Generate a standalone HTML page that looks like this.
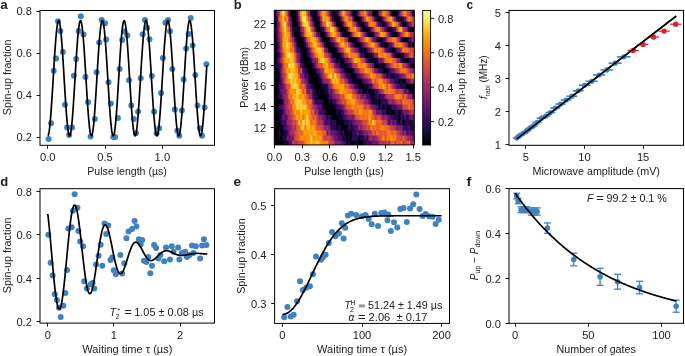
<!DOCTYPE html>
<html><head><meta charset="utf-8"><style>
html,body{margin:0;padding:0;background:#fff;}
svg{display:block;will-change:transform;}
text{font-family:"Liberation Sans", sans-serif;fill:#222;}
</style></head><body>
<svg width="685" height="356" viewBox="0 0 685 356">
<rect width="685" height="356" fill="#fff"/>
<text x="0.3" y="9.2" font-size="12" font-weight="bold" textLength="7.49" lengthAdjust="spacingAndGlyphs">a</text>
<circle cx="48.6" cy="139.1" r="3.0" fill="#4081bf"/>
<circle cx="51.1" cy="123.2" r="3.0" fill="#4081bf"/>
<circle cx="53.7" cy="70.7" r="3.0" fill="#4081bf"/>
<circle cx="56.1" cy="58.4" r="3.0" fill="#4081bf"/>
<circle cx="58" cy="21.2" r="3.0" fill="#4081bf"/>
<circle cx="60.4" cy="31.1" r="3.0" fill="#4081bf"/>
<circle cx="62.8" cy="52.1" r="3.0" fill="#4081bf"/>
<circle cx="65" cy="104.7" r="3.0" fill="#4081bf"/>
<circle cx="67.1" cy="127.5" r="3.0" fill="#4081bf"/>
<circle cx="69.1" cy="135.1" r="3.0" fill="#4081bf"/>
<circle cx="72.1" cy="127.5" r="3.0" fill="#4081bf"/>
<circle cx="73.9" cy="75.7" r="3.0" fill="#4081bf"/>
<circle cx="76.2" cy="58.9" r="3.0" fill="#4081bf"/>
<circle cx="78.6" cy="31.1" r="3.0" fill="#4081bf"/>
<circle cx="80.8" cy="16.3" r="3.0" fill="#4081bf"/>
<circle cx="83.5" cy="34.6" r="3.0" fill="#4081bf"/>
<circle cx="85.5" cy="77" r="3.0" fill="#4081bf"/>
<circle cx="88" cy="102.2" r="3.0" fill="#4081bf"/>
<circle cx="90.6" cy="136.6" r="3.0" fill="#4081bf"/>
<circle cx="94.9" cy="118.9" r="3.0" fill="#4081bf"/>
<circle cx="96.6" cy="72.2" r="3.0" fill="#4081bf"/>
<circle cx="99.2" cy="42.4" r="3.0" fill="#4081bf"/>
<circle cx="101.7" cy="20.1" r="3.0" fill="#4081bf"/>
<circle cx="105" cy="23.2" r="3.0" fill="#4081bf"/>
<circle cx="106.2" cy="39.6" r="3.0" fill="#4081bf"/>
<circle cx="108.5" cy="82.3" r="3.0" fill="#4081bf"/>
<circle cx="110.8" cy="103.5" r="3.0" fill="#4081bf"/>
<circle cx="113.3" cy="137.1" r="3.0" fill="#4081bf"/>
<circle cx="115.1" cy="137.1" r="3.0" fill="#4081bf"/>
<circle cx="117.9" cy="118.1" r="3.0" fill="#4081bf"/>
<circle cx="119.6" cy="69" r="3.0" fill="#4081bf"/>
<circle cx="122.2" cy="39.9" r="3.0" fill="#4081bf"/>
<circle cx="124.5" cy="31.5" r="3.0" fill="#4081bf"/>
<circle cx="127.3" cy="35.4" r="3.0" fill="#4081bf"/>
<circle cx="129" cy="80.3" r="3.0" fill="#4081bf"/>
<circle cx="131.3" cy="105.5" r="3.0" fill="#4081bf"/>
<circle cx="133.8" cy="118.9" r="3.0" fill="#4081bf"/>
<circle cx="135.9" cy="133.3" r="3.0" fill="#4081bf"/>
<circle cx="138.1" cy="111.8" r="3.0" fill="#4081bf"/>
<circle cx="140.7" cy="78.2" r="3.0" fill="#4081bf"/>
<circle cx="142.7" cy="34.2" r="3.0" fill="#4081bf"/>
<circle cx="145" cy="20.1" r="3.0" fill="#4081bf"/>
<circle cx="147.2" cy="27.7" r="3.0" fill="#4081bf"/>
<circle cx="149.5" cy="39.3" r="3.0" fill="#4081bf"/>
<circle cx="151.8" cy="75.9" r="3.0" fill="#4081bf"/>
<circle cx="154.1" cy="111.8" r="3.0" fill="#4081bf"/>
<circle cx="156.6" cy="133.3" r="3.0" fill="#4081bf"/>
<circle cx="159.1" cy="128.3" r="3.0" fill="#4081bf"/>
<circle cx="161.1" cy="92.9" r="3.0" fill="#4081bf"/>
<circle cx="162.9" cy="58" r="3.0" fill="#4081bf"/>
<circle cx="165.4" cy="22.7" r="3.0" fill="#4081bf"/>
<circle cx="168" cy="19.9" r="3.0" fill="#4081bf"/>
<circle cx="170" cy="31.3" r="3.0" fill="#4081bf"/>
<circle cx="172.3" cy="68.9" r="3.0" fill="#4081bf"/>
<circle cx="174.8" cy="109.5" r="3.0" fill="#4081bf"/>
<circle cx="177.3" cy="130.8" r="3.0" fill="#4081bf"/>
<circle cx="179.3" cy="135.8" r="3.0" fill="#4081bf"/>
<circle cx="181.9" cy="110.6" r="3.0" fill="#4081bf"/>
<circle cx="183.6" cy="79.4" r="3.0" fill="#4081bf"/>
<circle cx="186.2" cy="48.4" r="3.0" fill="#4081bf"/>
<circle cx="188.7" cy="34" r="3.0" fill="#4081bf"/>
<circle cx="190.7" cy="18.1" r="3.0" fill="#4081bf"/>
<circle cx="192.7" cy="45.4" r="3.0" fill="#4081bf"/>
<circle cx="195.3" cy="75.1" r="3.0" fill="#4081bf"/>
<circle cx="197.5" cy="105.5" r="3.0" fill="#4081bf"/>
<circle cx="199.8" cy="128.3" r="3.0" fill="#4081bf"/>
<circle cx="202.1" cy="135.8" r="3.0" fill="#4081bf"/>
<circle cx="204.6" cy="107.5" r="3.0" fill="#4081bf"/>
<circle cx="206.4" cy="64.3" r="3.0" fill="#4081bf"/>
<polyline points="47.75,135.81 47.98,135.68 48.21,135.31 48.43,134.7 48.66,133.84 48.89,132.75 49.12,131.42 49.34,129.86 49.57,128.08 49.8,126.09 50.03,123.89 50.25,121.5 50.48,118.92 50.71,116.16 50.94,113.25 51.16,110.18 51.39,106.98 51.62,103.65 51.85,100.21 52.07,96.68 52.3,93.07 52.53,89.4 52.76,85.68 52.98,81.92 53.21,78.15 53.44,74.39 53.67,70.63 53.89,66.91 54.12,63.24 54.35,59.63 54.58,56.11 54.8,52.67 55.03,49.35 55.26,46.15 55.49,43.09 55.71,40.18 55.94,37.43 56.17,34.85 56.4,32.47 56.62,30.27 56.85,28.29 57.08,26.52 57.31,24.97 57.54,23.64 57.76,22.56 57.99,21.71 58.22,21.1 58.45,20.74 58.67,20.62 58.9,20.75 59.13,21.13 59.36,21.75 59.58,22.62 59.81,23.72 60.04,25.06 60.27,26.62 60.49,28.41 60.72,30.41 60.95,32.61 61.18,35.01 61.4,37.6 61.63,40.36 61.86,43.28 62.09,46.35 62.31,49.56 62.54,52.89 62.77,56.33 63,59.86 63.22,63.47 63.45,67.15 63.68,70.87 63.91,74.63 64.13,78.39 64.36,82.16 64.59,85.92 64.82,89.63 65.04,93.3 65.27,96.91 65.5,100.43 65.73,103.86 65.95,107.18 66.18,110.38 66.41,113.44 66.64,116.34 66.87,119.09 67.09,121.65 67.32,124.04 67.55,126.22 67.78,128.2 68,129.96 68.23,131.51 68.46,132.82 68.69,133.9 68.91,134.74 69.14,135.34 69.37,135.7 69.6,135.81 69.82,135.67 70.05,135.28 70.28,134.65 70.51,133.78 70.73,132.67 70.96,131.32 71.19,129.75 71.42,127.96 71.64,125.95 71.87,123.74 72.1,121.34 72.33,118.75 72.55,115.98 72.78,113.05 73.01,109.98 73.24,106.77 73.46,103.43 73.69,99.99 73.92,96.45 74.15,92.84 74.37,89.16 74.6,85.44 74.83,81.68 75.06,77.91 75.28,74.15 75.51,70.39 75.74,66.68 75.97,63.01 76.2,59.41 76.42,55.88 76.65,52.46 76.88,49.14 77.11,45.95 77.33,42.9 77.56,40 77.79,37.26 78.02,34.7 78.24,32.32 78.47,30.14 78.7,28.17 78.93,26.41 79.15,24.88 79.38,23.57 79.61,22.5 79.84,21.66 80.06,21.07 80.29,20.72 80.52,20.62 80.75,20.77 80.97,21.16 81.2,21.8 81.43,22.68 81.66,23.8 81.88,25.15 82.11,26.73 82.34,28.53 82.57,30.54 82.79,32.76 83.02,35.17 83.25,37.77 83.48,40.54 83.7,43.47 83.93,46.55 84.16,49.77 84.39,53.1 84.61,56.55 84.84,60.09 85.07,63.71 85.3,67.38 85.53,71.11 85.75,74.87 85.98,78.64 86.21,82.4 86.44,86.15 86.66,89.87 86.89,93.54 87.12,97.14 87.35,100.66 87.57,104.08 87.8,107.39 88.03,110.58 88.26,113.63 88.48,116.52 88.71,119.26 88.94,121.81 89.17,124.18 89.39,126.35 89.62,128.32 89.85,130.07 90.08,131.6 90.3,132.9 90.53,133.96 90.76,134.79 90.99,135.37 91.21,135.71 91.44,135.8 91.67,135.65 91.9,135.25 92.12,134.6 92.35,133.71 92.58,132.59 92.81,131.23 93.03,129.64 93.26,127.84 93.49,125.82 93.72,123.59 93.94,121.18 94.17,118.57 94.4,115.8 94.63,112.86 94.86,109.78 95.08,106.56 95.31,103.22 95.54,99.77 95.77,96.23 95.99,92.61 96.22,88.93 96.45,85.2 96.68,81.44 96.9,77.67 97.13,73.91 97.36,70.16 97.59,66.44 97.81,62.78 98.04,59.18 98.27,55.66 98.5,52.24 98.72,48.93 98.95,45.75 99.18,42.71 99.41,39.82 99.63,37.09 99.86,34.54 100.09,32.18 100.32,30.01 100.54,28.05 100.77,26.31 101,24.79 101.23,23.49 101.45,22.44 101.68,21.62 101.91,21.04 102.14,20.71 102.36,20.63 102.59,20.79 102.82,21.2 103.05,21.85 103.27,22.75 103.5,23.88 103.73,25.25 103.96,26.84 104.19,28.65 104.41,30.68 104.64,32.91 104.87,35.33 105.1,37.94 105.32,40.72 105.55,43.66 105.78,46.75 106.01,49.98 106.23,53.32 106.46,56.77 106.69,60.32 106.92,63.94 107.14,67.62 107.37,71.35 107.6,75.11 107.83,78.88 108.05,82.64 108.28,86.39 108.51,90.11 108.74,93.77 108.96,97.36 109.19,100.88 109.42,104.29 109.65,107.6 109.87,110.78 110.1,113.82 110.33,116.7 110.56,119.42 110.78,121.97 111.01,124.33 111.24,126.48 111.47,128.44 111.69,130.17 111.92,131.69 112.15,132.97 112.38,134.02 112.6,134.83 112.83,135.4 113.06,135.73 113.29,135.8 113.51,135.63 113.74,135.21 113.97,134.55 114.2,133.65 114.43,132.51 114.65,131.14 114.88,129.54 115.11,127.72 115.34,125.68 115.56,123.45 115.79,121.02 116.02,118.4 116.25,115.62 116.47,112.67 116.7,109.58 116.93,106.35 117.16,103 117.38,99.54 117.61,96 117.84,92.37 118.07,88.69 118.29,84.96 118.52,81.2 118.75,77.43 118.98,73.67 119.2,69.92 119.43,66.21 119.66,62.55 119.89,58.95 120.11,55.44 120.34,52.03 120.57,48.73 120.8,45.55 121.02,42.52 121.25,39.64 121.48,36.92 121.71,34.38 121.93,32.03 122.16,29.88 122.39,27.93 122.62,26.2 122.84,24.7 123.07,23.42 123.3,22.38 123.53,21.57 123.76,21.01 123.98,20.7 124.21,20.63 124.44,20.81 124.67,21.23 124.89,21.9 125.12,22.81 125.35,23.96 125.58,25.34 125.8,26.95 126.03,28.78 126.26,30.81 126.49,33.06 126.71,35.49 126.94,38.11 127.17,40.9 127.4,43.85 127.62,46.95 127.85,50.19 128.08,53.54 128.31,57 128.53,60.55 128.76,64.17 128.99,67.86 129.22,71.59 129.44,75.35 129.67,79.12 129.9,82.88 130.13,86.63 130.35,90.34 130.58,94 130.81,97.59 131.04,101.1 131.26,104.51 131.49,107.8 131.72,110.97 131.95,114 132.17,116.88 132.4,119.59 132.63,122.12 132.86,124.47 133.09,126.62 133.31,128.55 133.54,130.28 133.77,131.78 134,133.05 134.22,134.08 134.45,134.88 134.68,135.43 134.91,135.74 135.13,135.8 135.36,135.61 135.59,135.18 135.82,134.5 136.04,133.58 136.27,132.43 136.5,131.04 136.73,129.43 136.95,127.59 137.18,125.55 137.41,123.3 137.64,120.86 137.86,118.23 138.09,115.43 138.32,112.48 138.55,109.37 138.77,106.14 139,102.78 139.23,99.32 139.46,95.77 139.68,92.14 139.91,88.45 140.14,84.72 140.37,80.96 140.59,77.19 140.82,73.43 141.05,69.68 141.28,65.97 141.5,62.31 141.73,58.73 141.96,55.22 142.19,51.81 142.42,48.52 142.64,45.35 142.87,42.33 143.1,39.46 143.33,36.75 143.55,34.23 143.78,31.89 144.01,29.75 144.24,27.82 144.46,26.1 144.69,24.61 144.92,23.34 145.15,22.32 145.37,21.53 145.6,20.98 145.83,20.69 146.06,20.63 146.28,20.83 146.51,21.27 146.74,21.95 146.97,22.88 147.19,24.04 147.42,25.44 147.65,27.06 147.88,28.9 148.1,30.95 148.33,33.21 148.56,35.65 148.79,38.28 149.01,41.09 149.24,44.05 149.47,47.16 149.7,50.4 149.92,53.76 150.15,57.22 150.38,60.78 150.61,64.41 150.83,68.09 151.06,71.83 151.29,75.59 151.52,79.36 151.75,83.12 151.97,86.87 152.2,90.58 152.43,94.23 152.66,97.82 152.88,101.32 153.11,104.72 153.34,108.01 153.57,111.17 153.79,114.19 154.02,117.06 154.25,119.76 154.48,122.28 154.7,124.61 154.93,126.75 155.16,128.67 155.39,130.38 155.61,131.87 155.84,133.12 156.07,134.14 156.3,134.92 156.52,135.46 156.75,135.75 156.98,135.79 157.21,135.59 157.43,135.14 157.66,134.45 157.89,133.52 158.12,132.35 158.34,130.94 158.57,129.32 158.8,127.47 159.03,125.41 159.25,123.15 159.48,120.69 159.71,118.06 159.94,115.25 160.16,112.28 160.39,109.17 160.62,105.93 160.85,102.56 161.08,99.1 161.3,95.54 161.53,91.91 161.76,88.22 161.99,84.48 162.21,80.72 162.44,76.95 162.67,73.19 162.9,69.44 163.12,65.74 163.35,62.08 163.58,58.5 163.81,55 164.03,51.6 164.26,48.31 164.49,45.16 164.72,42.14 164.94,39.28 165.17,36.59 165.4,34.07 165.63,31.75 165.85,29.62 166.08,27.7 166.31,26 166.54,24.52 166.76,23.27 166.99,22.26 167.22,21.49 167.45,20.96 167.67,20.67 167.9,20.64 168.13,20.85 168.36,21.3 168.58,22 168.81,22.94 169.04,24.12 169.27,25.53 169.49,27.17 169.72,29.02 169.95,31.09 170.18,33.36 170.41,35.82 170.63,38.46 170.86,41.27 171.09,44.24 171.32,47.36 171.54,50.61 171.77,53.97 172,57.44 172.23,61 172.45,64.64 172.68,68.33 172.91,72.07 173.14,75.83 173.36,79.6 173.59,83.36 173.82,87.11 174.05,90.81 174.27,94.46 174.5,98.04 174.73,101.54 174.96,104.93 175.18,108.22 175.41,111.37 175.64,114.38 175.87,117.24 176.09,119.92 176.32,122.43 176.55,124.75 176.78,126.87 177,128.79 177.23,130.48 177.46,131.95 177.69,133.19 177.91,134.2 178.14,134.96 178.37,135.48 178.6,135.76 178.82,135.79 179.05,135.57 179.28,135.11 179.51,134.4 179.74,133.45 179.96,132.26 180.19,130.85 180.42,129.2 180.65,127.34 180.87,125.27 181.1,123 181.33,120.53 181.56,117.88 181.78,115.07 182.01,112.09 182.24,108.97 182.47,105.72 182.69,102.35 182.92,98.87 183.15,95.31 183.38,91.67 183.6,87.98 183.83,84.24 184.06,80.48 184.29,76.71 184.51,72.95 184.74,69.2 184.97,65.5 185.2,61.85 185.42,58.27 185.65,54.78 185.88,51.39 186.11,48.11 186.33,44.96 186.56,41.95 186.79,39.1 187.02,36.42 187.24,33.92 187.47,31.6 187.7,29.49 187.93,27.58 188.15,25.9 188.38,24.43 188.61,23.2 188.84,22.2 189.07,21.45 189.29,20.93 189.52,20.67 189.75,20.64 189.98,20.87 190.2,21.34 190.43,22.06 190.66,23.01 190.89,24.21 191.11,25.63 191.34,27.28 191.57,29.15 191.8,31.23 192.02,33.51 192.25,35.98 192.48,38.63 192.71,41.46 192.93,44.44 193.16,47.56 193.39,50.82 193.62,54.19 193.84,57.67 194.07,61.23 194.3,64.87 194.53,68.57 194.75,72.3 194.98,76.07 195.21,79.84 195.44,83.6 195.66,87.34 195.89,91.04 196.12,94.69 196.35,98.27 196.57,101.76 196.8,105.15 197.03,108.42 197.26,111.57 197.48,114.57 197.71,117.41 197.94,120.09 198.17,122.59 198.4,124.9 198.62,127 198.85,128.9 199.08,130.58 199.31,132.04 199.53,133.26 199.76,134.25 199.99,135 200.22,135.51 200.44,135.77 200.67,135.78 200.9,135.55 201.13,135.07 201.35,134.35 201.58,133.38 201.81,132.18 202.04,130.75 202.26,129.09 202.49,127.22 202.72,125.13 202.95,122.84 203.17,120.37 203.4,117.71 203.63,114.88 203.86,111.89 204.08,108.77 204.31,105.5 204.54,102.13 204.77,98.65 204.99,95.08 205.22,91.44 205.45,87.74 205.68,84 205.9,80.24 206.13,76.47 206.36,72.71 206.59,68.97 206.81,65.27" fill="none" stroke="#000" stroke-width="1.7" stroke-linejoin="round" stroke-linecap="butt"/>
<rect x="40" y="10.5" width="174.5" height="134.8" fill="none" stroke="#000" stroke-width="1.0"/>
<line x1="36.5" y1="137.5" x2="40" y2="137.5" stroke="#000" stroke-width="0.9" />
<text x="31.9" y="140.8" font-size="10.0" text-anchor="end" textLength="15.46" lengthAdjust="spacingAndGlyphs" >0.2</text>
<line x1="36.5" y1="95.5" x2="40" y2="95.5" stroke="#000" stroke-width="0.9" />
<text x="31.9" y="98.9" font-size="10.0" text-anchor="end" textLength="15.46" lengthAdjust="spacingAndGlyphs" >0.4</text>
<line x1="36.5" y1="53.5" x2="40" y2="53.5" stroke="#000" stroke-width="0.9" />
<text x="31.9" y="57" font-size="10.0" text-anchor="end" textLength="15.46" lengthAdjust="spacingAndGlyphs" >0.6</text>
<line x1="36.5" y1="11.5" x2="40" y2="11.5" stroke="#000" stroke-width="0.9" />
<text x="31.9" y="15.1" font-size="10.0" text-anchor="end" textLength="15.46" lengthAdjust="spacingAndGlyphs" >0.8</text>
<line x1="47.5" y1="145.3" x2="47.5" y2="148.8" stroke="#000" stroke-width="0.9" />
<text x="47.75" y="161.2" font-size="10.0" text-anchor="middle" textLength="15.46" lengthAdjust="spacingAndGlyphs" >0.0</text>
<line x1="105.5" y1="145.3" x2="105.5" y2="148.8" stroke="#000" stroke-width="0.9" />
<text x="105.05" y="161.2" font-size="10.0" text-anchor="middle" textLength="15.46" lengthAdjust="spacingAndGlyphs" >0.5</text>
<line x1="162.5" y1="145.3" x2="162.5" y2="148.8" stroke="#000" stroke-width="0.9" />
<text x="162.35" y="161.2" font-size="10.0" text-anchor="middle" textLength="15.46" lengthAdjust="spacingAndGlyphs" >1.0</text>
<text x="127.1" y="174.5" font-size="10.0" text-anchor="middle" textLength="79.55" lengthAdjust="spacingAndGlyphs" >Pulse length (µs)</text>
<text transform="translate(10.6,77.4) rotate(-90)" font-size="10.0" text-anchor="middle" textLength="75.53" lengthAdjust="spacingAndGlyphs">Spin-up fraction</text>
<text x="233.8" y="9.2" font-size="12" font-weight="bold" textLength="7.95" lengthAdjust="spacingAndGlyphs">b</text>
<rect x="274.3" y="139.72" width="2.9" height="5.18" fill="#0a0722"/>
<rect x="276.3" y="139.72" width="2.9" height="5.18" fill="#000004"/>
<rect x="278.3" y="139.72" width="2.9" height="5.18" fill="#02010a"/>
<rect x="280.3" y="139.72" width="2.9" height="5.18" fill="#000004"/>
<rect x="282.3" y="139.72" width="2.9" height="5.18" fill="#08051d"/>
<rect x="284.3" y="139.72" width="2.9" height="5.18" fill="#1e0c45"/>
<rect x="286.3" y="139.72" width="2.9" height="5.18" fill="#0e092b"/>
<rect x="288.3" y="139.72" width="2.9" height="5.18" fill="#520e6d"/>
<rect x="290.3" y="139.72" width="2.9" height="5.18" fill="#5d126e"/>
<rect x="292.3" y="139.72" width="2.9" height="5.18" fill="#d54a41"/>
<rect x="294.3" y="139.72" width="2.9" height="5.18" fill="#ad305d"/>
<rect x="296.3" y="139.72" width="2.9" height="5.18" fill="#b93556"/>
<rect x="298.3" y="139.72" width="2.9" height="5.18" fill="#cf4446"/>
<rect x="300.3" y="139.72" width="2.9" height="5.18" fill="#da4e3c"/>
<rect x="302.3" y="139.72" width="2.9" height="5.18" fill="#e25734"/>
<rect x="304.3" y="139.72" width="2.9" height="5.18" fill="#f37819"/>
<rect x="306.3" y="139.72" width="2.9" height="5.18" fill="#fc9f07"/>
<rect x="308.3" y="139.72" width="2.9" height="5.18" fill="#fb9706"/>
<rect x="310.3" y="139.72" width="2.9" height="5.18" fill="#fac228"/>
<rect x="312.3" y="139.72" width="2.9" height="5.18" fill="#fca60c"/>
<rect x="314.3" y="139.72" width="2.9" height="5.18" fill="#fcac11"/>
<rect x="316.3" y="139.72" width="2.9" height="5.18" fill="#f7d340"/>
<rect x="318.3" y="139.72" width="2.9" height="5.18" fill="#fcae12"/>
<rect x="320.3" y="139.72" width="2.9" height="5.18" fill="#f8850f"/>
<rect x="322.3" y="139.72" width="2.9" height="5.18" fill="#f67e14"/>
<rect x="324.3" y="139.72" width="2.9" height="5.18" fill="#f67e14"/>
<rect x="326.3" y="139.72" width="2.9" height="5.18" fill="#f98e09"/>
<rect x="328.3" y="139.72" width="2.9" height="5.18" fill="#d54a41"/>
<rect x="330.3" y="139.72" width="2.9" height="5.18" fill="#c43c4e"/>
<rect x="332.3" y="139.72" width="2.9" height="5.18" fill="#ca404a"/>
<rect x="334.3" y="139.72" width="2.9" height="5.18" fill="#88226a"/>
<rect x="336.3" y="139.72" width="2.9" height="5.18" fill="#801f6c"/>
<rect x="338.3" y="139.72" width="2.9" height="5.18" fill="#85216b"/>
<rect x="340.3" y="139.72" width="2.9" height="5.18" fill="#69166e"/>
<rect x="342.3" y="139.72" width="2.9" height="5.18" fill="#4a0c6b"/>
<rect x="344.3" y="139.72" width="2.9" height="5.18" fill="#450a69"/>
<rect x="346.3" y="139.72" width="2.9" height="5.18" fill="#000004"/>
<rect x="348.3" y="139.72" width="2.9" height="5.18" fill="#310a5c"/>
<rect x="350.3" y="139.72" width="2.9" height="5.18" fill="#02020c"/>
<rect x="352.3" y="139.72" width="2.9" height="5.18" fill="#000004"/>
<rect x="354.3" y="139.72" width="2.9" height="5.18" fill="#0c0826"/>
<rect x="356.3" y="139.72" width="2.9" height="5.18" fill="#120a32"/>
<rect x="358.3" y="139.72" width="2.9" height="5.18" fill="#030210"/>
<rect x="360.3" y="139.72" width="2.9" height="5.18" fill="#010005"/>
<rect x="362.3" y="139.72" width="2.9" height="5.18" fill="#120a32"/>
<rect x="364.3" y="139.72" width="2.9" height="5.18" fill="#1b0c41"/>
<rect x="366.3" y="139.72" width="2.9" height="5.18" fill="#4d0d6c"/>
<rect x="368.3" y="139.72" width="2.9" height="5.18" fill="#4c0c6b"/>
<rect x="370.3" y="139.72" width="2.9" height="5.18" fill="#4f0d6c"/>
<rect x="372.3" y="139.72" width="2.9" height="5.18" fill="#771c6d"/>
<rect x="374.3" y="139.72" width="2.9" height="5.18" fill="#6a176e"/>
<rect x="376.3" y="139.72" width="2.9" height="5.18" fill="#6c186e"/>
<rect x="378.3" y="139.72" width="2.9" height="5.18" fill="#a22b62"/>
<rect x="380.3" y="139.72" width="2.9" height="5.18" fill="#b3325a"/>
<rect x="382.3" y="139.72" width="2.9" height="5.18" fill="#b1325a"/>
<rect x="384.3" y="139.72" width="2.9" height="5.18" fill="#b43359"/>
<rect x="386.3" y="139.72" width="2.9" height="5.18" fill="#d54a41"/>
<rect x="388.3" y="139.72" width="2.9" height="5.18" fill="#a62d60"/>
<rect x="390.3" y="139.72" width="2.9" height="5.18" fill="#eb6429"/>
<rect x="392.3" y="139.72" width="2.9" height="5.18" fill="#ec6726"/>
<rect x="394.3" y="139.72" width="2.9" height="5.18" fill="#ce4347"/>
<rect x="396.3" y="139.72" width="2.9" height="5.18" fill="#eb6628"/>
<rect x="398.3" y="139.72" width="2.9" height="5.18" fill="#dd513a"/>
<rect x="400.3" y="139.72" width="2.9" height="5.18" fill="#f2741c"/>
<rect x="402.3" y="139.72" width="2.9" height="5.18" fill="#c13a50"/>
<rect x="404.3" y="139.72" width="2.9" height="5.18" fill="#d24644"/>
<rect x="406.3" y="139.72" width="2.9" height="5.18" fill="#e65d2f"/>
<rect x="408.3" y="139.72" width="2.9" height="5.18" fill="#e65d2f"/>
<rect x="410.3" y="139.72" width="2.9" height="5.18" fill="#982766"/>
<rect x="412.3" y="139.72" width="2" height="5.18" fill="#b0315b"/>
<rect x="274.3" y="134.55" width="2.9" height="6.08" fill="#000004"/>
<rect x="276.3" y="134.55" width="2.9" height="6.08" fill="#000004"/>
<rect x="278.3" y="134.55" width="2.9" height="6.08" fill="#140b34"/>
<rect x="280.3" y="134.55" width="2.9" height="6.08" fill="#000004"/>
<rect x="282.3" y="134.55" width="2.9" height="6.08" fill="#1c0c43"/>
<rect x="284.3" y="134.55" width="2.9" height="6.08" fill="#140b34"/>
<rect x="286.3" y="134.55" width="2.9" height="6.08" fill="#69166e"/>
<rect x="288.3" y="134.55" width="2.9" height="6.08" fill="#64156e"/>
<rect x="290.3" y="134.55" width="2.9" height="6.08" fill="#781c6d"/>
<rect x="292.3" y="134.55" width="2.9" height="6.08" fill="#751b6e"/>
<rect x="294.3" y="134.55" width="2.9" height="6.08" fill="#da4e3c"/>
<rect x="296.3" y="134.55" width="2.9" height="6.08" fill="#de5238"/>
<rect x="298.3" y="134.55" width="2.9" height="6.08" fill="#ed6925"/>
<rect x="300.3" y="134.55" width="2.9" height="6.08" fill="#f8890c"/>
<rect x="302.3" y="134.55" width="2.9" height="6.08" fill="#f98b0b"/>
<rect x="304.3" y="134.55" width="2.9" height="6.08" fill="#f78212"/>
<rect x="306.3" y="134.55" width="2.9" height="6.08" fill="#f98b0b"/>
<rect x="308.3" y="134.55" width="2.9" height="6.08" fill="#fa9407"/>
<rect x="310.3" y="134.55" width="2.9" height="6.08" fill="#f6d746"/>
<rect x="312.3" y="134.55" width="2.9" height="6.08" fill="#f8870e"/>
<rect x="314.3" y="134.55" width="2.9" height="6.08" fill="#fb9906"/>
<rect x="316.3" y="134.55" width="2.9" height="6.08" fill="#fb9606"/>
<rect x="318.3" y="134.55" width="2.9" height="6.08" fill="#fb9606"/>
<rect x="320.3" y="134.55" width="2.9" height="6.08" fill="#f98e09"/>
<rect x="322.3" y="134.55" width="2.9" height="6.08" fill="#dd513a"/>
<rect x="324.3" y="134.55" width="2.9" height="6.08" fill="#c33b4f"/>
<rect x="326.3" y="134.55" width="2.9" height="6.08" fill="#d24644"/>
<rect x="328.3" y="134.55" width="2.9" height="6.08" fill="#d44842"/>
<rect x="330.3" y="134.55" width="2.9" height="6.08" fill="#b63458"/>
<rect x="332.3" y="134.55" width="2.9" height="6.08" fill="#922568"/>
<rect x="334.3" y="134.55" width="2.9" height="6.08" fill="#6c186e"/>
<rect x="336.3" y="134.55" width="2.9" height="6.08" fill="#64156e"/>
<rect x="338.3" y="134.55" width="2.9" height="6.08" fill="#400a67"/>
<rect x="340.3" y="134.55" width="2.9" height="6.08" fill="#470b6a"/>
<rect x="342.3" y="134.55" width="2.9" height="6.08" fill="#10092d"/>
<rect x="344.3" y="134.55" width="2.9" height="6.08" fill="#160b39"/>
<rect x="346.3" y="134.55" width="2.9" height="6.08" fill="#0a0722"/>
<rect x="348.3" y="134.55" width="2.9" height="6.08" fill="#10092d"/>
<rect x="350.3" y="134.55" width="2.9" height="6.08" fill="#08051d"/>
<rect x="352.3" y="134.55" width="2.9" height="6.08" fill="#3d0965"/>
<rect x="354.3" y="134.55" width="2.9" height="6.08" fill="#260c51"/>
<rect x="356.3" y="134.55" width="2.9" height="6.08" fill="#2d0b59"/>
<rect x="358.3" y="134.55" width="2.9" height="6.08" fill="#000004"/>
<rect x="360.3" y="134.55" width="2.9" height="6.08" fill="#190c3e"/>
<rect x="362.3" y="134.55" width="2.9" height="6.08" fill="#230c4c"/>
<rect x="364.3" y="134.55" width="2.9" height="6.08" fill="#520e6d"/>
<rect x="366.3" y="134.55" width="2.9" height="6.08" fill="#1f0c48"/>
<rect x="368.3" y="134.55" width="2.9" height="6.08" fill="#87216b"/>
<rect x="370.3" y="134.55" width="2.9" height="6.08" fill="#9a2865"/>
<rect x="372.3" y="134.55" width="2.9" height="6.08" fill="#771c6d"/>
<rect x="374.3" y="134.55" width="2.9" height="6.08" fill="#922568"/>
<rect x="376.3" y="134.55" width="2.9" height="6.08" fill="#a82e5f"/>
<rect x="378.3" y="134.55" width="2.9" height="6.08" fill="#cb4149"/>
<rect x="380.3" y="134.55" width="2.9" height="6.08" fill="#e15635"/>
<rect x="382.3" y="134.55" width="2.9" height="6.08" fill="#f78410"/>
<rect x="384.3" y="134.55" width="2.9" height="6.08" fill="#e45a31"/>
<rect x="386.3" y="134.55" width="2.9" height="6.08" fill="#f37819"/>
<rect x="388.3" y="134.55" width="2.9" height="6.08" fill="#ef6e21"/>
<rect x="390.3" y="134.55" width="2.9" height="6.08" fill="#fb9706"/>
<rect x="392.3" y="134.55" width="2.9" height="6.08" fill="#f57b17"/>
<rect x="394.3" y="134.55" width="2.9" height="6.08" fill="#f8870e"/>
<rect x="396.3" y="134.55" width="2.9" height="6.08" fill="#d54a41"/>
<rect x="398.3" y="134.55" width="2.9" height="6.08" fill="#de5238"/>
<rect x="400.3" y="134.55" width="2.9" height="6.08" fill="#ca404a"/>
<rect x="402.3" y="134.55" width="2.9" height="6.08" fill="#e75e2e"/>
<rect x="404.3" y="134.55" width="2.9" height="6.08" fill="#ce4347"/>
<rect x="406.3" y="134.55" width="2.9" height="6.08" fill="#a92e5e"/>
<rect x="408.3" y="134.55" width="2.9" height="6.08" fill="#952667"/>
<rect x="410.3" y="134.55" width="2.9" height="6.08" fill="#982766"/>
<rect x="412.3" y="134.55" width="2" height="6.08" fill="#6c186e"/>
<rect x="274.3" y="129.37" width="2.9" height="6.08" fill="#000004"/>
<rect x="276.3" y="129.37" width="2.9" height="6.08" fill="#000004"/>
<rect x="278.3" y="129.37" width="2.9" height="6.08" fill="#290b55"/>
<rect x="280.3" y="129.37" width="2.9" height="6.08" fill="#040314"/>
<rect x="282.3" y="129.37" width="2.9" height="6.08" fill="#0e092b"/>
<rect x="284.3" y="129.37" width="2.9" height="6.08" fill="#190c3e"/>
<rect x="286.3" y="129.37" width="2.9" height="6.08" fill="#320a5e"/>
<rect x="288.3" y="129.37" width="2.9" height="6.08" fill="#7d1e6d"/>
<rect x="290.3" y="129.37" width="2.9" height="6.08" fill="#a32c61"/>
<rect x="292.3" y="129.37" width="2.9" height="6.08" fill="#ae305c"/>
<rect x="294.3" y="129.37" width="2.9" height="6.08" fill="#cf4446"/>
<rect x="296.3" y="129.37" width="2.9" height="6.08" fill="#e05536"/>
<rect x="298.3" y="129.37" width="2.9" height="6.08" fill="#ef6c23"/>
<rect x="300.3" y="129.37" width="2.9" height="6.08" fill="#e55c30"/>
<rect x="302.3" y="129.37" width="2.9" height="6.08" fill="#f8870e"/>
<rect x="304.3" y="129.37" width="2.9" height="6.08" fill="#fca60c"/>
<rect x="306.3" y="129.37" width="2.9" height="6.08" fill="#fb9706"/>
<rect x="308.3" y="129.37" width="2.9" height="6.08" fill="#fca50a"/>
<rect x="310.3" y="129.37" width="2.9" height="6.08" fill="#fb9b06"/>
<rect x="312.3" y="129.37" width="2.9" height="6.08" fill="#fca108"/>
<rect x="314.3" y="129.37" width="2.9" height="6.08" fill="#fbb61a"/>
<rect x="316.3" y="129.37" width="2.9" height="6.08" fill="#f78410"/>
<rect x="318.3" y="129.37" width="2.9" height="6.08" fill="#f3761b"/>
<rect x="320.3" y="129.37" width="2.9" height="6.08" fill="#f37819"/>
<rect x="322.3" y="129.37" width="2.9" height="6.08" fill="#e65d2f"/>
<rect x="324.3" y="129.37" width="2.9" height="6.08" fill="#e65d2f"/>
<rect x="326.3" y="129.37" width="2.9" height="6.08" fill="#7f1e6c"/>
<rect x="328.3" y="129.37" width="2.9" height="6.08" fill="#a92e5e"/>
<rect x="330.3" y="129.37" width="2.9" height="6.08" fill="#6f196e"/>
<rect x="332.3" y="129.37" width="2.9" height="6.08" fill="#64156e"/>
<rect x="334.3" y="129.37" width="2.9" height="6.08" fill="#5d126e"/>
<rect x="336.3" y="129.37" width="2.9" height="6.08" fill="#4d0d6c"/>
<rect x="338.3" y="129.37" width="2.9" height="6.08" fill="#390963"/>
<rect x="340.3" y="129.37" width="2.9" height="6.08" fill="#150b37"/>
<rect x="342.3" y="129.37" width="2.9" height="6.08" fill="#2b0b57"/>
<rect x="344.3" y="129.37" width="2.9" height="6.08" fill="#02020e"/>
<rect x="346.3" y="129.37" width="2.9" height="6.08" fill="#02020e"/>
<rect x="348.3" y="129.37" width="2.9" height="6.08" fill="#10092d"/>
<rect x="350.3" y="129.37" width="2.9" height="6.08" fill="#02010a"/>
<rect x="352.3" y="129.37" width="2.9" height="6.08" fill="#3e0966"/>
<rect x="354.3" y="129.37" width="2.9" height="6.08" fill="#2f0a5b"/>
<rect x="356.3" y="129.37" width="2.9" height="6.08" fill="#5c126e"/>
<rect x="358.3" y="129.37" width="2.9" height="6.08" fill="#390963"/>
<rect x="360.3" y="129.37" width="2.9" height="6.08" fill="#470b6a"/>
<rect x="362.3" y="129.37" width="2.9" height="6.08" fill="#69166e"/>
<rect x="364.3" y="129.37" width="2.9" height="6.08" fill="#8d2369"/>
<rect x="366.3" y="129.37" width="2.9" height="6.08" fill="#84206b"/>
<rect x="368.3" y="129.37" width="2.9" height="6.08" fill="#b0315b"/>
<rect x="370.3" y="129.37" width="2.9" height="6.08" fill="#bc3754"/>
<rect x="372.3" y="129.37" width="2.9" height="6.08" fill="#e8602d"/>
<rect x="374.3" y="129.37" width="2.9" height="6.08" fill="#ce4347"/>
<rect x="376.3" y="129.37" width="2.9" height="6.08" fill="#f1711f"/>
<rect x="378.3" y="129.37" width="2.9" height="6.08" fill="#e15635"/>
<rect x="380.3" y="129.37" width="2.9" height="6.08" fill="#e15635"/>
<rect x="382.3" y="129.37" width="2.9" height="6.08" fill="#e8602d"/>
<rect x="384.3" y="129.37" width="2.9" height="6.08" fill="#e25734"/>
<rect x="386.3" y="129.37" width="2.9" height="6.08" fill="#f1731d"/>
<rect x="388.3" y="129.37" width="2.9" height="6.08" fill="#f78212"/>
<rect x="390.3" y="129.37" width="2.9" height="6.08" fill="#eb6429"/>
<rect x="392.3" y="129.37" width="2.9" height="6.08" fill="#ea632a"/>
<rect x="394.3" y="129.37" width="2.9" height="6.08" fill="#ee6a24"/>
<rect x="396.3" y="129.37" width="2.9" height="6.08" fill="#ce4347"/>
<rect x="398.3" y="129.37" width="2.9" height="6.08" fill="#bc3754"/>
<rect x="400.3" y="129.37" width="2.9" height="6.08" fill="#9f2a63"/>
<rect x="402.3" y="129.37" width="2.9" height="6.08" fill="#6c186e"/>
<rect x="404.3" y="129.37" width="2.9" height="6.08" fill="#902568"/>
<rect x="406.3" y="129.37" width="2.9" height="6.08" fill="#400a67"/>
<rect x="408.3" y="129.37" width="2.9" height="6.08" fill="#67166e"/>
<rect x="410.3" y="129.37" width="2.9" height="6.08" fill="#470b6a"/>
<rect x="412.3" y="129.37" width="2" height="6.08" fill="#540f6d"/>
<rect x="274.3" y="124.19" width="2.9" height="6.08" fill="#000004"/>
<rect x="276.3" y="124.19" width="2.9" height="6.08" fill="#000004"/>
<rect x="278.3" y="124.19" width="2.9" height="6.08" fill="#040312"/>
<rect x="280.3" y="124.19" width="2.9" height="6.08" fill="#040312"/>
<rect x="282.3" y="124.19" width="2.9" height="6.08" fill="#1c0c43"/>
<rect x="284.3" y="124.19" width="2.9" height="6.08" fill="#420a68"/>
<rect x="286.3" y="124.19" width="2.9" height="6.08" fill="#5d126e"/>
<rect x="288.3" y="124.19" width="2.9" height="6.08" fill="#7c1d6d"/>
<rect x="290.3" y="124.19" width="2.9" height="6.08" fill="#8d2369"/>
<rect x="292.3" y="124.19" width="2.9" height="6.08" fill="#bc3754"/>
<rect x="294.3" y="124.19" width="2.9" height="6.08" fill="#ad305d"/>
<rect x="296.3" y="124.19" width="2.9" height="6.08" fill="#e8602d"/>
<rect x="298.3" y="124.19" width="2.9" height="6.08" fill="#e8602d"/>
<rect x="300.3" y="124.19" width="2.9" height="6.08" fill="#fcb216"/>
<rect x="302.3" y="124.19" width="2.9" height="6.08" fill="#f9c72f"/>
<rect x="304.3" y="124.19" width="2.9" height="6.08" fill="#f57b17"/>
<rect x="306.3" y="124.19" width="2.9" height="6.08" fill="#fbba1f"/>
<rect x="308.3" y="124.19" width="2.9" height="6.08" fill="#fcb014"/>
<rect x="310.3" y="124.19" width="2.9" height="6.08" fill="#fa9008"/>
<rect x="312.3" y="124.19" width="2.9" height="6.08" fill="#fcae12"/>
<rect x="314.3" y="124.19" width="2.9" height="6.08" fill="#f68013"/>
<rect x="316.3" y="124.19" width="2.9" height="6.08" fill="#db503b"/>
<rect x="318.3" y="124.19" width="2.9" height="6.08" fill="#e35933"/>
<rect x="320.3" y="124.19" width="2.9" height="6.08" fill="#d34743"/>
<rect x="322.3" y="124.19" width="2.9" height="6.08" fill="#c03a51"/>
<rect x="324.3" y="124.19" width="2.9" height="6.08" fill="#85216b"/>
<rect x="326.3" y="124.19" width="2.9" height="6.08" fill="#932667"/>
<rect x="328.3" y="124.19" width="2.9" height="6.08" fill="#7a1d6d"/>
<rect x="330.3" y="124.19" width="2.9" height="6.08" fill="#320a5e"/>
<rect x="332.3" y="124.19" width="2.9" height="6.08" fill="#240c4f"/>
<rect x="334.3" y="124.19" width="2.9" height="6.08" fill="#1e0c45"/>
<rect x="336.3" y="124.19" width="2.9" height="6.08" fill="#07051b"/>
<rect x="338.3" y="124.19" width="2.9" height="6.08" fill="#2d0b59"/>
<rect x="340.3" y="124.19" width="2.9" height="6.08" fill="#060419"/>
<rect x="342.3" y="124.19" width="2.9" height="6.08" fill="#000004"/>
<rect x="344.3" y="124.19" width="2.9" height="6.08" fill="#000004"/>
<rect x="346.3" y="124.19" width="2.9" height="6.08" fill="#050417"/>
<rect x="348.3" y="124.19" width="2.9" height="6.08" fill="#440a68"/>
<rect x="350.3" y="124.19" width="2.9" height="6.08" fill="#150b37"/>
<rect x="352.3" y="124.19" width="2.9" height="6.08" fill="#2f0a5b"/>
<rect x="354.3" y="124.19" width="2.9" height="6.08" fill="#4f0d6c"/>
<rect x="356.3" y="124.19" width="2.9" height="6.08" fill="#59106e"/>
<rect x="358.3" y="124.19" width="2.9" height="6.08" fill="#a62d60"/>
<rect x="360.3" y="124.19" width="2.9" height="6.08" fill="#7d1e6d"/>
<rect x="362.3" y="124.19" width="2.9" height="6.08" fill="#b3325a"/>
<rect x="364.3" y="124.19" width="2.9" height="6.08" fill="#bc3754"/>
<rect x="366.3" y="124.19" width="2.9" height="6.08" fill="#d84c3e"/>
<rect x="368.3" y="124.19" width="2.9" height="6.08" fill="#c43c4e"/>
<rect x="370.3" y="124.19" width="2.9" height="6.08" fill="#f8870e"/>
<rect x="372.3" y="124.19" width="2.9" height="6.08" fill="#eb6628"/>
<rect x="374.3" y="124.19" width="2.9" height="6.08" fill="#f1731d"/>
<rect x="376.3" y="124.19" width="2.9" height="6.08" fill="#e8602d"/>
<rect x="378.3" y="124.19" width="2.9" height="6.08" fill="#eb6628"/>
<rect x="380.3" y="124.19" width="2.9" height="6.08" fill="#f78212"/>
<rect x="382.3" y="124.19" width="2.9" height="6.08" fill="#f8850f"/>
<rect x="384.3" y="124.19" width="2.9" height="6.08" fill="#f1731d"/>
<rect x="386.3" y="124.19" width="2.9" height="6.08" fill="#f06f20"/>
<rect x="388.3" y="124.19" width="2.9" height="6.08" fill="#e05536"/>
<rect x="390.3" y="124.19" width="2.9" height="6.08" fill="#c43c4e"/>
<rect x="392.3" y="124.19" width="2.9" height="6.08" fill="#c33b4f"/>
<rect x="394.3" y="124.19" width="2.9" height="6.08" fill="#a92e5e"/>
<rect x="396.3" y="124.19" width="2.9" height="6.08" fill="#84206b"/>
<rect x="398.3" y="124.19" width="2.9" height="6.08" fill="#801f6c"/>
<rect x="400.3" y="124.19" width="2.9" height="6.08" fill="#7a1d6d"/>
<rect x="402.3" y="124.19" width="2.9" height="6.08" fill="#4d0d6c"/>
<rect x="404.3" y="124.19" width="2.9" height="6.08" fill="#2d0b59"/>
<rect x="406.3" y="124.19" width="2.9" height="6.08" fill="#390963"/>
<rect x="408.3" y="124.19" width="2.9" height="6.08" fill="#4c0c6b"/>
<rect x="410.3" y="124.19" width="2.9" height="6.08" fill="#110a30"/>
<rect x="412.3" y="124.19" width="2" height="6.08" fill="#110a30"/>
<rect x="274.3" y="119.02" width="2.9" height="6.08" fill="#000004"/>
<rect x="276.3" y="119.02" width="2.9" height="6.08" fill="#07051b"/>
<rect x="278.3" y="119.02" width="2.9" height="6.08" fill="#000004"/>
<rect x="280.3" y="119.02" width="2.9" height="6.08" fill="#160b39"/>
<rect x="282.3" y="119.02" width="2.9" height="6.08" fill="#490b6a"/>
<rect x="284.3" y="119.02" width="2.9" height="6.08" fill="#380962"/>
<rect x="286.3" y="119.02" width="2.9" height="6.08" fill="#902568"/>
<rect x="288.3" y="119.02" width="2.9" height="6.08" fill="#9d2964"/>
<rect x="290.3" y="119.02" width="2.9" height="6.08" fill="#a52c60"/>
<rect x="292.3" y="119.02" width="2.9" height="6.08" fill="#d34743"/>
<rect x="294.3" y="119.02" width="2.9" height="6.08" fill="#cb4149"/>
<rect x="296.3" y="119.02" width="2.9" height="6.08" fill="#ed6925"/>
<rect x="298.3" y="119.02" width="2.9" height="6.08" fill="#fac42a"/>
<rect x="300.3" y="119.02" width="2.9" height="6.08" fill="#f98b0b"/>
<rect x="302.3" y="119.02" width="2.9" height="6.08" fill="#f2e661"/>
<rect x="304.3" y="119.02" width="2.9" height="6.08" fill="#fbb61a"/>
<rect x="306.3" y="119.02" width="2.9" height="6.08" fill="#f7d340"/>
<rect x="308.3" y="119.02" width="2.9" height="6.08" fill="#fcb014"/>
<rect x="310.3" y="119.02" width="2.9" height="6.08" fill="#eb6628"/>
<rect x="312.3" y="119.02" width="2.9" height="6.08" fill="#f57d15"/>
<rect x="314.3" y="119.02" width="2.9" height="6.08" fill="#f37819"/>
<rect x="316.3" y="119.02" width="2.9" height="6.08" fill="#d04545"/>
<rect x="318.3" y="119.02" width="2.9" height="6.08" fill="#b3325a"/>
<rect x="320.3" y="119.02" width="2.9" height="6.08" fill="#bc3754"/>
<rect x="322.3" y="119.02" width="2.9" height="6.08" fill="#85216b"/>
<rect x="324.3" y="119.02" width="2.9" height="6.08" fill="#4d0d6c"/>
<rect x="326.3" y="119.02" width="2.9" height="6.08" fill="#490b6a"/>
<rect x="328.3" y="119.02" width="2.9" height="6.08" fill="#520e6d"/>
<rect x="330.3" y="119.02" width="2.9" height="6.08" fill="#190c3e"/>
<rect x="332.3" y="119.02" width="2.9" height="6.08" fill="#260c51"/>
<rect x="334.3" y="119.02" width="2.9" height="6.08" fill="#260c51"/>
<rect x="336.3" y="119.02" width="2.9" height="6.08" fill="#030210"/>
<rect x="338.3" y="119.02" width="2.9" height="6.08" fill="#000004"/>
<rect x="340.3" y="119.02" width="2.9" height="6.08" fill="#000004"/>
<rect x="342.3" y="119.02" width="2.9" height="6.08" fill="#040314"/>
<rect x="344.3" y="119.02" width="2.9" height="6.08" fill="#1e0c45"/>
<rect x="346.3" y="119.02" width="2.9" height="6.08" fill="#1f0c48"/>
<rect x="348.3" y="119.02" width="2.9" height="6.08" fill="#3d0965"/>
<rect x="350.3" y="119.02" width="2.9" height="6.08" fill="#3d0965"/>
<rect x="352.3" y="119.02" width="2.9" height="6.08" fill="#69166e"/>
<rect x="354.3" y="119.02" width="2.9" height="6.08" fill="#71196e"/>
<rect x="356.3" y="119.02" width="2.9" height="6.08" fill="#8f2469"/>
<rect x="358.3" y="119.02" width="2.9" height="6.08" fill="#932667"/>
<rect x="360.3" y="119.02" width="2.9" height="6.08" fill="#a52c60"/>
<rect x="362.3" y="119.02" width="2.9" height="6.08" fill="#d04545"/>
<rect x="364.3" y="119.02" width="2.9" height="6.08" fill="#d34743"/>
<rect x="366.3" y="119.02" width="2.9" height="6.08" fill="#e15635"/>
<rect x="368.3" y="119.02" width="2.9" height="6.08" fill="#f8870e"/>
<rect x="370.3" y="119.02" width="2.9" height="6.08" fill="#f47918"/>
<rect x="372.3" y="119.02" width="2.9" height="6.08" fill="#f8cd37"/>
<rect x="374.3" y="119.02" width="2.9" height="6.08" fill="#fa9207"/>
<rect x="376.3" y="119.02" width="2.9" height="6.08" fill="#ea632a"/>
<rect x="378.3" y="119.02" width="2.9" height="6.08" fill="#f37819"/>
<rect x="380.3" y="119.02" width="2.9" height="6.08" fill="#e65d2f"/>
<rect x="382.3" y="119.02" width="2.9" height="6.08" fill="#c63d4d"/>
<rect x="384.3" y="119.02" width="2.9" height="6.08" fill="#d74b3f"/>
<rect x="386.3" y="119.02" width="2.9" height="6.08" fill="#982766"/>
<rect x="388.3" y="119.02" width="2.9" height="6.08" fill="#4c0c6b"/>
<rect x="390.3" y="119.02" width="2.9" height="6.08" fill="#8d2369"/>
<rect x="392.3" y="119.02" width="2.9" height="6.08" fill="#550f6d"/>
<rect x="394.3" y="119.02" width="2.9" height="6.08" fill="#71196e"/>
<rect x="396.3" y="119.02" width="2.9" height="6.08" fill="#290b55"/>
<rect x="398.3" y="119.02" width="2.9" height="6.08" fill="#0e092b"/>
<rect x="400.3" y="119.02" width="2.9" height="6.08" fill="#420a68"/>
<rect x="402.3" y="119.02" width="2.9" height="6.08" fill="#030210"/>
<rect x="404.3" y="119.02" width="2.9" height="6.08" fill="#140b34"/>
<rect x="406.3" y="119.02" width="2.9" height="6.08" fill="#310a5c"/>
<rect x="408.3" y="119.02" width="2.9" height="6.08" fill="#140b34"/>
<rect x="410.3" y="119.02" width="2.9" height="6.08" fill="#160b39"/>
<rect x="412.3" y="119.02" width="2" height="6.08" fill="#260c51"/>
<rect x="274.3" y="113.84" width="2.9" height="6.08" fill="#000004"/>
<rect x="276.3" y="113.84" width="2.9" height="6.08" fill="#000004"/>
<rect x="278.3" y="113.84" width="2.9" height="6.08" fill="#0b0724"/>
<rect x="280.3" y="113.84" width="2.9" height="6.08" fill="#210c4a"/>
<rect x="282.3" y="113.84" width="2.9" height="6.08" fill="#6c186e"/>
<rect x="284.3" y="113.84" width="2.9" height="6.08" fill="#4f0d6c"/>
<rect x="286.3" y="113.84" width="2.9" height="6.08" fill="#67166e"/>
<rect x="288.3" y="113.84" width="2.9" height="6.08" fill="#b1325a"/>
<rect x="290.3" y="113.84" width="2.9" height="6.08" fill="#ba3655"/>
<rect x="292.3" y="113.84" width="2.9" height="6.08" fill="#e35933"/>
<rect x="294.3" y="113.84" width="2.9" height="6.08" fill="#f1731d"/>
<rect x="296.3" y="113.84" width="2.9" height="6.08" fill="#fcaa0f"/>
<rect x="298.3" y="113.84" width="2.9" height="6.08" fill="#fa9008"/>
<rect x="300.3" y="113.84" width="2.9" height="6.08" fill="#fcb014"/>
<rect x="302.3" y="113.84" width="2.9" height="6.08" fill="#f3761b"/>
<rect x="304.3" y="113.84" width="2.9" height="6.08" fill="#fca108"/>
<rect x="306.3" y="113.84" width="2.9" height="6.08" fill="#f4dd4f"/>
<rect x="308.3" y="113.84" width="2.9" height="6.08" fill="#f98e09"/>
<rect x="310.3" y="113.84" width="2.9" height="6.08" fill="#f37819"/>
<rect x="312.3" y="113.84" width="2.9" height="6.08" fill="#e05536"/>
<rect x="314.3" y="113.84" width="2.9" height="6.08" fill="#e9612b"/>
<rect x="316.3" y="113.84" width="2.9" height="6.08" fill="#cb4149"/>
<rect x="318.3" y="113.84" width="2.9" height="6.08" fill="#8d2369"/>
<rect x="320.3" y="113.84" width="2.9" height="6.08" fill="#972766"/>
<rect x="322.3" y="113.84" width="2.9" height="6.08" fill="#6d186e"/>
<rect x="324.3" y="113.84" width="2.9" height="6.08" fill="#5a116e"/>
<rect x="326.3" y="113.84" width="2.9" height="6.08" fill="#1c0c43"/>
<rect x="328.3" y="113.84" width="2.9" height="6.08" fill="#400a67"/>
<rect x="330.3" y="113.84" width="2.9" height="6.08" fill="#0e092b"/>
<rect x="332.3" y="113.84" width="2.9" height="6.08" fill="#02010a"/>
<rect x="334.3" y="113.84" width="2.9" height="6.08" fill="#000004"/>
<rect x="336.3" y="113.84" width="2.9" height="6.08" fill="#000004"/>
<rect x="338.3" y="113.84" width="2.9" height="6.08" fill="#110a30"/>
<rect x="340.3" y="113.84" width="2.9" height="6.08" fill="#07051b"/>
<rect x="342.3" y="113.84" width="2.9" height="6.08" fill="#340a5f"/>
<rect x="344.3" y="113.84" width="2.9" height="6.08" fill="#400a67"/>
<rect x="346.3" y="113.84" width="2.9" height="6.08" fill="#6c186e"/>
<rect x="348.3" y="113.84" width="2.9" height="6.08" fill="#7c1d6d"/>
<rect x="350.3" y="113.84" width="2.9" height="6.08" fill="#84206b"/>
<rect x="352.3" y="113.84" width="2.9" height="6.08" fill="#751b6e"/>
<rect x="354.3" y="113.84" width="2.9" height="6.08" fill="#c33b4f"/>
<rect x="356.3" y="113.84" width="2.9" height="6.08" fill="#e05536"/>
<rect x="358.3" y="113.84" width="2.9" height="6.08" fill="#e55c30"/>
<rect x="360.3" y="113.84" width="2.9" height="6.08" fill="#f37819"/>
<rect x="362.3" y="113.84" width="2.9" height="6.08" fill="#ef6c23"/>
<rect x="364.3" y="113.84" width="2.9" height="6.08" fill="#f3761b"/>
<rect x="366.3" y="113.84" width="2.9" height="6.08" fill="#ef6c23"/>
<rect x="368.3" y="113.84" width="2.9" height="6.08" fill="#fca50a"/>
<rect x="370.3" y="113.84" width="2.9" height="6.08" fill="#f57b17"/>
<rect x="372.3" y="113.84" width="2.9" height="6.08" fill="#e75e2e"/>
<rect x="374.3" y="113.84" width="2.9" height="6.08" fill="#cc4248"/>
<rect x="376.3" y="113.84" width="2.9" height="6.08" fill="#d24644"/>
<rect x="378.3" y="113.84" width="2.9" height="6.08" fill="#dd513a"/>
<rect x="380.3" y="113.84" width="2.9" height="6.08" fill="#b3325a"/>
<rect x="382.3" y="113.84" width="2.9" height="6.08" fill="#7d1e6d"/>
<rect x="384.3" y="113.84" width="2.9" height="6.08" fill="#952667"/>
<rect x="386.3" y="113.84" width="2.9" height="6.08" fill="#7c1d6d"/>
<rect x="388.3" y="113.84" width="2.9" height="6.08" fill="#5a116e"/>
<rect x="390.3" y="113.84" width="2.9" height="6.08" fill="#420a68"/>
<rect x="392.3" y="113.84" width="2.9" height="6.08" fill="#390963"/>
<rect x="394.3" y="113.84" width="2.9" height="6.08" fill="#1e0c45"/>
<rect x="396.3" y="113.84" width="2.9" height="6.08" fill="#1c0c43"/>
<rect x="398.3" y="113.84" width="2.9" height="6.08" fill="#02020c"/>
<rect x="400.3" y="113.84" width="2.9" height="6.08" fill="#310a5c"/>
<rect x="402.3" y="113.84" width="2.9" height="6.08" fill="#190c3e"/>
<rect x="404.3" y="113.84" width="2.9" height="6.08" fill="#520e6d"/>
<rect x="406.3" y="113.84" width="2.9" height="6.08" fill="#060419"/>
<rect x="408.3" y="113.84" width="2.9" height="6.08" fill="#550f6d"/>
<rect x="410.3" y="113.84" width="2.9" height="6.08" fill="#71196e"/>
<rect x="412.3" y="113.84" width="2" height="6.08" fill="#69166e"/>
<rect x="274.3" y="108.66" width="2.9" height="6.08" fill="#000004"/>
<rect x="276.3" y="108.66" width="2.9" height="6.08" fill="#030210"/>
<rect x="278.3" y="108.66" width="2.9" height="6.08" fill="#0d0829"/>
<rect x="280.3" y="108.66" width="2.9" height="6.08" fill="#10092d"/>
<rect x="282.3" y="108.66" width="2.9" height="6.08" fill="#3b0964"/>
<rect x="284.3" y="108.66" width="2.9" height="6.08" fill="#7c1d6d"/>
<rect x="286.3" y="108.66" width="2.9" height="6.08" fill="#a92e5e"/>
<rect x="288.3" y="108.66" width="2.9" height="6.08" fill="#b43359"/>
<rect x="290.3" y="108.66" width="2.9" height="6.08" fill="#d44842"/>
<rect x="292.3" y="108.66" width="2.9" height="6.08" fill="#ed6925"/>
<rect x="294.3" y="108.66" width="2.9" height="6.08" fill="#fc9f07"/>
<rect x="296.3" y="108.66" width="2.9" height="6.08" fill="#f78212"/>
<rect x="298.3" y="108.66" width="2.9" height="6.08" fill="#f98c0a"/>
<rect x="300.3" y="108.66" width="2.9" height="6.08" fill="#fac026"/>
<rect x="302.3" y="108.66" width="2.9" height="6.08" fill="#fb9d07"/>
<rect x="304.3" y="108.66" width="2.9" height="6.08" fill="#fca50a"/>
<rect x="306.3" y="108.66" width="2.9" height="6.08" fill="#fca60c"/>
<rect x="308.3" y="108.66" width="2.9" height="6.08" fill="#fb9706"/>
<rect x="310.3" y="108.66" width="2.9" height="6.08" fill="#e15635"/>
<rect x="312.3" y="108.66" width="2.9" height="6.08" fill="#e9612b"/>
<rect x="314.3" y="108.66" width="2.9" height="6.08" fill="#9a2865"/>
<rect x="316.3" y="108.66" width="2.9" height="6.08" fill="#ab2f5e"/>
<rect x="318.3" y="108.66" width="2.9" height="6.08" fill="#57106e"/>
<rect x="320.3" y="108.66" width="2.9" height="6.08" fill="#3b0964"/>
<rect x="322.3" y="108.66" width="2.9" height="6.08" fill="#490b6a"/>
<rect x="324.3" y="108.66" width="2.9" height="6.08" fill="#140b34"/>
<rect x="326.3" y="108.66" width="2.9" height="6.08" fill="#02010a"/>
<rect x="328.3" y="108.66" width="2.9" height="6.08" fill="#000004"/>
<rect x="330.3" y="108.66" width="2.9" height="6.08" fill="#040314"/>
<rect x="332.3" y="108.66" width="2.9" height="6.08" fill="#010005"/>
<rect x="334.3" y="108.66" width="2.9" height="6.08" fill="#02020c"/>
<rect x="336.3" y="108.66" width="2.9" height="6.08" fill="#1c0c43"/>
<rect x="338.3" y="108.66" width="2.9" height="6.08" fill="#0a0722"/>
<rect x="340.3" y="108.66" width="2.9" height="6.08" fill="#240c4f"/>
<rect x="342.3" y="108.66" width="2.9" height="6.08" fill="#400a67"/>
<rect x="344.3" y="108.66" width="2.9" height="6.08" fill="#87216b"/>
<rect x="346.3" y="108.66" width="2.9" height="6.08" fill="#a32c61"/>
<rect x="348.3" y="108.66" width="2.9" height="6.08" fill="#c73e4c"/>
<rect x="350.3" y="108.66" width="2.9" height="6.08" fill="#c63d4d"/>
<rect x="352.3" y="108.66" width="2.9" height="6.08" fill="#d94d3d"/>
<rect x="354.3" y="108.66" width="2.9" height="6.08" fill="#f37819"/>
<rect x="356.3" y="108.66" width="2.9" height="6.08" fill="#ef6c23"/>
<rect x="358.3" y="108.66" width="2.9" height="6.08" fill="#fb9706"/>
<rect x="360.3" y="108.66" width="2.9" height="6.08" fill="#fb9b06"/>
<rect x="362.3" y="108.66" width="2.9" height="6.08" fill="#f3761b"/>
<rect x="364.3" y="108.66" width="2.9" height="6.08" fill="#f57d15"/>
<rect x="366.3" y="108.66" width="2.9" height="6.08" fill="#f06f20"/>
<rect x="368.3" y="108.66" width="2.9" height="6.08" fill="#f98b0b"/>
<rect x="370.3" y="108.66" width="2.9" height="6.08" fill="#f8870e"/>
<rect x="372.3" y="108.66" width="2.9" height="6.08" fill="#c13a50"/>
<rect x="374.3" y="108.66" width="2.9" height="6.08" fill="#a92e5e"/>
<rect x="376.3" y="108.66" width="2.9" height="6.08" fill="#57106e"/>
<rect x="378.3" y="108.66" width="2.9" height="6.08" fill="#751b6e"/>
<rect x="380.3" y="108.66" width="2.9" height="6.08" fill="#540f6d"/>
<rect x="382.3" y="108.66" width="2.9" height="6.08" fill="#210c4a"/>
<rect x="384.3" y="108.66" width="2.9" height="6.08" fill="#390963"/>
<rect x="386.3" y="108.66" width="2.9" height="6.08" fill="#010005"/>
<rect x="388.3" y="108.66" width="2.9" height="6.08" fill="#0a0722"/>
<rect x="390.3" y="108.66" width="2.9" height="6.08" fill="#0c0826"/>
<rect x="392.3" y="108.66" width="2.9" height="6.08" fill="#000004"/>
<rect x="394.3" y="108.66" width="2.9" height="6.08" fill="#210c4a"/>
<rect x="396.3" y="108.66" width="2.9" height="6.08" fill="#320a5e"/>
<rect x="398.3" y="108.66" width="2.9" height="6.08" fill="#0b0724"/>
<rect x="400.3" y="108.66" width="2.9" height="6.08" fill="#1b0c41"/>
<rect x="402.3" y="108.66" width="2.9" height="6.08" fill="#64156e"/>
<rect x="404.3" y="108.66" width="2.9" height="6.08" fill="#6f196e"/>
<rect x="406.3" y="108.66" width="2.9" height="6.08" fill="#6c186e"/>
<rect x="408.3" y="108.66" width="2.9" height="6.08" fill="#9a2865"/>
<rect x="410.3" y="108.66" width="2.9" height="6.08" fill="#b63458"/>
<rect x="412.3" y="108.66" width="2" height="6.08" fill="#c73e4c"/>
<rect x="274.3" y="103.48" width="2.9" height="6.08" fill="#000004"/>
<rect x="276.3" y="103.48" width="2.9" height="6.08" fill="#010108"/>
<rect x="278.3" y="103.48" width="2.9" height="6.08" fill="#2d0b59"/>
<rect x="280.3" y="103.48" width="2.9" height="6.08" fill="#450a69"/>
<rect x="282.3" y="103.48" width="2.9" height="6.08" fill="#5a116e"/>
<rect x="284.3" y="103.48" width="2.9" height="6.08" fill="#8c2369"/>
<rect x="286.3" y="103.48" width="2.9" height="6.08" fill="#ba3655"/>
<rect x="288.3" y="103.48" width="2.9" height="6.08" fill="#d24644"/>
<rect x="290.3" y="103.48" width="2.9" height="6.08" fill="#cb4149"/>
<rect x="292.3" y="103.48" width="2.9" height="6.08" fill="#f98c0a"/>
<rect x="294.3" y="103.48" width="2.9" height="6.08" fill="#fb9706"/>
<rect x="296.3" y="103.48" width="2.9" height="6.08" fill="#f4dd4f"/>
<rect x="298.3" y="103.48" width="2.9" height="6.08" fill="#fac026"/>
<rect x="300.3" y="103.48" width="2.9" height="6.08" fill="#f8cf3a"/>
<rect x="302.3" y="103.48" width="2.9" height="6.08" fill="#fac228"/>
<rect x="304.3" y="103.48" width="2.9" height="6.08" fill="#f6d746"/>
<rect x="306.3" y="103.48" width="2.9" height="6.08" fill="#fa9207"/>
<rect x="308.3" y="103.48" width="2.9" height="6.08" fill="#ec6726"/>
<rect x="310.3" y="103.48" width="2.9" height="6.08" fill="#e05536"/>
<rect x="312.3" y="103.48" width="2.9" height="6.08" fill="#b3325a"/>
<rect x="314.3" y="103.48" width="2.9" height="6.08" fill="#9a2865"/>
<rect x="316.3" y="103.48" width="2.9" height="6.08" fill="#71196e"/>
<rect x="318.3" y="103.48" width="2.9" height="6.08" fill="#540f6d"/>
<rect x="320.3" y="103.48" width="2.9" height="6.08" fill="#5a116e"/>
<rect x="322.3" y="103.48" width="2.9" height="6.08" fill="#0a0722"/>
<rect x="324.3" y="103.48" width="2.9" height="6.08" fill="#050417"/>
<rect x="326.3" y="103.48" width="2.9" height="6.08" fill="#000004"/>
<rect x="328.3" y="103.48" width="2.9" height="6.08" fill="#050417"/>
<rect x="330.3" y="103.48" width="2.9" height="6.08" fill="#000004"/>
<rect x="332.3" y="103.48" width="2.9" height="6.08" fill="#000004"/>
<rect x="334.3" y="103.48" width="2.9" height="6.08" fill="#120a32"/>
<rect x="336.3" y="103.48" width="2.9" height="6.08" fill="#390963"/>
<rect x="338.3" y="103.48" width="2.9" height="6.08" fill="#4a0c6b"/>
<rect x="340.3" y="103.48" width="2.9" height="6.08" fill="#61136e"/>
<rect x="342.3" y="103.48" width="2.9" height="6.08" fill="#7a1d6d"/>
<rect x="344.3" y="103.48" width="2.9" height="6.08" fill="#bc3754"/>
<rect x="346.3" y="103.48" width="2.9" height="6.08" fill="#e65d2f"/>
<rect x="348.3" y="103.48" width="2.9" height="6.08" fill="#e75e2e"/>
<rect x="350.3" y="103.48" width="2.9" height="6.08" fill="#f1711f"/>
<rect x="352.3" y="103.48" width="2.9" height="6.08" fill="#f98b0b"/>
<rect x="354.3" y="103.48" width="2.9" height="6.08" fill="#f1731d"/>
<rect x="356.3" y="103.48" width="2.9" height="6.08" fill="#f8850f"/>
<rect x="358.3" y="103.48" width="2.9" height="6.08" fill="#f78212"/>
<rect x="360.3" y="103.48" width="2.9" height="6.08" fill="#f78410"/>
<rect x="362.3" y="103.48" width="2.9" height="6.08" fill="#ed6925"/>
<rect x="364.3" y="103.48" width="2.9" height="6.08" fill="#ca404a"/>
<rect x="366.3" y="103.48" width="2.9" height="6.08" fill="#df5337"/>
<rect x="368.3" y="103.48" width="2.9" height="6.08" fill="#d34743"/>
<rect x="370.3" y="103.48" width="2.9" height="6.08" fill="#8a226a"/>
<rect x="372.3" y="103.48" width="2.9" height="6.08" fill="#7a1d6d"/>
<rect x="374.3" y="103.48" width="2.9" height="6.08" fill="#5a116e"/>
<rect x="376.3" y="103.48" width="2.9" height="6.08" fill="#4c0c6b"/>
<rect x="378.3" y="103.48" width="2.9" height="6.08" fill="#040314"/>
<rect x="380.3" y="103.48" width="2.9" height="6.08" fill="#380962"/>
<rect x="382.3" y="103.48" width="2.9" height="6.08" fill="#040312"/>
<rect x="384.3" y="103.48" width="2.9" height="6.08" fill="#1f0c48"/>
<rect x="386.3" y="103.48" width="2.9" height="6.08" fill="#0a0722"/>
<rect x="388.3" y="103.48" width="2.9" height="6.08" fill="#09061f"/>
<rect x="390.3" y="103.48" width="2.9" height="6.08" fill="#190c3e"/>
<rect x="392.3" y="103.48" width="2.9" height="6.08" fill="#490b6a"/>
<rect x="394.3" y="103.48" width="2.9" height="6.08" fill="#360961"/>
<rect x="396.3" y="103.48" width="2.9" height="6.08" fill="#5d126e"/>
<rect x="398.3" y="103.48" width="2.9" height="6.08" fill="#771c6d"/>
<rect x="400.3" y="103.48" width="2.9" height="6.08" fill="#771c6d"/>
<rect x="402.3" y="103.48" width="2.9" height="6.08" fill="#d34743"/>
<rect x="404.3" y="103.48" width="2.9" height="6.08" fill="#d84c3e"/>
<rect x="406.3" y="103.48" width="2.9" height="6.08" fill="#db503b"/>
<rect x="408.3" y="103.48" width="2.9" height="6.08" fill="#f37819"/>
<rect x="410.3" y="103.48" width="2.9" height="6.08" fill="#dd513a"/>
<rect x="412.3" y="103.48" width="2" height="6.08" fill="#eb6628"/>
<rect x="274.3" y="98.31" width="2.9" height="6.08" fill="#08051d"/>
<rect x="276.3" y="98.31" width="2.9" height="6.08" fill="#08051d"/>
<rect x="278.3" y="98.31" width="2.9" height="6.08" fill="#000004"/>
<rect x="280.3" y="98.31" width="2.9" height="6.08" fill="#000004"/>
<rect x="282.3" y="98.31" width="2.9" height="6.08" fill="#3d0965"/>
<rect x="284.3" y="98.31" width="2.9" height="6.08" fill="#9a2865"/>
<rect x="286.3" y="98.31" width="2.9" height="6.08" fill="#a22b62"/>
<rect x="288.3" y="98.31" width="2.9" height="6.08" fill="#cf4446"/>
<rect x="290.3" y="98.31" width="2.9" height="6.08" fill="#f37819"/>
<rect x="292.3" y="98.31" width="2.9" height="6.08" fill="#f2741c"/>
<rect x="294.3" y="98.31" width="2.9" height="6.08" fill="#fcae12"/>
<rect x="296.3" y="98.31" width="2.9" height="6.08" fill="#f7d13d"/>
<rect x="298.3" y="98.31" width="2.9" height="6.08" fill="#f8cf3a"/>
<rect x="300.3" y="98.31" width="2.9" height="6.08" fill="#f9c72f"/>
<rect x="302.3" y="98.31" width="2.9" height="6.08" fill="#fb9b06"/>
<rect x="304.3" y="98.31" width="2.9" height="6.08" fill="#fb9d07"/>
<rect x="306.3" y="98.31" width="2.9" height="6.08" fill="#eb6429"/>
<rect x="308.3" y="98.31" width="2.9" height="6.08" fill="#ed6925"/>
<rect x="310.3" y="98.31" width="2.9" height="6.08" fill="#e75e2e"/>
<rect x="312.3" y="98.31" width="2.9" height="6.08" fill="#7f1e6c"/>
<rect x="314.3" y="98.31" width="2.9" height="6.08" fill="#320a5e"/>
<rect x="316.3" y="98.31" width="2.9" height="6.08" fill="#380962"/>
<rect x="318.3" y="98.31" width="2.9" height="6.08" fill="#280b53"/>
<rect x="320.3" y="98.31" width="2.9" height="6.08" fill="#1e0c45"/>
<rect x="322.3" y="98.31" width="2.9" height="6.08" fill="#10092d"/>
<rect x="324.3" y="98.31" width="2.9" height="6.08" fill="#000004"/>
<rect x="326.3" y="98.31" width="2.9" height="6.08" fill="#000004"/>
<rect x="328.3" y="98.31" width="2.9" height="6.08" fill="#150b37"/>
<rect x="330.3" y="98.31" width="2.9" height="6.08" fill="#010005"/>
<rect x="332.3" y="98.31" width="2.9" height="6.08" fill="#3e0966"/>
<rect x="334.3" y="98.31" width="2.9" height="6.08" fill="#400a67"/>
<rect x="336.3" y="98.31" width="2.9" height="6.08" fill="#7c1d6d"/>
<rect x="338.3" y="98.31" width="2.9" height="6.08" fill="#9f2a63"/>
<rect x="340.3" y="98.31" width="2.9" height="6.08" fill="#c33b4f"/>
<rect x="342.3" y="98.31" width="2.9" height="6.08" fill="#df5337"/>
<rect x="344.3" y="98.31" width="2.9" height="6.08" fill="#d54a41"/>
<rect x="346.3" y="98.31" width="2.9" height="6.08" fill="#f57d15"/>
<rect x="348.3" y="98.31" width="2.9" height="6.08" fill="#f8870e"/>
<rect x="350.3" y="98.31" width="2.9" height="6.08" fill="#fb9906"/>
<rect x="352.3" y="98.31" width="2.9" height="6.08" fill="#fcb418"/>
<rect x="354.3" y="98.31" width="2.9" height="6.08" fill="#f78212"/>
<rect x="356.3" y="98.31" width="2.9" height="6.08" fill="#ec6726"/>
<rect x="358.3" y="98.31" width="2.9" height="6.08" fill="#df5337"/>
<rect x="360.3" y="98.31" width="2.9" height="6.08" fill="#d04545"/>
<rect x="362.3" y="98.31" width="2.9" height="6.08" fill="#cb4149"/>
<rect x="364.3" y="98.31" width="2.9" height="6.08" fill="#87216b"/>
<rect x="366.3" y="98.31" width="2.9" height="6.08" fill="#932667"/>
<rect x="368.3" y="98.31" width="2.9" height="6.08" fill="#5d126e"/>
<rect x="370.3" y="98.31" width="2.9" height="6.08" fill="#320a5e"/>
<rect x="372.3" y="98.31" width="2.9" height="6.08" fill="#060419"/>
<rect x="374.3" y="98.31" width="2.9" height="6.08" fill="#140b34"/>
<rect x="376.3" y="98.31" width="2.9" height="6.08" fill="#120a32"/>
<rect x="378.3" y="98.31" width="2.9" height="6.08" fill="#000004"/>
<rect x="380.3" y="98.31" width="2.9" height="6.08" fill="#1e0c45"/>
<rect x="382.3" y="98.31" width="2.9" height="6.08" fill="#360961"/>
<rect x="384.3" y="98.31" width="2.9" height="6.08" fill="#290b55"/>
<rect x="386.3" y="98.31" width="2.9" height="6.08" fill="#470b6a"/>
<rect x="388.3" y="98.31" width="2.9" height="6.08" fill="#902568"/>
<rect x="390.3" y="98.31" width="2.9" height="6.08" fill="#922568"/>
<rect x="392.3" y="98.31" width="2.9" height="6.08" fill="#7f1e6c"/>
<rect x="394.3" y="98.31" width="2.9" height="6.08" fill="#b1325a"/>
<rect x="396.3" y="98.31" width="2.9" height="6.08" fill="#c73e4c"/>
<rect x="398.3" y="98.31" width="2.9" height="6.08" fill="#d94d3d"/>
<rect x="400.3" y="98.31" width="2.9" height="6.08" fill="#bd3853"/>
<rect x="402.3" y="98.31" width="2.9" height="6.08" fill="#f57d15"/>
<rect x="404.3" y="98.31" width="2.9" height="6.08" fill="#e8602d"/>
<rect x="406.3" y="98.31" width="2.9" height="6.08" fill="#f06f20"/>
<rect x="408.3" y="98.31" width="2.9" height="6.08" fill="#e75e2e"/>
<rect x="410.3" y="98.31" width="2.9" height="6.08" fill="#eb6628"/>
<rect x="412.3" y="98.31" width="2" height="6.08" fill="#ca404a"/>
<rect x="274.3" y="93.13" width="2.9" height="6.08" fill="#000004"/>
<rect x="276.3" y="93.13" width="2.9" height="6.08" fill="#040312"/>
<rect x="278.3" y="93.13" width="2.9" height="6.08" fill="#2f0a5b"/>
<rect x="280.3" y="93.13" width="2.9" height="6.08" fill="#2d0b59"/>
<rect x="282.3" y="93.13" width="2.9" height="6.08" fill="#82206c"/>
<rect x="284.3" y="93.13" width="2.9" height="6.08" fill="#972766"/>
<rect x="286.3" y="93.13" width="2.9" height="6.08" fill="#b3325a"/>
<rect x="288.3" y="93.13" width="2.9" height="6.08" fill="#f47918"/>
<rect x="290.3" y="93.13" width="2.9" height="6.08" fill="#ed6925"/>
<rect x="292.3" y="93.13" width="2.9" height="6.08" fill="#fbbc21"/>
<rect x="294.3" y="93.13" width="2.9" height="6.08" fill="#fcaa0f"/>
<rect x="296.3" y="93.13" width="2.9" height="6.08" fill="#f8cf3a"/>
<rect x="298.3" y="93.13" width="2.9" height="6.08" fill="#fb9d07"/>
<rect x="300.3" y="93.13" width="2.9" height="6.08" fill="#fb9906"/>
<rect x="302.3" y="93.13" width="2.9" height="6.08" fill="#fcb216"/>
<rect x="304.3" y="93.13" width="2.9" height="6.08" fill="#f3761b"/>
<rect x="306.3" y="93.13" width="2.9" height="6.08" fill="#db503b"/>
<rect x="308.3" y="93.13" width="2.9" height="6.08" fill="#ad305d"/>
<rect x="310.3" y="93.13" width="2.9" height="6.08" fill="#952667"/>
<rect x="312.3" y="93.13" width="2.9" height="6.08" fill="#3e0966"/>
<rect x="314.3" y="93.13" width="2.9" height="6.08" fill="#1b0c41"/>
<rect x="316.3" y="93.13" width="2.9" height="6.08" fill="#120a32"/>
<rect x="318.3" y="93.13" width="2.9" height="6.08" fill="#000004"/>
<rect x="320.3" y="93.13" width="2.9" height="6.08" fill="#000004"/>
<rect x="322.3" y="93.13" width="2.9" height="6.08" fill="#000004"/>
<rect x="324.3" y="93.13" width="2.9" height="6.08" fill="#000004"/>
<rect x="326.3" y="93.13" width="2.9" height="6.08" fill="#040312"/>
<rect x="328.3" y="93.13" width="2.9" height="6.08" fill="#420a68"/>
<rect x="330.3" y="93.13" width="2.9" height="6.08" fill="#540f6d"/>
<rect x="332.3" y="93.13" width="2.9" height="6.08" fill="#7d1e6d"/>
<rect x="334.3" y="93.13" width="2.9" height="6.08" fill="#88226a"/>
<rect x="336.3" y="93.13" width="2.9" height="6.08" fill="#a52c60"/>
<rect x="338.3" y="93.13" width="2.9" height="6.08" fill="#b3325a"/>
<rect x="340.3" y="93.13" width="2.9" height="6.08" fill="#e35933"/>
<rect x="342.3" y="93.13" width="2.9" height="6.08" fill="#d94d3d"/>
<rect x="344.3" y="93.13" width="2.9" height="6.08" fill="#f67e14"/>
<rect x="346.3" y="93.13" width="2.9" height="6.08" fill="#fcac11"/>
<rect x="348.3" y="93.13" width="2.9" height="6.08" fill="#fac42a"/>
<rect x="350.3" y="93.13" width="2.9" height="6.08" fill="#fca309"/>
<rect x="352.3" y="93.13" width="2.9" height="6.08" fill="#e8602d"/>
<rect x="354.3" y="93.13" width="2.9" height="6.08" fill="#eb6429"/>
<rect x="356.3" y="93.13" width="2.9" height="6.08" fill="#bc3754"/>
<rect x="358.3" y="93.13" width="2.9" height="6.08" fill="#bd3853"/>
<rect x="360.3" y="93.13" width="2.9" height="6.08" fill="#84206b"/>
<rect x="362.3" y="93.13" width="2.9" height="6.08" fill="#751b6e"/>
<rect x="364.3" y="93.13" width="2.9" height="6.08" fill="#7c1d6d"/>
<rect x="366.3" y="93.13" width="2.9" height="6.08" fill="#390963"/>
<rect x="368.3" y="93.13" width="2.9" height="6.08" fill="#450a69"/>
<rect x="370.3" y="93.13" width="2.9" height="6.08" fill="#08051d"/>
<rect x="372.3" y="93.13" width="2.9" height="6.08" fill="#010108"/>
<rect x="374.3" y="93.13" width="2.9" height="6.08" fill="#1f0c48"/>
<rect x="376.3" y="93.13" width="2.9" height="6.08" fill="#380962"/>
<rect x="378.3" y="93.13" width="2.9" height="6.08" fill="#150b37"/>
<rect x="380.3" y="93.13" width="2.9" height="6.08" fill="#400a67"/>
<rect x="382.3" y="93.13" width="2.9" height="6.08" fill="#3d0965"/>
<rect x="384.3" y="93.13" width="2.9" height="6.08" fill="#7c1d6d"/>
<rect x="386.3" y="93.13" width="2.9" height="6.08" fill="#b63458"/>
<rect x="388.3" y="93.13" width="2.9" height="6.08" fill="#bf3952"/>
<rect x="390.3" y="93.13" width="2.9" height="6.08" fill="#cc4248"/>
<rect x="392.3" y="93.13" width="2.9" height="6.08" fill="#cf4446"/>
<rect x="394.3" y="93.13" width="2.9" height="6.08" fill="#f2741c"/>
<rect x="396.3" y="93.13" width="2.9" height="6.08" fill="#f8870e"/>
<rect x="398.3" y="93.13" width="2.9" height="6.08" fill="#f78212"/>
<rect x="400.3" y="93.13" width="2.9" height="6.08" fill="#f06f20"/>
<rect x="402.3" y="93.13" width="2.9" height="6.08" fill="#cf4446"/>
<rect x="404.3" y="93.13" width="2.9" height="6.08" fill="#ef6c23"/>
<rect x="406.3" y="93.13" width="2.9" height="6.08" fill="#bc3754"/>
<rect x="408.3" y="93.13" width="2.9" height="6.08" fill="#9b2964"/>
<rect x="410.3" y="93.13" width="2.9" height="6.08" fill="#902568"/>
<rect x="412.3" y="93.13" width="2" height="6.08" fill="#2b0b57"/>
<rect x="274.3" y="87.95" width="2.9" height="6.08" fill="#000004"/>
<rect x="276.3" y="87.95" width="2.9" height="6.08" fill="#000004"/>
<rect x="278.3" y="87.95" width="2.9" height="6.08" fill="#1c0c43"/>
<rect x="280.3" y="87.95" width="2.9" height="6.08" fill="#5f136e"/>
<rect x="282.3" y="87.95" width="2.9" height="6.08" fill="#7c1d6d"/>
<rect x="284.3" y="87.95" width="2.9" height="6.08" fill="#771c6d"/>
<rect x="286.3" y="87.95" width="2.9" height="6.08" fill="#c83f4b"/>
<rect x="288.3" y="87.95" width="2.9" height="6.08" fill="#ef6e21"/>
<rect x="290.3" y="87.95" width="2.9" height="6.08" fill="#fb9606"/>
<rect x="292.3" y="87.95" width="2.9" height="6.08" fill="#f98c0a"/>
<rect x="294.3" y="87.95" width="2.9" height="6.08" fill="#fa9407"/>
<rect x="296.3" y="87.95" width="2.9" height="6.08" fill="#f6d543"/>
<rect x="298.3" y="87.95" width="2.9" height="6.08" fill="#fac228"/>
<rect x="300.3" y="87.95" width="2.9" height="6.08" fill="#fb9b06"/>
<rect x="302.3" y="87.95" width="2.9" height="6.08" fill="#dd513a"/>
<rect x="304.3" y="87.95" width="2.9" height="6.08" fill="#f37819"/>
<rect x="306.3" y="87.95" width="2.9" height="6.08" fill="#741a6e"/>
<rect x="308.3" y="87.95" width="2.9" height="6.08" fill="#7f1e6c"/>
<rect x="310.3" y="87.95" width="2.9" height="6.08" fill="#8c2369"/>
<rect x="312.3" y="87.95" width="2.9" height="6.08" fill="#2b0b57"/>
<rect x="314.3" y="87.95" width="2.9" height="6.08" fill="#140b34"/>
<rect x="316.3" y="87.95" width="2.9" height="6.08" fill="#000004"/>
<rect x="318.3" y="87.95" width="2.9" height="6.08" fill="#0c0826"/>
<rect x="320.3" y="87.95" width="2.9" height="6.08" fill="#000004"/>
<rect x="322.3" y="87.95" width="2.9" height="6.08" fill="#040312"/>
<rect x="324.3" y="87.95" width="2.9" height="6.08" fill="#10092d"/>
<rect x="326.3" y="87.95" width="2.9" height="6.08" fill="#120a32"/>
<rect x="328.3" y="87.95" width="2.9" height="6.08" fill="#69166e"/>
<rect x="330.3" y="87.95" width="2.9" height="6.08" fill="#5c126e"/>
<rect x="332.3" y="87.95" width="2.9" height="6.08" fill="#982766"/>
<rect x="334.3" y="87.95" width="2.9" height="6.08" fill="#ce4347"/>
<rect x="336.3" y="87.95" width="2.9" height="6.08" fill="#e25734"/>
<rect x="338.3" y="87.95" width="2.9" height="6.08" fill="#f8890c"/>
<rect x="340.3" y="87.95" width="2.9" height="6.08" fill="#fcac11"/>
<rect x="342.3" y="87.95" width="2.9" height="6.08" fill="#fa9407"/>
<rect x="344.3" y="87.95" width="2.9" height="6.08" fill="#f98b0b"/>
<rect x="346.3" y="87.95" width="2.9" height="6.08" fill="#f57d15"/>
<rect x="348.3" y="87.95" width="2.9" height="6.08" fill="#ed6925"/>
<rect x="350.3" y="87.95" width="2.9" height="6.08" fill="#eb6628"/>
<rect x="352.3" y="87.95" width="2.9" height="6.08" fill="#bd3853"/>
<rect x="354.3" y="87.95" width="2.9" height="6.08" fill="#a52c60"/>
<rect x="356.3" y="87.95" width="2.9" height="6.08" fill="#721a6e"/>
<rect x="358.3" y="87.95" width="2.9" height="6.08" fill="#390963"/>
<rect x="360.3" y="87.95" width="2.9" height="6.08" fill="#400a67"/>
<rect x="362.3" y="87.95" width="2.9" height="6.08" fill="#02020e"/>
<rect x="364.3" y="87.95" width="2.9" height="6.08" fill="#060419"/>
<rect x="366.3" y="87.95" width="2.9" height="6.08" fill="#1b0c41"/>
<rect x="368.3" y="87.95" width="2.9" height="6.08" fill="#000004"/>
<rect x="370.3" y="87.95" width="2.9" height="6.08" fill="#0b0724"/>
<rect x="372.3" y="87.95" width="2.9" height="6.08" fill="#030210"/>
<rect x="374.3" y="87.95" width="2.9" height="6.08" fill="#310a5c"/>
<rect x="376.3" y="87.95" width="2.9" height="6.08" fill="#3d0965"/>
<rect x="378.3" y="87.95" width="2.9" height="6.08" fill="#7d1e6d"/>
<rect x="380.3" y="87.95" width="2.9" height="6.08" fill="#9f2a63"/>
<rect x="382.3" y="87.95" width="2.9" height="6.08" fill="#cc4248"/>
<rect x="384.3" y="87.95" width="2.9" height="6.08" fill="#f37819"/>
<rect x="386.3" y="87.95" width="2.9" height="6.08" fill="#f06f20"/>
<rect x="388.3" y="87.95" width="2.9" height="6.08" fill="#f8870e"/>
<rect x="390.3" y="87.95" width="2.9" height="6.08" fill="#f47918"/>
<rect x="392.3" y="87.95" width="2.9" height="6.08" fill="#f06f20"/>
<rect x="394.3" y="87.95" width="2.9" height="6.08" fill="#e05536"/>
<rect x="396.3" y="87.95" width="2.9" height="6.08" fill="#ba3655"/>
<rect x="398.3" y="87.95" width="2.9" height="6.08" fill="#c83f4b"/>
<rect x="400.3" y="87.95" width="2.9" height="6.08" fill="#cb4149"/>
<rect x="402.3" y="87.95" width="2.9" height="6.08" fill="#902568"/>
<rect x="404.3" y="87.95" width="2.9" height="6.08" fill="#57106e"/>
<rect x="406.3" y="87.95" width="2.9" height="6.08" fill="#6a176e"/>
<rect x="408.3" y="87.95" width="2.9" height="6.08" fill="#1c0c43"/>
<rect x="410.3" y="87.95" width="2.9" height="6.08" fill="#09061f"/>
<rect x="412.3" y="87.95" width="2" height="6.08" fill="#000004"/>
<rect x="274.3" y="82.78" width="2.9" height="6.08" fill="#000004"/>
<rect x="276.3" y="82.78" width="2.9" height="6.08" fill="#010005"/>
<rect x="278.3" y="82.78" width="2.9" height="6.08" fill="#4c0c6b"/>
<rect x="280.3" y="82.78" width="2.9" height="6.08" fill="#450a69"/>
<rect x="282.3" y="82.78" width="2.9" height="6.08" fill="#67166e"/>
<rect x="284.3" y="82.78" width="2.9" height="6.08" fill="#a62d60"/>
<rect x="286.3" y="82.78" width="2.9" height="6.08" fill="#da4e3c"/>
<rect x="288.3" y="82.78" width="2.9" height="6.08" fill="#e15635"/>
<rect x="290.3" y="82.78" width="2.9" height="6.08" fill="#fca80d"/>
<rect x="292.3" y="82.78" width="2.9" height="6.08" fill="#f7d340"/>
<rect x="294.3" y="82.78" width="2.9" height="6.08" fill="#f7d13d"/>
<rect x="296.3" y="82.78" width="2.9" height="6.08" fill="#f8cf3a"/>
<rect x="298.3" y="82.78" width="2.9" height="6.08" fill="#f78212"/>
<rect x="300.3" y="82.78" width="2.9" height="6.08" fill="#e25734"/>
<rect x="302.3" y="82.78" width="2.9" height="6.08" fill="#f1731d"/>
<rect x="304.3" y="82.78" width="2.9" height="6.08" fill="#cf4446"/>
<rect x="306.3" y="82.78" width="2.9" height="6.08" fill="#64156e"/>
<rect x="308.3" y="82.78" width="2.9" height="6.08" fill="#5c126e"/>
<rect x="310.3" y="82.78" width="2.9" height="6.08" fill="#290b55"/>
<rect x="312.3" y="82.78" width="2.9" height="6.08" fill="#140b34"/>
<rect x="314.3" y="82.78" width="2.9" height="6.08" fill="#02010a"/>
<rect x="316.3" y="82.78" width="2.9" height="6.08" fill="#000004"/>
<rect x="318.3" y="82.78" width="2.9" height="6.08" fill="#000004"/>
<rect x="320.3" y="82.78" width="2.9" height="6.08" fill="#050417"/>
<rect x="322.3" y="82.78" width="2.9" height="6.08" fill="#160b39"/>
<rect x="324.3" y="82.78" width="2.9" height="6.08" fill="#140b34"/>
<rect x="326.3" y="82.78" width="2.9" height="6.08" fill="#230c4c"/>
<rect x="328.3" y="82.78" width="2.9" height="6.08" fill="#88226a"/>
<rect x="330.3" y="82.78" width="2.9" height="6.08" fill="#a22b62"/>
<rect x="332.3" y="82.78" width="2.9" height="6.08" fill="#e8602d"/>
<rect x="334.3" y="82.78" width="2.9" height="6.08" fill="#f98e09"/>
<rect x="336.3" y="82.78" width="2.9" height="6.08" fill="#fb9b06"/>
<rect x="338.3" y="82.78" width="2.9" height="6.08" fill="#fb9606"/>
<rect x="340.3" y="82.78" width="2.9" height="6.08" fill="#fc9f07"/>
<rect x="342.3" y="82.78" width="2.9" height="6.08" fill="#fcac11"/>
<rect x="344.3" y="82.78" width="2.9" height="6.08" fill="#e8602d"/>
<rect x="346.3" y="82.78" width="2.9" height="6.08" fill="#ea632a"/>
<rect x="348.3" y="82.78" width="2.9" height="6.08" fill="#ca404a"/>
<rect x="350.3" y="82.78" width="2.9" height="6.08" fill="#972766"/>
<rect x="352.3" y="82.78" width="2.9" height="6.08" fill="#87216b"/>
<rect x="354.3" y="82.78" width="2.9" height="6.08" fill="#290b55"/>
<rect x="356.3" y="82.78" width="2.9" height="6.08" fill="#310a5c"/>
<rect x="358.3" y="82.78" width="2.9" height="6.08" fill="#000004"/>
<rect x="360.3" y="82.78" width="2.9" height="6.08" fill="#000004"/>
<rect x="362.3" y="82.78" width="2.9" height="6.08" fill="#000004"/>
<rect x="364.3" y="82.78" width="2.9" height="6.08" fill="#0e092b"/>
<rect x="366.3" y="82.78" width="2.9" height="6.08" fill="#07051b"/>
<rect x="368.3" y="82.78" width="2.9" height="6.08" fill="#390963"/>
<rect x="370.3" y="82.78" width="2.9" height="6.08" fill="#420a68"/>
<rect x="372.3" y="82.78" width="2.9" height="6.08" fill="#9f2a63"/>
<rect x="374.3" y="82.78" width="2.9" height="6.08" fill="#d34743"/>
<rect x="376.3" y="82.78" width="2.9" height="6.08" fill="#d34743"/>
<rect x="378.3" y="82.78" width="2.9" height="6.08" fill="#f78212"/>
<rect x="380.3" y="82.78" width="2.9" height="6.08" fill="#f67e14"/>
<rect x="382.3" y="82.78" width="2.9" height="6.08" fill="#fbba1f"/>
<rect x="384.3" y="82.78" width="2.9" height="6.08" fill="#f78212"/>
<rect x="386.3" y="82.78" width="2.9" height="6.08" fill="#de5238"/>
<rect x="388.3" y="82.78" width="2.9" height="6.08" fill="#f8850f"/>
<rect x="390.3" y="82.78" width="2.9" height="6.08" fill="#d44842"/>
<rect x="392.3" y="82.78" width="2.9" height="6.08" fill="#a22b62"/>
<rect x="394.3" y="82.78" width="2.9" height="6.08" fill="#85216b"/>
<rect x="396.3" y="82.78" width="2.9" height="6.08" fill="#490b6a"/>
<rect x="398.3" y="82.78" width="2.9" height="6.08" fill="#470b6a"/>
<rect x="400.3" y="82.78" width="2.9" height="6.08" fill="#110a30"/>
<rect x="402.3" y="82.78" width="2.9" height="6.08" fill="#380962"/>
<rect x="404.3" y="82.78" width="2.9" height="6.08" fill="#150b37"/>
<rect x="406.3" y="82.78" width="2.9" height="6.08" fill="#000004"/>
<rect x="408.3" y="82.78" width="2.9" height="6.08" fill="#000004"/>
<rect x="410.3" y="82.78" width="2.9" height="6.08" fill="#0d0829"/>
<rect x="412.3" y="82.78" width="2" height="6.08" fill="#08051d"/>
<rect x="274.3" y="77.6" width="2.9" height="6.08" fill="#000004"/>
<rect x="276.3" y="77.6" width="2.9" height="6.08" fill="#02020e"/>
<rect x="278.3" y="77.6" width="2.9" height="6.08" fill="#110a30"/>
<rect x="280.3" y="77.6" width="2.9" height="6.08" fill="#4a0c6b"/>
<rect x="282.3" y="77.6" width="2.9" height="6.08" fill="#9b2964"/>
<rect x="284.3" y="77.6" width="2.9" height="6.08" fill="#e05536"/>
<rect x="286.3" y="77.6" width="2.9" height="6.08" fill="#f8890c"/>
<rect x="288.3" y="77.6" width="2.9" height="6.08" fill="#fa9407"/>
<rect x="290.3" y="77.6" width="2.9" height="6.08" fill="#f8cd37"/>
<rect x="292.3" y="77.6" width="2.9" height="6.08" fill="#fcb216"/>
<rect x="294.3" y="77.6" width="2.9" height="6.08" fill="#f7d13d"/>
<rect x="296.3" y="77.6" width="2.9" height="6.08" fill="#fb9606"/>
<rect x="298.3" y="77.6" width="2.9" height="6.08" fill="#fb9d07"/>
<rect x="300.3" y="77.6" width="2.9" height="6.08" fill="#d24644"/>
<rect x="302.3" y="77.6" width="2.9" height="6.08" fill="#a92e5e"/>
<rect x="304.3" y="77.6" width="2.9" height="6.08" fill="#8a226a"/>
<rect x="306.3" y="77.6" width="2.9" height="6.08" fill="#62146e"/>
<rect x="308.3" y="77.6" width="2.9" height="6.08" fill="#08051d"/>
<rect x="310.3" y="77.6" width="2.9" height="6.08" fill="#02010a"/>
<rect x="312.3" y="77.6" width="2.9" height="6.08" fill="#000004"/>
<rect x="314.3" y="77.6" width="2.9" height="6.08" fill="#000004"/>
<rect x="316.3" y="77.6" width="2.9" height="6.08" fill="#000004"/>
<rect x="318.3" y="77.6" width="2.9" height="6.08" fill="#0a0722"/>
<rect x="320.3" y="77.6" width="2.9" height="6.08" fill="#1f0c48"/>
<rect x="322.3" y="77.6" width="2.9" height="6.08" fill="#751b6e"/>
<rect x="324.3" y="77.6" width="2.9" height="6.08" fill="#932667"/>
<rect x="326.3" y="77.6" width="2.9" height="6.08" fill="#982766"/>
<rect x="328.3" y="77.6" width="2.9" height="6.08" fill="#b1325a"/>
<rect x="330.3" y="77.6" width="2.9" height="6.08" fill="#f37819"/>
<rect x="332.3" y="77.6" width="2.9" height="6.08" fill="#fcb418"/>
<rect x="334.3" y="77.6" width="2.9" height="6.08" fill="#fca80d"/>
<rect x="336.3" y="77.6" width="2.9" height="6.08" fill="#fbbc21"/>
<rect x="338.3" y="77.6" width="2.9" height="6.08" fill="#f78410"/>
<rect x="340.3" y="77.6" width="2.9" height="6.08" fill="#e05536"/>
<rect x="342.3" y="77.6" width="2.9" height="6.08" fill="#e75e2e"/>
<rect x="344.3" y="77.6" width="2.9" height="6.08" fill="#b93556"/>
<rect x="346.3" y="77.6" width="2.9" height="6.08" fill="#982766"/>
<rect x="348.3" y="77.6" width="2.9" height="6.08" fill="#380962"/>
<rect x="350.3" y="77.6" width="2.9" height="6.08" fill="#340a5f"/>
<rect x="352.3" y="77.6" width="2.9" height="6.08" fill="#060419"/>
<rect x="354.3" y="77.6" width="2.9" height="6.08" fill="#0e092b"/>
<rect x="356.3" y="77.6" width="2.9" height="6.08" fill="#000004"/>
<rect x="358.3" y="77.6" width="2.9" height="6.08" fill="#000004"/>
<rect x="360.3" y="77.6" width="2.9" height="6.08" fill="#050417"/>
<rect x="362.3" y="77.6" width="2.9" height="6.08" fill="#4a0c6b"/>
<rect x="364.3" y="77.6" width="2.9" height="6.08" fill="#540f6d"/>
<rect x="366.3" y="77.6" width="2.9" height="6.08" fill="#6c186e"/>
<rect x="368.3" y="77.6" width="2.9" height="6.08" fill="#922568"/>
<rect x="370.3" y="77.6" width="2.9" height="6.08" fill="#b93556"/>
<rect x="372.3" y="77.6" width="2.9" height="6.08" fill="#f68013"/>
<rect x="374.3" y="77.6" width="2.9" height="6.08" fill="#da4e3c"/>
<rect x="376.3" y="77.6" width="2.9" height="6.08" fill="#f06f20"/>
<rect x="378.3" y="77.6" width="2.9" height="6.08" fill="#fb9606"/>
<rect x="380.3" y="77.6" width="2.9" height="6.08" fill="#fb9606"/>
<rect x="382.3" y="77.6" width="2.9" height="6.08" fill="#e65d2f"/>
<rect x="384.3" y="77.6" width="2.9" height="6.08" fill="#df5337"/>
<rect x="386.3" y="77.6" width="2.9" height="6.08" fill="#bf3952"/>
<rect x="388.3" y="77.6" width="2.9" height="6.08" fill="#9b2964"/>
<rect x="390.3" y="77.6" width="2.9" height="6.08" fill="#5d126e"/>
<rect x="392.3" y="77.6" width="2.9" height="6.08" fill="#5f136e"/>
<rect x="394.3" y="77.6" width="2.9" height="6.08" fill="#1c0c43"/>
<rect x="396.3" y="77.6" width="2.9" height="6.08" fill="#290b55"/>
<rect x="398.3" y="77.6" width="2.9" height="6.08" fill="#000004"/>
<rect x="400.3" y="77.6" width="2.9" height="6.08" fill="#190c3e"/>
<rect x="402.3" y="77.6" width="2.9" height="6.08" fill="#02020c"/>
<rect x="404.3" y="77.6" width="2.9" height="6.08" fill="#0c0826"/>
<rect x="406.3" y="77.6" width="2.9" height="6.08" fill="#5c126e"/>
<rect x="408.3" y="77.6" width="2.9" height="6.08" fill="#64156e"/>
<rect x="410.3" y="77.6" width="2.9" height="6.08" fill="#a62d60"/>
<rect x="412.3" y="77.6" width="2" height="6.08" fill="#a82e5f"/>
<rect x="274.3" y="72.42" width="2.9" height="6.08" fill="#0a0722"/>
<rect x="276.3" y="72.42" width="2.9" height="6.08" fill="#050417"/>
<rect x="278.3" y="72.42" width="2.9" height="6.08" fill="#110a30"/>
<rect x="280.3" y="72.42" width="2.9" height="6.08" fill="#69166e"/>
<rect x="282.3" y="72.42" width="2.9" height="6.08" fill="#b63458"/>
<rect x="284.3" y="72.42" width="2.9" height="6.08" fill="#c73e4c"/>
<rect x="286.3" y="72.42" width="2.9" height="6.08" fill="#f8870e"/>
<rect x="288.3" y="72.42" width="2.9" height="6.08" fill="#f3e35a"/>
<rect x="290.3" y="72.42" width="2.9" height="6.08" fill="#f4dd4f"/>
<rect x="292.3" y="72.42" width="2.9" height="6.08" fill="#f9cb35"/>
<rect x="294.3" y="72.42" width="2.9" height="6.08" fill="#fcac11"/>
<rect x="296.3" y="72.42" width="2.9" height="6.08" fill="#fca80d"/>
<rect x="298.3" y="72.42" width="2.9" height="6.08" fill="#d74b3f"/>
<rect x="300.3" y="72.42" width="2.9" height="6.08" fill="#84206b"/>
<rect x="302.3" y="72.42" width="2.9" height="6.08" fill="#82206c"/>
<rect x="304.3" y="72.42" width="2.9" height="6.08" fill="#3e0966"/>
<rect x="306.3" y="72.42" width="2.9" height="6.08" fill="#510e6c"/>
<rect x="308.3" y="72.42" width="2.9" height="6.08" fill="#08051d"/>
<rect x="310.3" y="72.42" width="2.9" height="6.08" fill="#000004"/>
<rect x="312.3" y="72.42" width="2.9" height="6.08" fill="#000004"/>
<rect x="314.3" y="72.42" width="2.9" height="6.08" fill="#040314"/>
<rect x="316.3" y="72.42" width="2.9" height="6.08" fill="#030210"/>
<rect x="318.3" y="72.42" width="2.9" height="6.08" fill="#290b55"/>
<rect x="320.3" y="72.42" width="2.9" height="6.08" fill="#69166e"/>
<rect x="322.3" y="72.42" width="2.9" height="6.08" fill="#a22b62"/>
<rect x="324.3" y="72.42" width="2.9" height="6.08" fill="#d24644"/>
<rect x="326.3" y="72.42" width="2.9" height="6.08" fill="#ef6e21"/>
<rect x="328.3" y="72.42" width="2.9" height="6.08" fill="#fcb418"/>
<rect x="330.3" y="72.42" width="2.9" height="6.08" fill="#f6d746"/>
<rect x="332.3" y="72.42" width="2.9" height="6.08" fill="#f57d15"/>
<rect x="334.3" y="72.42" width="2.9" height="6.08" fill="#f3e55d"/>
<rect x="336.3" y="72.42" width="2.9" height="6.08" fill="#f67e14"/>
<rect x="338.3" y="72.42" width="2.9" height="6.08" fill="#f06f20"/>
<rect x="340.3" y="72.42" width="2.9" height="6.08" fill="#a82e5f"/>
<rect x="342.3" y="72.42" width="2.9" height="6.08" fill="#8d2369"/>
<rect x="344.3" y="72.42" width="2.9" height="6.08" fill="#5a116e"/>
<rect x="346.3" y="72.42" width="2.9" height="6.08" fill="#2b0b57"/>
<rect x="348.3" y="72.42" width="2.9" height="6.08" fill="#1b0c41"/>
<rect x="350.3" y="72.42" width="2.9" height="6.08" fill="#09061f"/>
<rect x="352.3" y="72.42" width="2.9" height="6.08" fill="#000004"/>
<rect x="354.3" y="72.42" width="2.9" height="6.08" fill="#040314"/>
<rect x="356.3" y="72.42" width="2.9" height="6.08" fill="#2b0b57"/>
<rect x="358.3" y="72.42" width="2.9" height="6.08" fill="#520e6d"/>
<rect x="360.3" y="72.42" width="2.9" height="6.08" fill="#67166e"/>
<rect x="362.3" y="72.42" width="2.9" height="6.08" fill="#982766"/>
<rect x="364.3" y="72.42" width="2.9" height="6.08" fill="#c63d4d"/>
<rect x="366.3" y="72.42" width="2.9" height="6.08" fill="#d44842"/>
<rect x="368.3" y="72.42" width="2.9" height="6.08" fill="#e55c30"/>
<rect x="370.3" y="72.42" width="2.9" height="6.08" fill="#fbb61a"/>
<rect x="372.3" y="72.42" width="2.9" height="6.08" fill="#f78212"/>
<rect x="374.3" y="72.42" width="2.9" height="6.08" fill="#f68013"/>
<rect x="376.3" y="72.42" width="2.9" height="6.08" fill="#df5337"/>
<rect x="378.3" y="72.42" width="2.9" height="6.08" fill="#e65d2f"/>
<rect x="380.3" y="72.42" width="2.9" height="6.08" fill="#cf4446"/>
<rect x="382.3" y="72.42" width="2.9" height="6.08" fill="#771c6d"/>
<rect x="384.3" y="72.42" width="2.9" height="6.08" fill="#5d126e"/>
<rect x="386.3" y="72.42" width="2.9" height="6.08" fill="#180c3c"/>
<rect x="388.3" y="72.42" width="2.9" height="6.08" fill="#390963"/>
<rect x="390.3" y="72.42" width="2.9" height="6.08" fill="#150b37"/>
<rect x="392.3" y="72.42" width="2.9" height="6.08" fill="#000004"/>
<rect x="394.3" y="72.42" width="2.9" height="6.08" fill="#280b53"/>
<rect x="396.3" y="72.42" width="2.9" height="6.08" fill="#2b0b57"/>
<rect x="398.3" y="72.42" width="2.9" height="6.08" fill="#520e6d"/>
<rect x="400.3" y="72.42" width="2.9" height="6.08" fill="#781c6d"/>
<rect x="402.3" y="72.42" width="2.9" height="6.08" fill="#8a226a"/>
<rect x="404.3" y="72.42" width="2.9" height="6.08" fill="#b63458"/>
<rect x="406.3" y="72.42" width="2.9" height="6.08" fill="#e65d2f"/>
<rect x="408.3" y="72.42" width="2.9" height="6.08" fill="#eb6429"/>
<rect x="410.3" y="72.42" width="2.9" height="6.08" fill="#e65d2f"/>
<rect x="412.3" y="72.42" width="2" height="6.08" fill="#fca80d"/>
<rect x="274.3" y="67.25" width="2.9" height="6.08" fill="#000004"/>
<rect x="276.3" y="67.25" width="2.9" height="6.08" fill="#02020c"/>
<rect x="278.3" y="67.25" width="2.9" height="6.08" fill="#240c4f"/>
<rect x="280.3" y="67.25" width="2.9" height="6.08" fill="#84206b"/>
<rect x="282.3" y="67.25" width="2.9" height="6.08" fill="#c83f4b"/>
<rect x="284.3" y="67.25" width="2.9" height="6.08" fill="#e8602d"/>
<rect x="286.3" y="67.25" width="2.9" height="6.08" fill="#fca60c"/>
<rect x="288.3" y="67.25" width="2.9" height="6.08" fill="#fa9008"/>
<rect x="290.3" y="67.25" width="2.9" height="6.08" fill="#fac228"/>
<rect x="292.3" y="67.25" width="2.9" height="6.08" fill="#fbba1f"/>
<rect x="294.3" y="67.25" width="2.9" height="6.08" fill="#fca80d"/>
<rect x="296.3" y="67.25" width="2.9" height="6.08" fill="#f8850f"/>
<rect x="298.3" y="67.25" width="2.9" height="6.08" fill="#a82e5f"/>
<rect x="300.3" y="67.25" width="2.9" height="6.08" fill="#dd513a"/>
<rect x="302.3" y="67.25" width="2.9" height="6.08" fill="#4a0c6b"/>
<rect x="304.3" y="67.25" width="2.9" height="6.08" fill="#310a5c"/>
<rect x="306.3" y="67.25" width="2.9" height="6.08" fill="#140b34"/>
<rect x="308.3" y="67.25" width="2.9" height="6.08" fill="#040312"/>
<rect x="310.3" y="67.25" width="2.9" height="6.08" fill="#000004"/>
<rect x="312.3" y="67.25" width="2.9" height="6.08" fill="#000004"/>
<rect x="314.3" y="67.25" width="2.9" height="6.08" fill="#040312"/>
<rect x="316.3" y="67.25" width="2.9" height="6.08" fill="#59106e"/>
<rect x="318.3" y="67.25" width="2.9" height="6.08" fill="#69166e"/>
<rect x="320.3" y="67.25" width="2.9" height="6.08" fill="#9f2a63"/>
<rect x="322.3" y="67.25" width="2.9" height="6.08" fill="#b43359"/>
<rect x="324.3" y="67.25" width="2.9" height="6.08" fill="#fca309"/>
<rect x="326.3" y="67.25" width="2.9" height="6.08" fill="#fcb014"/>
<rect x="328.3" y="67.25" width="2.9" height="6.08" fill="#fb9606"/>
<rect x="330.3" y="67.25" width="2.9" height="6.08" fill="#fc9f07"/>
<rect x="332.3" y="67.25" width="2.9" height="6.08" fill="#f78212"/>
<rect x="334.3" y="67.25" width="2.9" height="6.08" fill="#d34743"/>
<rect x="336.3" y="67.25" width="2.9" height="6.08" fill="#b73557"/>
<rect x="338.3" y="67.25" width="2.9" height="6.08" fill="#8d2369"/>
<rect x="340.3" y="67.25" width="2.9" height="6.08" fill="#5f136e"/>
<rect x="342.3" y="67.25" width="2.9" height="6.08" fill="#420a68"/>
<rect x="344.3" y="67.25" width="2.9" height="6.08" fill="#07051b"/>
<rect x="346.3" y="67.25" width="2.9" height="6.08" fill="#000004"/>
<rect x="348.3" y="67.25" width="2.9" height="6.08" fill="#030210"/>
<rect x="350.3" y="67.25" width="2.9" height="6.08" fill="#02010a"/>
<rect x="352.3" y="67.25" width="2.9" height="6.08" fill="#0a0722"/>
<rect x="354.3" y="67.25" width="2.9" height="6.08" fill="#6d186e"/>
<rect x="356.3" y="67.25" width="2.9" height="6.08" fill="#7d1e6d"/>
<rect x="358.3" y="67.25" width="2.9" height="6.08" fill="#ba3655"/>
<rect x="360.3" y="67.25" width="2.9" height="6.08" fill="#e8602d"/>
<rect x="362.3" y="67.25" width="2.9" height="6.08" fill="#e45a31"/>
<rect x="364.3" y="67.25" width="2.9" height="6.08" fill="#fb9b06"/>
<rect x="366.3" y="67.25" width="2.9" height="6.08" fill="#fb9d07"/>
<rect x="368.3" y="67.25" width="2.9" height="6.08" fill="#f78212"/>
<rect x="370.3" y="67.25" width="2.9" height="6.08" fill="#f1711f"/>
<rect x="372.3" y="67.25" width="2.9" height="6.08" fill="#c43c4e"/>
<rect x="374.3" y="67.25" width="2.9" height="6.08" fill="#751b6e"/>
<rect x="376.3" y="67.25" width="2.9" height="6.08" fill="#71196e"/>
<rect x="378.3" y="67.25" width="2.9" height="6.08" fill="#310a5c"/>
<rect x="380.3" y="67.25" width="2.9" height="6.08" fill="#340a5f"/>
<rect x="382.3" y="67.25" width="2.9" height="6.08" fill="#0d0829"/>
<rect x="384.3" y="67.25" width="2.9" height="6.08" fill="#000004"/>
<rect x="386.3" y="67.25" width="2.9" height="6.08" fill="#050417"/>
<rect x="388.3" y="67.25" width="2.9" height="6.08" fill="#310a5c"/>
<rect x="390.3" y="67.25" width="2.9" height="6.08" fill="#4d0d6c"/>
<rect x="392.3" y="67.25" width="2.9" height="6.08" fill="#65156e"/>
<rect x="394.3" y="67.25" width="2.9" height="6.08" fill="#952667"/>
<rect x="396.3" y="67.25" width="2.9" height="6.08" fill="#b1325a"/>
<rect x="398.3" y="67.25" width="2.9" height="6.08" fill="#d54a41"/>
<rect x="400.3" y="67.25" width="2.9" height="6.08" fill="#f2741c"/>
<rect x="402.3" y="67.25" width="2.9" height="6.08" fill="#f1731d"/>
<rect x="404.3" y="67.25" width="2.9" height="6.08" fill="#f67e14"/>
<rect x="406.3" y="67.25" width="2.9" height="6.08" fill="#de5238"/>
<rect x="408.3" y="67.25" width="2.9" height="6.08" fill="#bd3853"/>
<rect x="410.3" y="67.25" width="2.9" height="6.08" fill="#982766"/>
<rect x="412.3" y="67.25" width="2" height="6.08" fill="#8c2369"/>
<rect x="274.3" y="62.07" width="2.9" height="6.08" fill="#07051b"/>
<rect x="276.3" y="62.07" width="2.9" height="6.08" fill="#230c4c"/>
<rect x="278.3" y="62.07" width="2.9" height="6.08" fill="#260c51"/>
<rect x="280.3" y="62.07" width="2.9" height="6.08" fill="#5d126e"/>
<rect x="282.3" y="62.07" width="2.9" height="6.08" fill="#d34743"/>
<rect x="284.3" y="62.07" width="2.9" height="6.08" fill="#f37819"/>
<rect x="286.3" y="62.07" width="2.9" height="6.08" fill="#f67e14"/>
<rect x="288.3" y="62.07" width="2.9" height="6.08" fill="#f3e55d"/>
<rect x="290.3" y="62.07" width="2.9" height="6.08" fill="#f7d13d"/>
<rect x="292.3" y="62.07" width="2.9" height="6.08" fill="#f4dd4f"/>
<rect x="294.3" y="62.07" width="2.9" height="6.08" fill="#fa9407"/>
<rect x="296.3" y="62.07" width="2.9" height="6.08" fill="#eb6628"/>
<rect x="298.3" y="62.07" width="2.9" height="6.08" fill="#b0315b"/>
<rect x="300.3" y="62.07" width="2.9" height="6.08" fill="#510e6c"/>
<rect x="302.3" y="62.07" width="2.9" height="6.08" fill="#260c51"/>
<rect x="304.3" y="62.07" width="2.9" height="6.08" fill="#000004"/>
<rect x="306.3" y="62.07" width="2.9" height="6.08" fill="#030210"/>
<rect x="308.3" y="62.07" width="2.9" height="6.08" fill="#000004"/>
<rect x="310.3" y="62.07" width="2.9" height="6.08" fill="#000004"/>
<rect x="312.3" y="62.07" width="2.9" height="6.08" fill="#2b0b57"/>
<rect x="314.3" y="62.07" width="2.9" height="6.08" fill="#6d186e"/>
<rect x="316.3" y="62.07" width="2.9" height="6.08" fill="#b1325a"/>
<rect x="318.3" y="62.07" width="2.9" height="6.08" fill="#de5238"/>
<rect x="320.3" y="62.07" width="2.9" height="6.08" fill="#d84c3e"/>
<rect x="322.3" y="62.07" width="2.9" height="6.08" fill="#f78212"/>
<rect x="324.3" y="62.07" width="2.9" height="6.08" fill="#fb9d07"/>
<rect x="326.3" y="62.07" width="2.9" height="6.08" fill="#fcac11"/>
<rect x="328.3" y="62.07" width="2.9" height="6.08" fill="#e75e2e"/>
<rect x="330.3" y="62.07" width="2.9" height="6.08" fill="#ed6925"/>
<rect x="332.3" y="62.07" width="2.9" height="6.08" fill="#ce4347"/>
<rect x="334.3" y="62.07" width="2.9" height="6.08" fill="#7a1d6d"/>
<rect x="336.3" y="62.07" width="2.9" height="6.08" fill="#5a116e"/>
<rect x="338.3" y="62.07" width="2.9" height="6.08" fill="#400a67"/>
<rect x="340.3" y="62.07" width="2.9" height="6.08" fill="#060419"/>
<rect x="342.3" y="62.07" width="2.9" height="6.08" fill="#0a0722"/>
<rect x="344.3" y="62.07" width="2.9" height="6.08" fill="#0b0724"/>
<rect x="346.3" y="62.07" width="2.9" height="6.08" fill="#110a30"/>
<rect x="348.3" y="62.07" width="2.9" height="6.08" fill="#380962"/>
<rect x="350.3" y="62.07" width="2.9" height="6.08" fill="#59106e"/>
<rect x="352.3" y="62.07" width="2.9" height="6.08" fill="#b63458"/>
<rect x="354.3" y="62.07" width="2.9" height="6.08" fill="#c33b4f"/>
<rect x="356.3" y="62.07" width="2.9" height="6.08" fill="#e25734"/>
<rect x="358.3" y="62.07" width="2.9" height="6.08" fill="#fb9906"/>
<rect x="360.3" y="62.07" width="2.9" height="6.08" fill="#f78212"/>
<rect x="362.3" y="62.07" width="2.9" height="6.08" fill="#fb9906"/>
<rect x="364.3" y="62.07" width="2.9" height="6.08" fill="#f98e09"/>
<rect x="366.3" y="62.07" width="2.9" height="6.08" fill="#dd513a"/>
<rect x="368.3" y="62.07" width="2.9" height="6.08" fill="#b43359"/>
<rect x="370.3" y="62.07" width="2.9" height="6.08" fill="#922568"/>
<rect x="372.3" y="62.07" width="2.9" height="6.08" fill="#5a116e"/>
<rect x="374.3" y="62.07" width="2.9" height="6.08" fill="#02020e"/>
<rect x="376.3" y="62.07" width="2.9" height="6.08" fill="#000004"/>
<rect x="378.3" y="62.07" width="2.9" height="6.08" fill="#150b37"/>
<rect x="380.3" y="62.07" width="2.9" height="6.08" fill="#0a0722"/>
<rect x="382.3" y="62.07" width="2.9" height="6.08" fill="#000004"/>
<rect x="384.3" y="62.07" width="2.9" height="6.08" fill="#1c0c43"/>
<rect x="386.3" y="62.07" width="2.9" height="6.08" fill="#6f196e"/>
<rect x="388.3" y="62.07" width="2.9" height="6.08" fill="#8a226a"/>
<rect x="390.3" y="62.07" width="2.9" height="6.08" fill="#d54a41"/>
<rect x="392.3" y="62.07" width="2.9" height="6.08" fill="#e9612b"/>
<rect x="394.3" y="62.07" width="2.9" height="6.08" fill="#f78410"/>
<rect x="396.3" y="62.07" width="2.9" height="6.08" fill="#ea632a"/>
<rect x="398.3" y="62.07" width="2.9" height="6.08" fill="#f78410"/>
<rect x="400.3" y="62.07" width="2.9" height="6.08" fill="#f8890c"/>
<rect x="402.3" y="62.07" width="2.9" height="6.08" fill="#b63458"/>
<rect x="404.3" y="62.07" width="2.9" height="6.08" fill="#b93556"/>
<rect x="406.3" y="62.07" width="2.9" height="6.08" fill="#82206c"/>
<rect x="408.3" y="62.07" width="2.9" height="6.08" fill="#4d0d6c"/>
<rect x="410.3" y="62.07" width="2.9" height="6.08" fill="#160b39"/>
<rect x="412.3" y="62.07" width="2" height="6.08" fill="#000004"/>
<rect x="274.3" y="56.89" width="2.9" height="6.08" fill="#000004"/>
<rect x="276.3" y="56.89" width="2.9" height="6.08" fill="#1f0c48"/>
<rect x="278.3" y="56.89" width="2.9" height="6.08" fill="#64156e"/>
<rect x="280.3" y="56.89" width="2.9" height="6.08" fill="#b0315b"/>
<rect x="282.3" y="56.89" width="2.9" height="6.08" fill="#e45a31"/>
<rect x="284.3" y="56.89" width="2.9" height="6.08" fill="#fb9906"/>
<rect x="286.3" y="56.89" width="2.9" height="6.08" fill="#fca80d"/>
<rect x="288.3" y="56.89" width="2.9" height="6.08" fill="#fcaa0f"/>
<rect x="290.3" y="56.89" width="2.9" height="6.08" fill="#f9cb35"/>
<rect x="292.3" y="56.89" width="2.9" height="6.08" fill="#fcae12"/>
<rect x="294.3" y="56.89" width="2.9" height="6.08" fill="#ed6925"/>
<rect x="296.3" y="56.89" width="2.9" height="6.08" fill="#982766"/>
<rect x="298.3" y="56.89" width="2.9" height="6.08" fill="#6a176e"/>
<rect x="300.3" y="56.89" width="2.9" height="6.08" fill="#120a32"/>
<rect x="302.3" y="56.89" width="2.9" height="6.08" fill="#09061f"/>
<rect x="304.3" y="56.89" width="2.9" height="6.08" fill="#000004"/>
<rect x="306.3" y="56.89" width="2.9" height="6.08" fill="#000004"/>
<rect x="308.3" y="56.89" width="2.9" height="6.08" fill="#050417"/>
<rect x="310.3" y="56.89" width="2.9" height="6.08" fill="#240c4f"/>
<rect x="312.3" y="56.89" width="2.9" height="6.08" fill="#7f1e6c"/>
<rect x="314.3" y="56.89" width="2.9" height="6.08" fill="#85216b"/>
<rect x="316.3" y="56.89" width="2.9" height="6.08" fill="#ab2f5e"/>
<rect x="318.3" y="56.89" width="2.9" height="6.08" fill="#fb9706"/>
<rect x="320.3" y="56.89" width="2.9" height="6.08" fill="#f8cd37"/>
<rect x="322.3" y="56.89" width="2.9" height="6.08" fill="#f4dd4f"/>
<rect x="324.3" y="56.89" width="2.9" height="6.08" fill="#fcac11"/>
<rect x="326.3" y="56.89" width="2.9" height="6.08" fill="#f98b0b"/>
<rect x="328.3" y="56.89" width="2.9" height="6.08" fill="#db503b"/>
<rect x="330.3" y="56.89" width="2.9" height="6.08" fill="#84206b"/>
<rect x="332.3" y="56.89" width="2.9" height="6.08" fill="#550f6d"/>
<rect x="334.3" y="56.89" width="2.9" height="6.08" fill="#360961"/>
<rect x="336.3" y="56.89" width="2.9" height="6.08" fill="#010108"/>
<rect x="338.3" y="56.89" width="2.9" height="6.08" fill="#190c3e"/>
<rect x="340.3" y="56.89" width="2.9" height="6.08" fill="#000004"/>
<rect x="342.3" y="56.89" width="2.9" height="6.08" fill="#040314"/>
<rect x="344.3" y="56.89" width="2.9" height="6.08" fill="#4f0d6c"/>
<rect x="346.3" y="56.89" width="2.9" height="6.08" fill="#5f136e"/>
<rect x="348.3" y="56.89" width="2.9" height="6.08" fill="#8f2469"/>
<rect x="350.3" y="56.89" width="2.9" height="6.08" fill="#c03a51"/>
<rect x="352.3" y="56.89" width="2.9" height="6.08" fill="#eb6628"/>
<rect x="354.3" y="56.89" width="2.9" height="6.08" fill="#fac026"/>
<rect x="356.3" y="56.89" width="2.9" height="6.08" fill="#fca50a"/>
<rect x="358.3" y="56.89" width="2.9" height="6.08" fill="#fa9407"/>
<rect x="360.3" y="56.89" width="2.9" height="6.08" fill="#e15635"/>
<rect x="362.3" y="56.89" width="2.9" height="6.08" fill="#d44842"/>
<rect x="364.3" y="56.89" width="2.9" height="6.08" fill="#8f2469"/>
<rect x="366.3" y="56.89" width="2.9" height="6.08" fill="#3d0965"/>
<rect x="368.3" y="56.89" width="2.9" height="6.08" fill="#160b39"/>
<rect x="370.3" y="56.89" width="2.9" height="6.08" fill="#09061f"/>
<rect x="372.3" y="56.89" width="2.9" height="6.08" fill="#10092d"/>
<rect x="374.3" y="56.89" width="2.9" height="6.08" fill="#030210"/>
<rect x="376.3" y="56.89" width="2.9" height="6.08" fill="#230c4c"/>
<rect x="378.3" y="56.89" width="2.9" height="6.08" fill="#741a6e"/>
<rect x="380.3" y="56.89" width="2.9" height="6.08" fill="#67166e"/>
<rect x="382.3" y="56.89" width="2.9" height="6.08" fill="#932667"/>
<rect x="384.3" y="56.89" width="2.9" height="6.08" fill="#e9612b"/>
<rect x="386.3" y="56.89" width="2.9" height="6.08" fill="#f47918"/>
<rect x="388.3" y="56.89" width="2.9" height="6.08" fill="#f68013"/>
<rect x="390.3" y="56.89" width="2.9" height="6.08" fill="#f8890c"/>
<rect x="392.3" y="56.89" width="2.9" height="6.08" fill="#eb6429"/>
<rect x="394.3" y="56.89" width="2.9" height="6.08" fill="#e05536"/>
<rect x="396.3" y="56.89" width="2.9" height="6.08" fill="#a52c60"/>
<rect x="398.3" y="56.89" width="2.9" height="6.08" fill="#8c2369"/>
<rect x="400.3" y="56.89" width="2.9" height="6.08" fill="#280b53"/>
<rect x="402.3" y="56.89" width="2.9" height="6.08" fill="#0b0724"/>
<rect x="404.3" y="56.89" width="2.9" height="6.08" fill="#09061f"/>
<rect x="406.3" y="56.89" width="2.9" height="6.08" fill="#010005"/>
<rect x="408.3" y="56.89" width="2.9" height="6.08" fill="#180c3c"/>
<rect x="410.3" y="56.89" width="2.9" height="6.08" fill="#230c4c"/>
<rect x="412.3" y="56.89" width="2" height="6.08" fill="#450a69"/>
<rect x="274.3" y="51.72" width="2.9" height="6.08" fill="#000004"/>
<rect x="276.3" y="51.72" width="2.9" height="6.08" fill="#0b0724"/>
<rect x="278.3" y="51.72" width="2.9" height="6.08" fill="#320a5e"/>
<rect x="280.3" y="51.72" width="2.9" height="6.08" fill="#8a226a"/>
<rect x="282.3" y="51.72" width="2.9" height="6.08" fill="#d54a41"/>
<rect x="284.3" y="51.72" width="2.9" height="6.08" fill="#f98b0b"/>
<rect x="286.3" y="51.72" width="2.9" height="6.08" fill="#f9c72f"/>
<rect x="288.3" y="51.72" width="2.9" height="6.08" fill="#f2ea69"/>
<rect x="290.3" y="51.72" width="2.9" height="6.08" fill="#fac62d"/>
<rect x="292.3" y="51.72" width="2.9" height="6.08" fill="#fcb014"/>
<rect x="294.3" y="51.72" width="2.9" height="6.08" fill="#e55c30"/>
<rect x="296.3" y="51.72" width="2.9" height="6.08" fill="#87216b"/>
<rect x="298.3" y="51.72" width="2.9" height="6.08" fill="#6a176e"/>
<rect x="300.3" y="51.72" width="2.9" height="6.08" fill="#240c4f"/>
<rect x="302.3" y="51.72" width="2.9" height="6.08" fill="#000004"/>
<rect x="304.3" y="51.72" width="2.9" height="6.08" fill="#000004"/>
<rect x="306.3" y="51.72" width="2.9" height="6.08" fill="#110a30"/>
<rect x="308.3" y="51.72" width="2.9" height="6.08" fill="#2b0b57"/>
<rect x="310.3" y="51.72" width="2.9" height="6.08" fill="#7f1e6c"/>
<rect x="312.3" y="51.72" width="2.9" height="6.08" fill="#b63458"/>
<rect x="314.3" y="51.72" width="2.9" height="6.08" fill="#ed6925"/>
<rect x="316.3" y="51.72" width="2.9" height="6.08" fill="#f8870e"/>
<rect x="318.3" y="51.72" width="2.9" height="6.08" fill="#fbbc21"/>
<rect x="320.3" y="51.72" width="2.9" height="6.08" fill="#fcaa0f"/>
<rect x="322.3" y="51.72" width="2.9" height="6.08" fill="#fcaa0f"/>
<rect x="324.3" y="51.72" width="2.9" height="6.08" fill="#cf4446"/>
<rect x="326.3" y="51.72" width="2.9" height="6.08" fill="#c33b4f"/>
<rect x="328.3" y="51.72" width="2.9" height="6.08" fill="#972766"/>
<rect x="330.3" y="51.72" width="2.9" height="6.08" fill="#470b6a"/>
<rect x="332.3" y="51.72" width="2.9" height="6.08" fill="#0a0722"/>
<rect x="334.3" y="51.72" width="2.9" height="6.08" fill="#030210"/>
<rect x="336.3" y="51.72" width="2.9" height="6.08" fill="#000004"/>
<rect x="338.3" y="51.72" width="2.9" height="6.08" fill="#010106"/>
<rect x="340.3" y="51.72" width="2.9" height="6.08" fill="#2b0b57"/>
<rect x="342.3" y="51.72" width="2.9" height="6.08" fill="#6f196e"/>
<rect x="344.3" y="51.72" width="2.9" height="6.08" fill="#c73e4c"/>
<rect x="346.3" y="51.72" width="2.9" height="6.08" fill="#d44842"/>
<rect x="348.3" y="51.72" width="2.9" height="6.08" fill="#fc9f07"/>
<rect x="350.3" y="51.72" width="2.9" height="6.08" fill="#f2741c"/>
<rect x="352.3" y="51.72" width="2.9" height="6.08" fill="#f8850f"/>
<rect x="354.3" y="51.72" width="2.9" height="6.08" fill="#f57b17"/>
<rect x="356.3" y="51.72" width="2.9" height="6.08" fill="#ec6726"/>
<rect x="358.3" y="51.72" width="2.9" height="6.08" fill="#9a2865"/>
<rect x="360.3" y="51.72" width="2.9" height="6.08" fill="#360961"/>
<rect x="362.3" y="51.72" width="2.9" height="6.08" fill="#390963"/>
<rect x="364.3" y="51.72" width="2.9" height="6.08" fill="#09061f"/>
<rect x="366.3" y="51.72" width="2.9" height="6.08" fill="#000004"/>
<rect x="368.3" y="51.72" width="2.9" height="6.08" fill="#000004"/>
<rect x="370.3" y="51.72" width="2.9" height="6.08" fill="#07051b"/>
<rect x="372.3" y="51.72" width="2.9" height="6.08" fill="#450a69"/>
<rect x="374.3" y="51.72" width="2.9" height="6.08" fill="#8c2369"/>
<rect x="376.3" y="51.72" width="2.9" height="6.08" fill="#952667"/>
<rect x="378.3" y="51.72" width="2.9" height="6.08" fill="#f98c0a"/>
<rect x="380.3" y="51.72" width="2.9" height="6.08" fill="#f37819"/>
<rect x="382.3" y="51.72" width="2.9" height="6.08" fill="#f68013"/>
<rect x="384.3" y="51.72" width="2.9" height="6.08" fill="#fa9407"/>
<rect x="386.3" y="51.72" width="2.9" height="6.08" fill="#eb6628"/>
<rect x="388.3" y="51.72" width="2.9" height="6.08" fill="#ef6c23"/>
<rect x="390.3" y="51.72" width="2.9" height="6.08" fill="#ae305c"/>
<rect x="392.3" y="51.72" width="2.9" height="6.08" fill="#520e6d"/>
<rect x="394.3" y="51.72" width="2.9" height="6.08" fill="#1e0c45"/>
<rect x="396.3" y="51.72" width="2.9" height="6.08" fill="#030210"/>
<rect x="398.3" y="51.72" width="2.9" height="6.08" fill="#010005"/>
<rect x="400.3" y="51.72" width="2.9" height="6.08" fill="#110a30"/>
<rect x="402.3" y="51.72" width="2.9" height="6.08" fill="#10092d"/>
<rect x="404.3" y="51.72" width="2.9" height="6.08" fill="#741a6e"/>
<rect x="406.3" y="51.72" width="2.9" height="6.08" fill="#801f6c"/>
<rect x="408.3" y="51.72" width="2.9" height="6.08" fill="#b43359"/>
<rect x="410.3" y="51.72" width="2.9" height="6.08" fill="#eb6628"/>
<rect x="412.3" y="51.72" width="2" height="6.08" fill="#d24644"/>
<rect x="274.3" y="46.54" width="2.9" height="6.08" fill="#000004"/>
<rect x="276.3" y="46.54" width="2.9" height="6.08" fill="#290b55"/>
<rect x="278.3" y="46.54" width="2.9" height="6.08" fill="#67166e"/>
<rect x="280.3" y="46.54" width="2.9" height="6.08" fill="#b63458"/>
<rect x="282.3" y="46.54" width="2.9" height="6.08" fill="#f3761b"/>
<rect x="284.3" y="46.54" width="2.9" height="6.08" fill="#fb9b06"/>
<rect x="286.3" y="46.54" width="2.9" height="6.08" fill="#f9c932"/>
<rect x="288.3" y="46.54" width="2.9" height="6.08" fill="#fca309"/>
<rect x="290.3" y="46.54" width="2.9" height="6.08" fill="#ef6c23"/>
<rect x="292.3" y="46.54" width="2.9" height="6.08" fill="#f37819"/>
<rect x="294.3" y="46.54" width="2.9" height="6.08" fill="#8f2469"/>
<rect x="296.3" y="46.54" width="2.9" height="6.08" fill="#450a69"/>
<rect x="298.3" y="46.54" width="2.9" height="6.08" fill="#360961"/>
<rect x="300.3" y="46.54" width="2.9" height="6.08" fill="#08051d"/>
<rect x="302.3" y="46.54" width="2.9" height="6.08" fill="#000004"/>
<rect x="304.3" y="46.54" width="2.9" height="6.08" fill="#000004"/>
<rect x="306.3" y="46.54" width="2.9" height="6.08" fill="#230c4c"/>
<rect x="308.3" y="46.54" width="2.9" height="6.08" fill="#550f6d"/>
<rect x="310.3" y="46.54" width="2.9" height="6.08" fill="#c13a50"/>
<rect x="312.3" y="46.54" width="2.9" height="6.08" fill="#ed6925"/>
<rect x="314.3" y="46.54" width="2.9" height="6.08" fill="#fc9f07"/>
<rect x="316.3" y="46.54" width="2.9" height="6.08" fill="#f8cd37"/>
<rect x="318.3" y="46.54" width="2.9" height="6.08" fill="#fac42a"/>
<rect x="320.3" y="46.54" width="2.9" height="6.08" fill="#fbb81d"/>
<rect x="322.3" y="46.54" width="2.9" height="6.08" fill="#ef6c23"/>
<rect x="324.3" y="46.54" width="2.9" height="6.08" fill="#71196e"/>
<rect x="326.3" y="46.54" width="2.9" height="6.08" fill="#65156e"/>
<rect x="328.3" y="46.54" width="2.9" height="6.08" fill="#030210"/>
<rect x="330.3" y="46.54" width="2.9" height="6.08" fill="#000004"/>
<rect x="332.3" y="46.54" width="2.9" height="6.08" fill="#02020e"/>
<rect x="334.3" y="46.54" width="2.9" height="6.08" fill="#000004"/>
<rect x="336.3" y="46.54" width="2.9" height="6.08" fill="#260c51"/>
<rect x="338.3" y="46.54" width="2.9" height="6.08" fill="#88226a"/>
<rect x="340.3" y="46.54" width="2.9" height="6.08" fill="#a62d60"/>
<rect x="342.3" y="46.54" width="2.9" height="6.08" fill="#d94d3d"/>
<rect x="344.3" y="46.54" width="2.9" height="6.08" fill="#fb9606"/>
<rect x="346.3" y="46.54" width="2.9" height="6.08" fill="#fac62d"/>
<rect x="348.3" y="46.54" width="2.9" height="6.08" fill="#fca60c"/>
<rect x="350.3" y="46.54" width="2.9" height="6.08" fill="#db503b"/>
<rect x="352.3" y="46.54" width="2.9" height="6.08" fill="#bf3952"/>
<rect x="354.3" y="46.54" width="2.9" height="6.08" fill="#8a226a"/>
<rect x="356.3" y="46.54" width="2.9" height="6.08" fill="#781c6d"/>
<rect x="358.3" y="46.54" width="2.9" height="6.08" fill="#290b55"/>
<rect x="360.3" y="46.54" width="2.9" height="6.08" fill="#0b0724"/>
<rect x="362.3" y="46.54" width="2.9" height="6.08" fill="#0e092b"/>
<rect x="364.3" y="46.54" width="2.9" height="6.08" fill="#060419"/>
<rect x="366.3" y="46.54" width="2.9" height="6.08" fill="#420a68"/>
<rect x="368.3" y="46.54" width="2.9" height="6.08" fill="#7f1e6c"/>
<rect x="370.3" y="46.54" width="2.9" height="6.08" fill="#9d2964"/>
<rect x="372.3" y="46.54" width="2.9" height="6.08" fill="#e25734"/>
<rect x="374.3" y="46.54" width="2.9" height="6.08" fill="#f98c0a"/>
<rect x="376.3" y="46.54" width="2.9" height="6.08" fill="#f2741c"/>
<rect x="378.3" y="46.54" width="2.9" height="6.08" fill="#fb9906"/>
<rect x="380.3" y="46.54" width="2.9" height="6.08" fill="#f1711f"/>
<rect x="382.3" y="46.54" width="2.9" height="6.08" fill="#d44842"/>
<rect x="384.3" y="46.54" width="2.9" height="6.08" fill="#71196e"/>
<rect x="386.3" y="46.54" width="2.9" height="6.08" fill="#490b6a"/>
<rect x="388.3" y="46.54" width="2.9" height="6.08" fill="#380962"/>
<rect x="390.3" y="46.54" width="2.9" height="6.08" fill="#0d0829"/>
<rect x="392.3" y="46.54" width="2.9" height="6.08" fill="#000004"/>
<rect x="394.3" y="46.54" width="2.9" height="6.08" fill="#140b34"/>
<rect x="396.3" y="46.54" width="2.9" height="6.08" fill="#5d126e"/>
<rect x="398.3" y="46.54" width="2.9" height="6.08" fill="#741a6e"/>
<rect x="400.3" y="46.54" width="2.9" height="6.08" fill="#b93556"/>
<rect x="402.3" y="46.54" width="2.9" height="6.08" fill="#f98c0a"/>
<rect x="404.3" y="46.54" width="2.9" height="6.08" fill="#f06f20"/>
<rect x="406.3" y="46.54" width="2.9" height="6.08" fill="#f57b17"/>
<rect x="408.3" y="46.54" width="2.9" height="6.08" fill="#e45a31"/>
<rect x="410.3" y="46.54" width="2.9" height="6.08" fill="#d24644"/>
<rect x="412.3" y="46.54" width="2" height="6.08" fill="#d04545"/>
<rect x="274.3" y="41.36" width="2.9" height="6.08" fill="#000004"/>
<rect x="276.3" y="41.36" width="2.9" height="6.08" fill="#0b0724"/>
<rect x="278.3" y="41.36" width="2.9" height="6.08" fill="#5f136e"/>
<rect x="280.3" y="41.36" width="2.9" height="6.08" fill="#c83f4b"/>
<rect x="282.3" y="41.36" width="2.9" height="6.08" fill="#fb9606"/>
<rect x="284.3" y="41.36" width="2.9" height="6.08" fill="#fca80d"/>
<rect x="286.3" y="41.36" width="2.9" height="6.08" fill="#f2e661"/>
<rect x="288.3" y="41.36" width="2.9" height="6.08" fill="#fcaa0f"/>
<rect x="290.3" y="41.36" width="2.9" height="6.08" fill="#f78410"/>
<rect x="292.3" y="41.36" width="2.9" height="6.08" fill="#cc4248"/>
<rect x="294.3" y="41.36" width="2.9" height="6.08" fill="#7f1e6c"/>
<rect x="296.3" y="41.36" width="2.9" height="6.08" fill="#190c3e"/>
<rect x="298.3" y="41.36" width="2.9" height="6.08" fill="#000004"/>
<rect x="300.3" y="41.36" width="2.9" height="6.08" fill="#000004"/>
<rect x="302.3" y="41.36" width="2.9" height="6.08" fill="#000004"/>
<rect x="304.3" y="41.36" width="2.9" height="6.08" fill="#240c4f"/>
<rect x="306.3" y="41.36" width="2.9" height="6.08" fill="#781c6d"/>
<rect x="308.3" y="41.36" width="2.9" height="6.08" fill="#d04545"/>
<rect x="310.3" y="41.36" width="2.9" height="6.08" fill="#ef6c23"/>
<rect x="312.3" y="41.36" width="2.9" height="6.08" fill="#fca108"/>
<rect x="314.3" y="41.36" width="2.9" height="6.08" fill="#fac026"/>
<rect x="316.3" y="41.36" width="2.9" height="6.08" fill="#fa9407"/>
<rect x="318.3" y="41.36" width="2.9" height="6.08" fill="#ef6c23"/>
<rect x="320.3" y="41.36" width="2.9" height="6.08" fill="#c83f4b"/>
<rect x="322.3" y="41.36" width="2.9" height="6.08" fill="#7a1d6d"/>
<rect x="324.3" y="41.36" width="2.9" height="6.08" fill="#120a32"/>
<rect x="326.3" y="41.36" width="2.9" height="6.08" fill="#010005"/>
<rect x="328.3" y="41.36" width="2.9" height="6.08" fill="#000004"/>
<rect x="330.3" y="41.36" width="2.9" height="6.08" fill="#09061f"/>
<rect x="332.3" y="41.36" width="2.9" height="6.08" fill="#140b34"/>
<rect x="334.3" y="41.36" width="2.9" height="6.08" fill="#6a176e"/>
<rect x="336.3" y="41.36" width="2.9" height="6.08" fill="#952667"/>
<rect x="338.3" y="41.36" width="2.9" height="6.08" fill="#e55c30"/>
<rect x="340.3" y="41.36" width="2.9" height="6.08" fill="#fb9b06"/>
<rect x="342.3" y="41.36" width="2.9" height="6.08" fill="#fac228"/>
<rect x="344.3" y="41.36" width="2.9" height="6.08" fill="#f2741c"/>
<rect x="346.3" y="41.36" width="2.9" height="6.08" fill="#f57d15"/>
<rect x="348.3" y="41.36" width="2.9" height="6.08" fill="#ba3655"/>
<rect x="350.3" y="41.36" width="2.9" height="6.08" fill="#64156e"/>
<rect x="352.3" y="41.36" width="2.9" height="6.08" fill="#3e0966"/>
<rect x="354.3" y="41.36" width="2.9" height="6.08" fill="#030210"/>
<rect x="356.3" y="41.36" width="2.9" height="6.08" fill="#000004"/>
<rect x="358.3" y="41.36" width="2.9" height="6.08" fill="#000004"/>
<rect x="360.3" y="41.36" width="2.9" height="6.08" fill="#230c4c"/>
<rect x="362.3" y="41.36" width="2.9" height="6.08" fill="#5d126e"/>
<rect x="364.3" y="41.36" width="2.9" height="6.08" fill="#9f2a63"/>
<rect x="366.3" y="41.36" width="2.9" height="6.08" fill="#ca404a"/>
<rect x="368.3" y="41.36" width="2.9" height="6.08" fill="#f06f20"/>
<rect x="370.3" y="41.36" width="2.9" height="6.08" fill="#fb9d07"/>
<rect x="372.3" y="41.36" width="2.9" height="6.08" fill="#fcaa0f"/>
<rect x="374.3" y="41.36" width="2.9" height="6.08" fill="#e8602d"/>
<rect x="376.3" y="41.36" width="2.9" height="6.08" fill="#d74b3f"/>
<rect x="378.3" y="41.36" width="2.9" height="6.08" fill="#781c6d"/>
<rect x="380.3" y="41.36" width="2.9" height="6.08" fill="#1c0c43"/>
<rect x="382.3" y="41.36" width="2.9" height="6.08" fill="#160b39"/>
<rect x="384.3" y="41.36" width="2.9" height="6.08" fill="#000004"/>
<rect x="386.3" y="41.36" width="2.9" height="6.08" fill="#08051d"/>
<rect x="388.3" y="41.36" width="2.9" height="6.08" fill="#380962"/>
<rect x="390.3" y="41.36" width="2.9" height="6.08" fill="#4f0d6c"/>
<rect x="392.3" y="41.36" width="2.9" height="6.08" fill="#952667"/>
<rect x="394.3" y="41.36" width="2.9" height="6.08" fill="#f37819"/>
<rect x="396.3" y="41.36" width="2.9" height="6.08" fill="#f1711f"/>
<rect x="398.3" y="41.36" width="2.9" height="6.08" fill="#f8870e"/>
<rect x="400.3" y="41.36" width="2.9" height="6.08" fill="#f98e09"/>
<rect x="402.3" y="41.36" width="2.9" height="6.08" fill="#e25734"/>
<rect x="404.3" y="41.36" width="2.9" height="6.08" fill="#b63458"/>
<rect x="406.3" y="41.36" width="2.9" height="6.08" fill="#84206b"/>
<rect x="408.3" y="41.36" width="2.9" height="6.08" fill="#08051d"/>
<rect x="410.3" y="41.36" width="2.9" height="6.08" fill="#310a5c"/>
<rect x="412.3" y="41.36" width="2" height="6.08" fill="#000004"/>
<rect x="274.3" y="36.18" width="2.9" height="6.08" fill="#000004"/>
<rect x="276.3" y="36.18" width="2.9" height="6.08" fill="#390963"/>
<rect x="278.3" y="36.18" width="2.9" height="6.08" fill="#84206b"/>
<rect x="280.3" y="36.18" width="2.9" height="6.08" fill="#bf3952"/>
<rect x="282.3" y="36.18" width="2.9" height="6.08" fill="#fb9b06"/>
<rect x="284.3" y="36.18" width="2.9" height="6.08" fill="#fca80d"/>
<rect x="286.3" y="36.18" width="2.9" height="6.08" fill="#fbb81d"/>
<rect x="288.3" y="36.18" width="2.9" height="6.08" fill="#f3761b"/>
<rect x="290.3" y="36.18" width="2.9" height="6.08" fill="#d04545"/>
<rect x="292.3" y="36.18" width="2.9" height="6.08" fill="#9a2865"/>
<rect x="294.3" y="36.18" width="2.9" height="6.08" fill="#3e0966"/>
<rect x="296.3" y="36.18" width="2.9" height="6.08" fill="#07051b"/>
<rect x="298.3" y="36.18" width="2.9" height="6.08" fill="#010106"/>
<rect x="300.3" y="36.18" width="2.9" height="6.08" fill="#000004"/>
<rect x="302.3" y="36.18" width="2.9" height="6.08" fill="#0c0826"/>
<rect x="304.3" y="36.18" width="2.9" height="6.08" fill="#61136e"/>
<rect x="306.3" y="36.18" width="2.9" height="6.08" fill="#db503b"/>
<rect x="308.3" y="36.18" width="2.9" height="6.08" fill="#f1731d"/>
<rect x="310.3" y="36.18" width="2.9" height="6.08" fill="#fcb418"/>
<rect x="312.3" y="36.18" width="2.9" height="6.08" fill="#fbba1f"/>
<rect x="314.3" y="36.18" width="2.9" height="6.08" fill="#fca50a"/>
<rect x="316.3" y="36.18" width="2.9" height="6.08" fill="#ed6925"/>
<rect x="318.3" y="36.18" width="2.9" height="6.08" fill="#a52c60"/>
<rect x="320.3" y="36.18" width="2.9" height="6.08" fill="#4f0d6c"/>
<rect x="322.3" y="36.18" width="2.9" height="6.08" fill="#040312"/>
<rect x="324.3" y="36.18" width="2.9" height="6.08" fill="#000004"/>
<rect x="326.3" y="36.18" width="2.9" height="6.08" fill="#010005"/>
<rect x="328.3" y="36.18" width="2.9" height="6.08" fill="#1c0c43"/>
<rect x="330.3" y="36.18" width="2.9" height="6.08" fill="#65156e"/>
<rect x="332.3" y="36.18" width="2.9" height="6.08" fill="#a02a63"/>
<rect x="334.3" y="36.18" width="2.9" height="6.08" fill="#d34743"/>
<rect x="336.3" y="36.18" width="2.9" height="6.08" fill="#fc9f07"/>
<rect x="338.3" y="36.18" width="2.9" height="6.08" fill="#fbbc21"/>
<rect x="340.3" y="36.18" width="2.9" height="6.08" fill="#f1731d"/>
<rect x="342.3" y="36.18" width="2.9" height="6.08" fill="#f47918"/>
<rect x="344.3" y="36.18" width="2.9" height="6.08" fill="#c33b4f"/>
<rect x="346.3" y="36.18" width="2.9" height="6.08" fill="#8f2469"/>
<rect x="348.3" y="36.18" width="2.9" height="6.08" fill="#0a0722"/>
<rect x="350.3" y="36.18" width="2.9" height="6.08" fill="#000004"/>
<rect x="352.3" y="36.18" width="2.9" height="6.08" fill="#040314"/>
<rect x="354.3" y="36.18" width="2.9" height="6.08" fill="#000004"/>
<rect x="356.3" y="36.18" width="2.9" height="6.08" fill="#280b53"/>
<rect x="358.3" y="36.18" width="2.9" height="6.08" fill="#6a176e"/>
<rect x="360.3" y="36.18" width="2.9" height="6.08" fill="#b63458"/>
<rect x="362.3" y="36.18" width="2.9" height="6.08" fill="#d74b3f"/>
<rect x="364.3" y="36.18" width="2.9" height="6.08" fill="#f98e09"/>
<rect x="366.3" y="36.18" width="2.9" height="6.08" fill="#fcac11"/>
<rect x="368.3" y="36.18" width="2.9" height="6.08" fill="#f3761b"/>
<rect x="370.3" y="36.18" width="2.9" height="6.08" fill="#cb4149"/>
<rect x="372.3" y="36.18" width="2.9" height="6.08" fill="#741a6e"/>
<rect x="374.3" y="36.18" width="2.9" height="6.08" fill="#59106e"/>
<rect x="376.3" y="36.18" width="2.9" height="6.08" fill="#10092d"/>
<rect x="378.3" y="36.18" width="2.9" height="6.08" fill="#0b0724"/>
<rect x="380.3" y="36.18" width="2.9" height="6.08" fill="#000004"/>
<rect x="382.3" y="36.18" width="2.9" height="6.08" fill="#320a5e"/>
<rect x="384.3" y="36.18" width="2.9" height="6.08" fill="#510e6c"/>
<rect x="386.3" y="36.18" width="2.9" height="6.08" fill="#b93556"/>
<rect x="388.3" y="36.18" width="2.9" height="6.08" fill="#e65d2f"/>
<rect x="390.3" y="36.18" width="2.9" height="6.08" fill="#eb6429"/>
<rect x="392.3" y="36.18" width="2.9" height="6.08" fill="#f98b0b"/>
<rect x="394.3" y="36.18" width="2.9" height="6.08" fill="#f8890c"/>
<rect x="396.3" y="36.18" width="2.9" height="6.08" fill="#d54a41"/>
<rect x="398.3" y="36.18" width="2.9" height="6.08" fill="#9a2865"/>
<rect x="400.3" y="36.18" width="2.9" height="6.08" fill="#340a5f"/>
<rect x="402.3" y="36.18" width="2.9" height="6.08" fill="#07051b"/>
<rect x="404.3" y="36.18" width="2.9" height="6.08" fill="#000004"/>
<rect x="406.3" y="36.18" width="2.9" height="6.08" fill="#040314"/>
<rect x="408.3" y="36.18" width="2.9" height="6.08" fill="#390963"/>
<rect x="410.3" y="36.18" width="2.9" height="6.08" fill="#61136e"/>
<rect x="412.3" y="36.18" width="2" height="6.08" fill="#982766"/>
<rect x="274.3" y="31.01" width="2.9" height="6.08" fill="#000004"/>
<rect x="276.3" y="31.01" width="2.9" height="6.08" fill="#470b6a"/>
<rect x="278.3" y="31.01" width="2.9" height="6.08" fill="#982766"/>
<rect x="280.3" y="31.01" width="2.9" height="6.08" fill="#cc4248"/>
<rect x="282.3" y="31.01" width="2.9" height="6.08" fill="#f78410"/>
<rect x="284.3" y="31.01" width="2.9" height="6.08" fill="#f9c932"/>
<rect x="286.3" y="31.01" width="2.9" height="6.08" fill="#fb9b06"/>
<rect x="288.3" y="31.01" width="2.9" height="6.08" fill="#fa9207"/>
<rect x="290.3" y="31.01" width="2.9" height="6.08" fill="#a22b62"/>
<rect x="292.3" y="31.01" width="2.9" height="6.08" fill="#280b53"/>
<rect x="294.3" y="31.01" width="2.9" height="6.08" fill="#000004"/>
<rect x="296.3" y="31.01" width="2.9" height="6.08" fill="#060419"/>
<rect x="298.3" y="31.01" width="2.9" height="6.08" fill="#000004"/>
<rect x="300.3" y="31.01" width="2.9" height="6.08" fill="#400a67"/>
<rect x="302.3" y="31.01" width="2.9" height="6.08" fill="#922568"/>
<rect x="304.3" y="31.01" width="2.9" height="6.08" fill="#f1711f"/>
<rect x="306.3" y="31.01" width="2.9" height="6.08" fill="#fca80d"/>
<rect x="308.3" y="31.01" width="2.9" height="6.08" fill="#fcb418"/>
<rect x="310.3" y="31.01" width="2.9" height="6.08" fill="#fbbc21"/>
<rect x="312.3" y="31.01" width="2.9" height="6.08" fill="#ef6e21"/>
<rect x="314.3" y="31.01" width="2.9" height="6.08" fill="#c13a50"/>
<rect x="316.3" y="31.01" width="2.9" height="6.08" fill="#510e6c"/>
<rect x="318.3" y="31.01" width="2.9" height="6.08" fill="#360961"/>
<rect x="320.3" y="31.01" width="2.9" height="6.08" fill="#000004"/>
<rect x="322.3" y="31.01" width="2.9" height="6.08" fill="#02020c"/>
<rect x="324.3" y="31.01" width="2.9" height="6.08" fill="#140b34"/>
<rect x="326.3" y="31.01" width="2.9" height="6.08" fill="#781c6d"/>
<rect x="328.3" y="31.01" width="2.9" height="6.08" fill="#cb4149"/>
<rect x="330.3" y="31.01" width="2.9" height="6.08" fill="#f8850f"/>
<rect x="332.3" y="31.01" width="2.9" height="6.08" fill="#fac62d"/>
<rect x="334.3" y="31.01" width="2.9" height="6.08" fill="#fb9606"/>
<rect x="336.3" y="31.01" width="2.9" height="6.08" fill="#e55c30"/>
<rect x="338.3" y="31.01" width="2.9" height="6.08" fill="#ce4347"/>
<rect x="340.3" y="31.01" width="2.9" height="6.08" fill="#5a116e"/>
<rect x="342.3" y="31.01" width="2.9" height="6.08" fill="#09061f"/>
<rect x="344.3" y="31.01" width="2.9" height="6.08" fill="#0a0722"/>
<rect x="346.3" y="31.01" width="2.9" height="6.08" fill="#060419"/>
<rect x="348.3" y="31.01" width="2.9" height="6.08" fill="#000004"/>
<rect x="350.3" y="31.01" width="2.9" height="6.08" fill="#5c126e"/>
<rect x="352.3" y="31.01" width="2.9" height="6.08" fill="#c83f4b"/>
<rect x="354.3" y="31.01" width="2.9" height="6.08" fill="#f67e14"/>
<rect x="356.3" y="31.01" width="2.9" height="6.08" fill="#f98b0b"/>
<rect x="358.3" y="31.01" width="2.9" height="6.08" fill="#fac62d"/>
<rect x="360.3" y="31.01" width="2.9" height="6.08" fill="#e65d2f"/>
<rect x="362.3" y="31.01" width="2.9" height="6.08" fill="#b93556"/>
<rect x="364.3" y="31.01" width="2.9" height="6.08" fill="#71196e"/>
<rect x="366.3" y="31.01" width="2.9" height="6.08" fill="#210c4a"/>
<rect x="368.3" y="31.01" width="2.9" height="6.08" fill="#0b0724"/>
<rect x="370.3" y="31.01" width="2.9" height="6.08" fill="#0a0722"/>
<rect x="372.3" y="31.01" width="2.9" height="6.08" fill="#110a30"/>
<rect x="374.3" y="31.01" width="2.9" height="6.08" fill="#771c6d"/>
<rect x="376.3" y="31.01" width="2.9" height="6.08" fill="#952667"/>
<rect x="378.3" y="31.01" width="2.9" height="6.08" fill="#df5337"/>
<rect x="380.3" y="31.01" width="2.9" height="6.08" fill="#fcb418"/>
<rect x="382.3" y="31.01" width="2.9" height="6.08" fill="#fa9207"/>
<rect x="384.3" y="31.01" width="2.9" height="6.08" fill="#f8870e"/>
<rect x="386.3" y="31.01" width="2.9" height="6.08" fill="#ba3655"/>
<rect x="388.3" y="31.01" width="2.9" height="6.08" fill="#721a6e"/>
<rect x="390.3" y="31.01" width="2.9" height="6.08" fill="#2b0b57"/>
<rect x="392.3" y="31.01" width="2.9" height="6.08" fill="#07051b"/>
<rect x="394.3" y="31.01" width="2.9" height="6.08" fill="#000004"/>
<rect x="396.3" y="31.01" width="2.9" height="6.08" fill="#0e092b"/>
<rect x="398.3" y="31.01" width="2.9" height="6.08" fill="#59106e"/>
<rect x="400.3" y="31.01" width="2.9" height="6.08" fill="#ae305c"/>
<rect x="402.3" y="31.01" width="2.9" height="6.08" fill="#d54a41"/>
<rect x="404.3" y="31.01" width="2.9" height="6.08" fill="#f78410"/>
<rect x="406.3" y="31.01" width="2.9" height="6.08" fill="#fb9b06"/>
<rect x="408.3" y="31.01" width="2.9" height="6.08" fill="#df5337"/>
<rect x="410.3" y="31.01" width="2.9" height="6.08" fill="#a52c60"/>
<rect x="412.3" y="31.01" width="2" height="6.08" fill="#a82e5f"/>
<rect x="274.3" y="25.83" width="2.9" height="6.08" fill="#140b34"/>
<rect x="276.3" y="25.83" width="2.9" height="6.08" fill="#470b6a"/>
<rect x="278.3" y="25.83" width="2.9" height="6.08" fill="#b43359"/>
<rect x="280.3" y="25.83" width="2.9" height="6.08" fill="#e9612b"/>
<rect x="282.3" y="25.83" width="2.9" height="6.08" fill="#fb9b06"/>
<rect x="284.3" y="25.83" width="2.9" height="6.08" fill="#f5db4c"/>
<rect x="286.3" y="25.83" width="2.9" height="6.08" fill="#f47918"/>
<rect x="288.3" y="25.83" width="2.9" height="6.08" fill="#e65d2f"/>
<rect x="290.3" y="25.83" width="2.9" height="6.08" fill="#69166e"/>
<rect x="292.3" y="25.83" width="2.9" height="6.08" fill="#210c4a"/>
<rect x="294.3" y="25.83" width="2.9" height="6.08" fill="#110a30"/>
<rect x="296.3" y="25.83" width="2.9" height="6.08" fill="#0e092b"/>
<rect x="298.3" y="25.83" width="2.9" height="6.08" fill="#0d0829"/>
<rect x="300.3" y="25.83" width="2.9" height="6.08" fill="#82206c"/>
<rect x="302.3" y="25.83" width="2.9" height="6.08" fill="#b43359"/>
<rect x="304.3" y="25.83" width="2.9" height="6.08" fill="#f57d15"/>
<rect x="306.3" y="25.83" width="2.9" height="6.08" fill="#f9c932"/>
<rect x="308.3" y="25.83" width="2.9" height="6.08" fill="#f4dd4f"/>
<rect x="310.3" y="25.83" width="2.9" height="6.08" fill="#ec6726"/>
<rect x="312.3" y="25.83" width="2.9" height="6.08" fill="#bf3952"/>
<rect x="314.3" y="25.83" width="2.9" height="6.08" fill="#550f6d"/>
<rect x="316.3" y="25.83" width="2.9" height="6.08" fill="#000004"/>
<rect x="318.3" y="25.83" width="2.9" height="6.08" fill="#000004"/>
<rect x="320.3" y="25.83" width="2.9" height="6.08" fill="#150b37"/>
<rect x="322.3" y="25.83" width="2.9" height="6.08" fill="#2d0b59"/>
<rect x="324.3" y="25.83" width="2.9" height="6.08" fill="#972766"/>
<rect x="326.3" y="25.83" width="2.9" height="6.08" fill="#ea632a"/>
<rect x="328.3" y="25.83" width="2.9" height="6.08" fill="#f78410"/>
<rect x="330.3" y="25.83" width="2.9" height="6.08" fill="#f6d746"/>
<rect x="332.3" y="25.83" width="2.9" height="6.08" fill="#fac026"/>
<rect x="334.3" y="25.83" width="2.9" height="6.08" fill="#f1731d"/>
<rect x="336.3" y="25.83" width="2.9" height="6.08" fill="#a92e5e"/>
<rect x="338.3" y="25.83" width="2.9" height="6.08" fill="#260c51"/>
<rect x="340.3" y="25.83" width="2.9" height="6.08" fill="#000004"/>
<rect x="342.3" y="25.83" width="2.9" height="6.08" fill="#000004"/>
<rect x="344.3" y="25.83" width="2.9" height="6.08" fill="#010106"/>
<rect x="346.3" y="25.83" width="2.9" height="6.08" fill="#3e0966"/>
<rect x="348.3" y="25.83" width="2.9" height="6.08" fill="#bf3952"/>
<rect x="350.3" y="25.83" width="2.9" height="6.08" fill="#f8870e"/>
<rect x="352.3" y="25.83" width="2.9" height="6.08" fill="#f8870e"/>
<rect x="354.3" y="25.83" width="2.9" height="6.08" fill="#fbb61a"/>
<rect x="356.3" y="25.83" width="2.9" height="6.08" fill="#e15635"/>
<rect x="358.3" y="25.83" width="2.9" height="6.08" fill="#b63458"/>
<rect x="360.3" y="25.83" width="2.9" height="6.08" fill="#4f0d6c"/>
<rect x="362.3" y="25.83" width="2.9" height="6.08" fill="#010108"/>
<rect x="364.3" y="25.83" width="2.9" height="6.08" fill="#010005"/>
<rect x="366.3" y="25.83" width="2.9" height="6.08" fill="#010108"/>
<rect x="368.3" y="25.83" width="2.9" height="6.08" fill="#160b39"/>
<rect x="370.3" y="25.83" width="2.9" height="6.08" fill="#62146e"/>
<rect x="372.3" y="25.83" width="2.9" height="6.08" fill="#ab2f5e"/>
<rect x="374.3" y="25.83" width="2.9" height="6.08" fill="#ef6c23"/>
<rect x="376.3" y="25.83" width="2.9" height="6.08" fill="#f78410"/>
<rect x="378.3" y="25.83" width="2.9" height="6.08" fill="#f98c0a"/>
<rect x="380.3" y="25.83" width="2.9" height="6.08" fill="#c73e4c"/>
<rect x="382.3" y="25.83" width="2.9" height="6.08" fill="#9d2964"/>
<rect x="384.3" y="25.83" width="2.9" height="6.08" fill="#520e6d"/>
<rect x="386.3" y="25.83" width="2.9" height="6.08" fill="#240c4f"/>
<rect x="388.3" y="25.83" width="2.9" height="6.08" fill="#0b0724"/>
<rect x="390.3" y="25.83" width="2.9" height="6.08" fill="#0a0722"/>
<rect x="392.3" y="25.83" width="2.9" height="6.08" fill="#2b0b57"/>
<rect x="394.3" y="25.83" width="2.9" height="6.08" fill="#61136e"/>
<rect x="396.3" y="25.83" width="2.9" height="6.08" fill="#d24644"/>
<rect x="398.3" y="25.83" width="2.9" height="6.08" fill="#fb9b06"/>
<rect x="400.3" y="25.83" width="2.9" height="6.08" fill="#fcb418"/>
<rect x="402.3" y="25.83" width="2.9" height="6.08" fill="#c33b4f"/>
<rect x="404.3" y="25.83" width="2.9" height="6.08" fill="#b1325a"/>
<rect x="406.3" y="25.83" width="2.9" height="6.08" fill="#6d186e"/>
<rect x="408.3" y="25.83" width="2.9" height="6.08" fill="#120a32"/>
<rect x="410.3" y="25.83" width="2.9" height="6.08" fill="#060419"/>
<rect x="412.3" y="25.83" width="2" height="6.08" fill="#02010a"/>
<rect x="274.3" y="20.65" width="2.9" height="6.08" fill="#000004"/>
<rect x="276.3" y="20.65" width="2.9" height="6.08" fill="#4f0d6c"/>
<rect x="278.3" y="20.65" width="2.9" height="6.08" fill="#982766"/>
<rect x="280.3" y="20.65" width="2.9" height="6.08" fill="#f1731d"/>
<rect x="282.3" y="20.65" width="2.9" height="6.08" fill="#fcb418"/>
<rect x="284.3" y="20.65" width="2.9" height="6.08" fill="#f3e35a"/>
<rect x="286.3" y="20.65" width="2.9" height="6.08" fill="#e35933"/>
<rect x="288.3" y="20.65" width="2.9" height="6.08" fill="#ab2f5e"/>
<rect x="290.3" y="20.65" width="2.9" height="6.08" fill="#59106e"/>
<rect x="292.3" y="20.65" width="2.9" height="6.08" fill="#010108"/>
<rect x="294.3" y="20.65" width="2.9" height="6.08" fill="#000004"/>
<rect x="296.3" y="20.65" width="2.9" height="6.08" fill="#000004"/>
<rect x="298.3" y="20.65" width="2.9" height="6.08" fill="#59106e"/>
<rect x="300.3" y="20.65" width="2.9" height="6.08" fill="#c83f4b"/>
<rect x="302.3" y="20.65" width="2.9" height="6.08" fill="#fbbc21"/>
<rect x="304.3" y="20.65" width="2.9" height="6.08" fill="#f7d13d"/>
<rect x="306.3" y="20.65" width="2.9" height="6.08" fill="#f3e35a"/>
<rect x="308.3" y="20.65" width="2.9" height="6.08" fill="#f3761b"/>
<rect x="310.3" y="20.65" width="2.9" height="6.08" fill="#b0315b"/>
<rect x="312.3" y="20.65" width="2.9" height="6.08" fill="#6d186e"/>
<rect x="314.3" y="20.65" width="2.9" height="6.08" fill="#0b0724"/>
<rect x="316.3" y="20.65" width="2.9" height="6.08" fill="#060419"/>
<rect x="318.3" y="20.65" width="2.9" height="6.08" fill="#10092d"/>
<rect x="320.3" y="20.65" width="2.9" height="6.08" fill="#7f1e6c"/>
<rect x="322.3" y="20.65" width="2.9" height="6.08" fill="#df5337"/>
<rect x="324.3" y="20.65" width="2.9" height="6.08" fill="#e8602d"/>
<rect x="326.3" y="20.65" width="2.9" height="6.08" fill="#f3e35a"/>
<rect x="328.3" y="20.65" width="2.9" height="6.08" fill="#fbb81d"/>
<rect x="330.3" y="20.65" width="2.9" height="6.08" fill="#f47918"/>
<rect x="332.3" y="20.65" width="2.9" height="6.08" fill="#a82e5f"/>
<rect x="334.3" y="20.65" width="2.9" height="6.08" fill="#5a116e"/>
<rect x="336.3" y="20.65" width="2.9" height="6.08" fill="#000004"/>
<rect x="338.3" y="20.65" width="2.9" height="6.08" fill="#000004"/>
<rect x="340.3" y="20.65" width="2.9" height="6.08" fill="#000004"/>
<rect x="342.3" y="20.65" width="2.9" height="6.08" fill="#520e6d"/>
<rect x="344.3" y="20.65" width="2.9" height="6.08" fill="#bf3952"/>
<rect x="346.3" y="20.65" width="2.9" height="6.08" fill="#f57b17"/>
<rect x="348.3" y="20.65" width="2.9" height="6.08" fill="#fcaa0f"/>
<rect x="350.3" y="20.65" width="2.9" height="6.08" fill="#f98e09"/>
<rect x="352.3" y="20.65" width="2.9" height="6.08" fill="#cf4446"/>
<rect x="354.3" y="20.65" width="2.9" height="6.08" fill="#b1325a"/>
<rect x="356.3" y="20.65" width="2.9" height="6.08" fill="#4f0d6c"/>
<rect x="358.3" y="20.65" width="2.9" height="6.08" fill="#0d0829"/>
<rect x="360.3" y="20.65" width="2.9" height="6.08" fill="#0c0826"/>
<rect x="362.3" y="20.65" width="2.9" height="6.08" fill="#050417"/>
<rect x="364.3" y="20.65" width="2.9" height="6.08" fill="#450a69"/>
<rect x="366.3" y="20.65" width="2.9" height="6.08" fill="#6d186e"/>
<rect x="368.3" y="20.65" width="2.9" height="6.08" fill="#ef6c23"/>
<rect x="370.3" y="20.65" width="2.9" height="6.08" fill="#fa9008"/>
<rect x="372.3" y="20.65" width="2.9" height="6.08" fill="#f67e14"/>
<rect x="374.3" y="20.65" width="2.9" height="6.08" fill="#ec6726"/>
<rect x="376.3" y="20.65" width="2.9" height="6.08" fill="#8c2369"/>
<rect x="378.3" y="20.65" width="2.9" height="6.08" fill="#3e0966"/>
<rect x="380.3" y="20.65" width="2.9" height="6.08" fill="#360961"/>
<rect x="382.3" y="20.65" width="2.9" height="6.08" fill="#050417"/>
<rect x="384.3" y="20.65" width="2.9" height="6.08" fill="#1b0c41"/>
<rect x="386.3" y="20.65" width="2.9" height="6.08" fill="#5a116e"/>
<rect x="388.3" y="20.65" width="2.9" height="6.08" fill="#ad305d"/>
<rect x="390.3" y="20.65" width="2.9" height="6.08" fill="#e45a31"/>
<rect x="392.3" y="20.65" width="2.9" height="6.08" fill="#fac62d"/>
<rect x="394.3" y="20.65" width="2.9" height="6.08" fill="#f78410"/>
<rect x="396.3" y="20.65" width="2.9" height="6.08" fill="#ec6726"/>
<rect x="398.3" y="20.65" width="2.9" height="6.08" fill="#9b2964"/>
<rect x="400.3" y="20.65" width="2.9" height="6.08" fill="#440a68"/>
<rect x="402.3" y="20.65" width="2.9" height="6.08" fill="#000004"/>
<rect x="404.3" y="20.65" width="2.9" height="6.08" fill="#000004"/>
<rect x="406.3" y="20.65" width="2.9" height="6.08" fill="#2b0b57"/>
<rect x="408.3" y="20.65" width="2.9" height="6.08" fill="#69166e"/>
<rect x="410.3" y="20.65" width="2.9" height="6.08" fill="#8d2369"/>
<rect x="412.3" y="20.65" width="2" height="6.08" fill="#da4e3c"/>
<rect x="274.3" y="15.48" width="2.9" height="6.08" fill="#0c0826"/>
<rect x="276.3" y="15.48" width="2.9" height="6.08" fill="#420a68"/>
<rect x="278.3" y="15.48" width="2.9" height="6.08" fill="#e8602d"/>
<rect x="280.3" y="15.48" width="2.9" height="6.08" fill="#f67e14"/>
<rect x="282.3" y="15.48" width="2.9" height="6.08" fill="#fbbe23"/>
<rect x="284.3" y="15.48" width="2.9" height="6.08" fill="#f1711f"/>
<rect x="286.3" y="15.48" width="2.9" height="6.08" fill="#f8890c"/>
<rect x="288.3" y="15.48" width="2.9" height="6.08" fill="#8d2369"/>
<rect x="290.3" y="15.48" width="2.9" height="6.08" fill="#490b6a"/>
<rect x="292.3" y="15.48" width="2.9" height="6.08" fill="#000004"/>
<rect x="294.3" y="15.48" width="2.9" height="6.08" fill="#000004"/>
<rect x="296.3" y="15.48" width="2.9" height="6.08" fill="#210c4a"/>
<rect x="298.3" y="15.48" width="2.9" height="6.08" fill="#8d2369"/>
<rect x="300.3" y="15.48" width="2.9" height="6.08" fill="#fa9008"/>
<rect x="302.3" y="15.48" width="2.9" height="6.08" fill="#f1ef75"/>
<rect x="304.3" y="15.48" width="2.9" height="6.08" fill="#f1ec6d"/>
<rect x="306.3" y="15.48" width="2.9" height="6.08" fill="#f78410"/>
<rect x="308.3" y="15.48" width="2.9" height="6.08" fill="#d54a41"/>
<rect x="310.3" y="15.48" width="2.9" height="6.08" fill="#7a1d6d"/>
<rect x="312.3" y="15.48" width="2.9" height="6.08" fill="#10092d"/>
<rect x="314.3" y="15.48" width="2.9" height="6.08" fill="#000004"/>
<rect x="316.3" y="15.48" width="2.9" height="6.08" fill="#09061f"/>
<rect x="318.3" y="15.48" width="2.9" height="6.08" fill="#360961"/>
<rect x="320.3" y="15.48" width="2.9" height="6.08" fill="#b93556"/>
<rect x="322.3" y="15.48" width="2.9" height="6.08" fill="#fca50a"/>
<rect x="324.3" y="15.48" width="2.9" height="6.08" fill="#fb9706"/>
<rect x="326.3" y="15.48" width="2.9" height="6.08" fill="#fca80d"/>
<rect x="328.3" y="15.48" width="2.9" height="6.08" fill="#f1731d"/>
<rect x="330.3" y="15.48" width="2.9" height="6.08" fill="#721a6e"/>
<rect x="332.3" y="15.48" width="2.9" height="6.08" fill="#2b0b57"/>
<rect x="334.3" y="15.48" width="2.9" height="6.08" fill="#000004"/>
<rect x="336.3" y="15.48" width="2.9" height="6.08" fill="#000004"/>
<rect x="338.3" y="15.48" width="2.9" height="6.08" fill="#02020e"/>
<rect x="340.3" y="15.48" width="2.9" height="6.08" fill="#61136e"/>
<rect x="342.3" y="15.48" width="2.9" height="6.08" fill="#ca404a"/>
<rect x="344.3" y="15.48" width="2.9" height="6.08" fill="#f8870e"/>
<rect x="346.3" y="15.48" width="2.9" height="6.08" fill="#fca309"/>
<rect x="348.3" y="15.48" width="2.9" height="6.08" fill="#d84c3e"/>
<rect x="350.3" y="15.48" width="2.9" height="6.08" fill="#e15635"/>
<rect x="352.3" y="15.48" width="2.9" height="6.08" fill="#5d126e"/>
<rect x="354.3" y="15.48" width="2.9" height="6.08" fill="#02010a"/>
<rect x="356.3" y="15.48" width="2.9" height="6.08" fill="#000004"/>
<rect x="358.3" y="15.48" width="2.9" height="6.08" fill="#07051b"/>
<rect x="360.3" y="15.48" width="2.9" height="6.08" fill="#260c51"/>
<rect x="362.3" y="15.48" width="2.9" height="6.08" fill="#932667"/>
<rect x="364.3" y="15.48" width="2.9" height="6.08" fill="#e05536"/>
<rect x="366.3" y="15.48" width="2.9" height="6.08" fill="#fca50a"/>
<rect x="368.3" y="15.48" width="2.9" height="6.08" fill="#f67e14"/>
<rect x="370.3" y="15.48" width="2.9" height="6.08" fill="#ea632a"/>
<rect x="372.3" y="15.48" width="2.9" height="6.08" fill="#a02a63"/>
<rect x="374.3" y="15.48" width="2.9" height="6.08" fill="#380962"/>
<rect x="376.3" y="15.48" width="2.9" height="6.08" fill="#180c3c"/>
<rect x="378.3" y="15.48" width="2.9" height="6.08" fill="#000004"/>
<rect x="380.3" y="15.48" width="2.9" height="6.08" fill="#02020e"/>
<rect x="382.3" y="15.48" width="2.9" height="6.08" fill="#6d186e"/>
<rect x="384.3" y="15.48" width="2.9" height="6.08" fill="#c13a50"/>
<rect x="386.3" y="15.48" width="2.9" height="6.08" fill="#f1711f"/>
<rect x="388.3" y="15.48" width="2.9" height="6.08" fill="#fb9606"/>
<rect x="390.3" y="15.48" width="2.9" height="6.08" fill="#fcb216"/>
<rect x="392.3" y="15.48" width="2.9" height="6.08" fill="#c83f4b"/>
<rect x="394.3" y="15.48" width="2.9" height="6.08" fill="#771c6d"/>
<rect x="396.3" y="15.48" width="2.9" height="6.08" fill="#150b37"/>
<rect x="398.3" y="15.48" width="2.9" height="6.08" fill="#110a30"/>
<rect x="400.3" y="15.48" width="2.9" height="6.08" fill="#030210"/>
<rect x="402.3" y="15.48" width="2.9" height="6.08" fill="#1f0c48"/>
<rect x="404.3" y="15.48" width="2.9" height="6.08" fill="#6d186e"/>
<rect x="406.3" y="15.48" width="2.9" height="6.08" fill="#df5337"/>
<rect x="408.3" y="15.48" width="2.9" height="6.08" fill="#f98c0a"/>
<rect x="410.3" y="15.48" width="2.9" height="6.08" fill="#e45a31"/>
<rect x="412.3" y="15.48" width="2" height="6.08" fill="#d34743"/>
<rect x="274.3" y="10.3" width="2.9" height="6.08" fill="#0e092b"/>
<rect x="276.3" y="10.3" width="2.9" height="6.08" fill="#7a1d6d"/>
<rect x="278.3" y="10.3" width="2.9" height="6.08" fill="#ba3655"/>
<rect x="280.3" y="10.3" width="2.9" height="6.08" fill="#fb9d07"/>
<rect x="282.3" y="10.3" width="2.9" height="6.08" fill="#f1ec6d"/>
<rect x="284.3" y="10.3" width="2.9" height="6.08" fill="#fb9b06"/>
<rect x="286.3" y="10.3" width="2.9" height="6.08" fill="#ce4347"/>
<rect x="288.3" y="10.3" width="2.9" height="6.08" fill="#59106e"/>
<rect x="290.3" y="10.3" width="2.9" height="6.08" fill="#000004"/>
<rect x="292.3" y="10.3" width="2.9" height="6.08" fill="#000004"/>
<rect x="294.3" y="10.3" width="2.9" height="6.08" fill="#040314"/>
<rect x="296.3" y="10.3" width="2.9" height="6.08" fill="#2f0a5b"/>
<rect x="298.3" y="10.3" width="2.9" height="6.08" fill="#c43c4e"/>
<rect x="300.3" y="10.3" width="2.9" height="6.08" fill="#fcb014"/>
<rect x="302.3" y="10.3" width="2.9" height="6.08" fill="#f9cb35"/>
<rect x="304.3" y="10.3" width="2.9" height="6.08" fill="#fac42a"/>
<rect x="306.3" y="10.3" width="2.9" height="6.08" fill="#d34743"/>
<rect x="308.3" y="10.3" width="2.9" height="6.08" fill="#952667"/>
<rect x="310.3" y="10.3" width="2.9" height="6.08" fill="#040314"/>
<rect x="312.3" y="10.3" width="2.9" height="6.08" fill="#0d0829"/>
<rect x="314.3" y="10.3" width="2.9" height="6.08" fill="#000004"/>
<rect x="316.3" y="10.3" width="2.9" height="6.08" fill="#2f0a5b"/>
<rect x="318.3" y="10.3" width="2.9" height="6.08" fill="#9a2865"/>
<rect x="320.3" y="10.3" width="2.9" height="6.08" fill="#f06f20"/>
<rect x="322.3" y="10.3" width="2.9" height="6.08" fill="#fca60c"/>
<rect x="324.3" y="10.3" width="2.9" height="6.08" fill="#fa9207"/>
<rect x="326.3" y="10.3" width="2.9" height="6.08" fill="#dd513a"/>
<rect x="328.3" y="10.3" width="2.9" height="6.08" fill="#922568"/>
<rect x="330.3" y="10.3" width="2.9" height="6.08" fill="#340a5f"/>
<rect x="332.3" y="10.3" width="2.9" height="6.08" fill="#000004"/>
<rect x="334.3" y="10.3" width="2.9" height="6.08" fill="#0d0829"/>
<rect x="336.3" y="10.3" width="2.9" height="6.08" fill="#1b0c41"/>
<rect x="338.3" y="10.3" width="2.9" height="6.08" fill="#82206c"/>
<rect x="340.3" y="10.3" width="2.9" height="6.08" fill="#da4e3c"/>
<rect x="342.3" y="10.3" width="2.9" height="6.08" fill="#fbb61a"/>
<rect x="344.3" y="10.3" width="2.9" height="6.08" fill="#f3761b"/>
<rect x="346.3" y="10.3" width="2.9" height="6.08" fill="#ce4347"/>
<rect x="348.3" y="10.3" width="2.9" height="6.08" fill="#ad305d"/>
<rect x="350.3" y="10.3" width="2.9" height="6.08" fill="#550f6d"/>
<rect x="352.3" y="10.3" width="2.9" height="6.08" fill="#10092d"/>
<rect x="354.3" y="10.3" width="2.9" height="6.08" fill="#000004"/>
<rect x="356.3" y="10.3" width="2.9" height="6.08" fill="#260c51"/>
<rect x="358.3" y="10.3" width="2.9" height="6.08" fill="#9b2964"/>
<rect x="360.3" y="10.3" width="2.9" height="6.08" fill="#e15635"/>
<rect x="362.3" y="10.3" width="2.9" height="6.08" fill="#ed6925"/>
<rect x="364.3" y="10.3" width="2.9" height="6.08" fill="#fa9008"/>
<rect x="366.3" y="10.3" width="2.9" height="6.08" fill="#cb4149"/>
<rect x="368.3" y="10.3" width="2.9" height="6.08" fill="#7d1e6d"/>
<rect x="370.3" y="10.3" width="2.9" height="6.08" fill="#6d186e"/>
<rect x="372.3" y="10.3" width="2.9" height="6.08" fill="#0a0722"/>
<rect x="374.3" y="10.3" width="2.9" height="6.08" fill="#000004"/>
<rect x="376.3" y="10.3" width="2.9" height="6.08" fill="#030210"/>
<rect x="378.3" y="10.3" width="2.9" height="6.08" fill="#801f6c"/>
<rect x="380.3" y="10.3" width="2.9" height="6.08" fill="#c43c4e"/>
<rect x="382.3" y="10.3" width="2.9" height="6.08" fill="#fa9008"/>
<rect x="384.3" y="10.3" width="2.9" height="6.08" fill="#f67e14"/>
<rect x="386.3" y="10.3" width="2.9" height="6.08" fill="#e75e2e"/>
<rect x="388.3" y="10.3" width="2.9" height="6.08" fill="#a92e5e"/>
<rect x="390.3" y="10.3" width="2.9" height="6.08" fill="#2b0b57"/>
<rect x="392.3" y="10.3" width="2.9" height="6.08" fill="#000004"/>
<rect x="394.3" y="10.3" width="2.9" height="6.08" fill="#000004"/>
<rect x="396.3" y="10.3" width="2.9" height="6.08" fill="#08051d"/>
<rect x="398.3" y="10.3" width="2.9" height="6.08" fill="#61136e"/>
<rect x="400.3" y="10.3" width="2.9" height="6.08" fill="#bf3952"/>
<rect x="402.3" y="10.3" width="2.9" height="6.08" fill="#ef6e21"/>
<rect x="404.3" y="10.3" width="2.9" height="6.08" fill="#fa9407"/>
<rect x="406.3" y="10.3" width="2.9" height="6.08" fill="#dd513a"/>
<rect x="408.3" y="10.3" width="2.9" height="6.08" fill="#ca404a"/>
<rect x="410.3" y="10.3" width="2.9" height="6.08" fill="#801f6c"/>
<rect x="412.3" y="10.3" width="2" height="6.08" fill="#120a32"/>
<rect x="274.3" y="10.3" width="140" height="134.6" fill="none" stroke="#000" stroke-width="1.0"/>
<line x1="270.8" y1="127.5" x2="274.3" y2="127.5" stroke="#000" stroke-width="0.9" />
<text x="266.2" y="131.7" font-size="10.0" text-anchor="end" textLength="12.37" lengthAdjust="spacingAndGlyphs" >12</text>
<line x1="270.8" y1="106.5" x2="274.3" y2="106.5" stroke="#000" stroke-width="0.9" />
<text x="266.2" y="111.02" font-size="10.0" text-anchor="end" textLength="12.37" lengthAdjust="spacingAndGlyphs" >14</text>
<line x1="270.8" y1="85.5" x2="274.3" y2="85.5" stroke="#000" stroke-width="0.9" />
<text x="266.2" y="90.34" font-size="10.0" text-anchor="end" textLength="12.37" lengthAdjust="spacingAndGlyphs" >16</text>
<line x1="270.8" y1="65.5" x2="274.3" y2="65.5" stroke="#000" stroke-width="0.9" />
<text x="266.2" y="69.66" font-size="10.0" text-anchor="end" textLength="12.37" lengthAdjust="spacingAndGlyphs" >18</text>
<line x1="270.8" y1="44.5" x2="274.3" y2="44.5" stroke="#000" stroke-width="0.9" />
<text x="266.2" y="48.98" font-size="10.0" text-anchor="end" textLength="12.37" lengthAdjust="spacingAndGlyphs" >20</text>
<line x1="270.8" y1="23.5" x2="274.3" y2="23.5" stroke="#000" stroke-width="0.9" />
<text x="266.2" y="28.3" font-size="10.0" text-anchor="end" textLength="12.37" lengthAdjust="spacingAndGlyphs" >22</text>
<line x1="274.5" y1="144.9" x2="274.5" y2="148.4" stroke="#000" stroke-width="0.9" />
<text x="274.4" y="160.8" font-size="10.0" text-anchor="middle" textLength="15.46" lengthAdjust="spacingAndGlyphs" >0.0</text>
<line x1="302.5" y1="144.9" x2="302.5" y2="148.4" stroke="#000" stroke-width="0.9" />
<text x="302.15" y="160.8" font-size="10.0" text-anchor="middle" textLength="15.46" lengthAdjust="spacingAndGlyphs" >0.3</text>
<line x1="329.5" y1="144.9" x2="329.5" y2="148.4" stroke="#000" stroke-width="0.9" />
<text x="329.9" y="160.8" font-size="10.0" text-anchor="middle" textLength="15.46" lengthAdjust="spacingAndGlyphs" >0.6</text>
<line x1="357.5" y1="144.9" x2="357.5" y2="148.4" stroke="#000" stroke-width="0.9" />
<text x="357.65" y="160.8" font-size="10.0" text-anchor="middle" textLength="15.46" lengthAdjust="spacingAndGlyphs" >0.9</text>
<line x1="385.5" y1="144.9" x2="385.5" y2="148.4" stroke="#000" stroke-width="0.9" />
<text x="385.4" y="160.8" font-size="10.0" text-anchor="middle" textLength="15.46" lengthAdjust="spacingAndGlyphs" >1.2</text>
<line x1="413.5" y1="144.9" x2="413.5" y2="148.4" stroke="#000" stroke-width="0.9" />
<text x="413.15" y="160.8" font-size="10.0" text-anchor="middle" textLength="15.46" lengthAdjust="spacingAndGlyphs" >1.5</text>
<text x="344" y="174.5" font-size="10.0" text-anchor="middle" textLength="79.55" lengthAdjust="spacingAndGlyphs" >Pulse length (µs)</text>
<text transform="translate(247.5,77.4) rotate(-90)" font-size="10.0" text-anchor="middle" textLength="60.81" lengthAdjust="spacingAndGlyphs">Power (dBm)</text>
<defs><linearGradient id="inf" x1="0" y1="1" x2="0" y2="0">
<stop offset="0.0000" stop-color="#000004"/>
<stop offset="0.0312" stop-color="#040312"/>
<stop offset="0.0625" stop-color="#0b0724"/>
<stop offset="0.0938" stop-color="#150b37"/>
<stop offset="0.1250" stop-color="#210c4a"/>
<stop offset="0.1562" stop-color="#2f0a5b"/>
<stop offset="0.1875" stop-color="#3d0965"/>
<stop offset="0.2188" stop-color="#4a0c6b"/>
<stop offset="0.2500" stop-color="#57106e"/>
<stop offset="0.2812" stop-color="#64156e"/>
<stop offset="0.3125" stop-color="#71196e"/>
<stop offset="0.3438" stop-color="#7d1e6d"/>
<stop offset="0.3750" stop-color="#8a226a"/>
<stop offset="0.4062" stop-color="#972766"/>
<stop offset="0.4375" stop-color="#a32c61"/>
<stop offset="0.4688" stop-color="#b0315b"/>
<stop offset="0.5000" stop-color="#bc3754"/>
<stop offset="0.5312" stop-color="#c73e4c"/>
<stop offset="0.5625" stop-color="#d24644"/>
<stop offset="0.5938" stop-color="#db503b"/>
<stop offset="0.6250" stop-color="#e45a31"/>
<stop offset="0.6562" stop-color="#eb6628"/>
<stop offset="0.6875" stop-color="#f1731d"/>
<stop offset="0.7188" stop-color="#f68013"/>
<stop offset="0.7500" stop-color="#f98e09"/>
<stop offset="0.7812" stop-color="#fb9d07"/>
<stop offset="0.8125" stop-color="#fcac11"/>
<stop offset="0.8438" stop-color="#fbbc21"/>
<stop offset="0.8750" stop-color="#f9cb35"/>
<stop offset="0.9062" stop-color="#f5db4c"/>
<stop offset="0.9375" stop-color="#f2ea69"/>
<stop offset="0.9688" stop-color="#f3f68a"/>
<stop offset="1.0000" stop-color="#fcffa4"/>
</linearGradient></defs>
<rect x="422.7" y="10.4" width="7.9" height="134.6" fill="url(#inf)" stroke="#000" stroke-width="0.9"/>
<line x1="430.6" y1="121.6" x2="434.1" y2="121.6" stroke="#000" stroke-width="0.9" />
<text x="437.9" y="126.1" font-size="10.0" text-anchor="start" textLength="15.46" lengthAdjust="spacingAndGlyphs" >0.2</text>
<line x1="430.6" y1="87.16" x2="434.1" y2="87.16" stroke="#000" stroke-width="0.9" />
<text x="437.9" y="91.66" font-size="10.0" text-anchor="start" textLength="15.46" lengthAdjust="spacingAndGlyphs" >0.4</text>
<line x1="430.6" y1="52.72" x2="434.1" y2="52.72" stroke="#000" stroke-width="0.9" />
<text x="437.9" y="57.22" font-size="10.0" text-anchor="start" textLength="15.46" lengthAdjust="spacingAndGlyphs" >0.6</text>
<line x1="430.6" y1="18.28" x2="434.1" y2="18.28" stroke="#000" stroke-width="0.9" />
<text x="437.9" y="22.78" font-size="10.0" text-anchor="start" textLength="15.46" lengthAdjust="spacingAndGlyphs" >0.8</text>
<text transform="translate(465,77.4) rotate(-90)" font-size="10.0" text-anchor="middle" textLength="75.53" lengthAdjust="spacingAndGlyphs">Spin-up fraction</text>
<text x="466.6" y="9.2" font-size="12" font-weight="bold" textLength="6.58" lengthAdjust="spacingAndGlyphs">c</text>
<polyline points="516.76,138.85 676.15,16.1" fill="none" stroke="#000" stroke-width="1.7" stroke-linejoin="round" stroke-linecap="butt"/>
<line x1="512.75" y1="138.03" x2="520.76" y2="138.03" stroke="#4081bf" stroke-width="1.6" />
<circle cx="516.76" cy="138.03" r="2.6" fill="#4081bf"/>
<line x1="515.61" y1="135.57" x2="523.77" y2="135.57" stroke="#4081bf" stroke-width="1.6" />
<circle cx="519.69" cy="135.57" r="2.6" fill="#4081bf"/>
<line x1="518.64" y1="133.56" x2="526.96" y2="133.56" stroke="#4081bf" stroke-width="1.6" />
<circle cx="522.8" cy="133.56" r="2.6" fill="#4081bf"/>
<line x1="521.84" y1="131.43" x2="530.33" y2="131.43" stroke="#4081bf" stroke-width="1.6" />
<circle cx="526.09" cy="131.43" r="2.6" fill="#4081bf"/>
<line x1="525.24" y1="128.46" x2="533.91" y2="128.46" stroke="#4081bf" stroke-width="1.6" />
<circle cx="529.58" cy="128.46" r="2.6" fill="#4081bf"/>
<line x1="528.84" y1="125.97" x2="537.7" y2="125.97" stroke="#4081bf" stroke-width="1.6" />
<circle cx="533.27" cy="125.97" r="2.6" fill="#4081bf"/>
<line x1="532.65" y1="122.26" x2="541.71" y2="122.26" stroke="#4081bf" stroke-width="1.6" />
<circle cx="537.18" cy="122.26" r="2.6" fill="#4081bf"/>
<line x1="536.69" y1="118.23" x2="545.96" y2="118.23" stroke="#4081bf" stroke-width="1.6" />
<circle cx="541.32" cy="118.23" r="2.6" fill="#4081bf"/>
<line x1="540.97" y1="116.05" x2="550.46" y2="116.05" stroke="#4081bf" stroke-width="1.6" />
<circle cx="545.71" cy="116.05" r="2.6" fill="#4081bf"/>
<line x1="545.5" y1="112.56" x2="555.23" y2="112.56" stroke="#4081bf" stroke-width="1.6" />
<circle cx="550.36" cy="112.56" r="2.6" fill="#4081bf"/>
<line x1="550.3" y1="108.03" x2="560.28" y2="108.03" stroke="#4081bf" stroke-width="1.6" />
<circle cx="555.29" cy="108.03" r="2.6" fill="#4081bf"/>
<line x1="555.38" y1="104.1" x2="565.63" y2="104.1" stroke="#4081bf" stroke-width="1.6" />
<circle cx="560.51" cy="104.1" r="2.6" fill="#4081bf"/>
<line x1="560.77" y1="100.01" x2="571.3" y2="100.01" stroke="#4081bf" stroke-width="1.6" />
<circle cx="566.03" cy="100.01" r="2.6" fill="#4081bf"/>
<line x1="566.47" y1="96.19" x2="577.31" y2="96.19" stroke="#4081bf" stroke-width="1.6" />
<circle cx="571.89" cy="96.19" r="2.6" fill="#4081bf"/>
<line x1="572.52" y1="90.82" x2="583.67" y2="90.82" stroke="#4081bf" stroke-width="1.6" />
<circle cx="578.09" cy="90.82" r="2.6" fill="#4081bf"/>
<line x1="578.92" y1="85.28" x2="590.41" y2="85.28" stroke="#4081bf" stroke-width="1.6" />
<circle cx="584.66" cy="85.28" r="2.6" fill="#4081bf"/>
<line x1="585.7" y1="81.26" x2="597.54" y2="81.26" stroke="#4081bf" stroke-width="1.6" />
<circle cx="591.62" cy="81.26" r="2.6" fill="#4081bf"/>
<line x1="592.88" y1="75" x2="605.1" y2="75" stroke="#4081bf" stroke-width="1.6" />
<circle cx="598.99" cy="75" r="2.6" fill="#4081bf"/>
<line x1="600.49" y1="69.94" x2="613.11" y2="69.94" stroke="#4081bf" stroke-width="1.6" />
<circle cx="606.8" cy="69.94" r="2.6" fill="#4081bf"/>
<line x1="608.55" y1="63.16" x2="621.6" y2="63.16" stroke="#4081bf" stroke-width="1.6" />
<circle cx="615.07" cy="63.16" r="2.6" fill="#4081bf"/>
<line x1="617.09" y1="56.78" x2="630.58" y2="56.78" stroke="#4081bf" stroke-width="1.6" />
<circle cx="623.84" cy="56.78" r="2.6" fill="#4081bf"/>
<line x1="627.6" y1="50.5" x2="638.8" y2="50.5" stroke="#d62728" stroke-width="1.3" />
<circle cx="633.2" cy="50.5" r="2.7" fill="#d62728"/>
<line x1="637.4" y1="44.4" x2="648.6" y2="44.4" stroke="#d62728" stroke-width="1.3" />
<circle cx="643" cy="44.4" r="2.7" fill="#d62728"/>
<line x1="647.9" y1="37" x2="659.1" y2="37" stroke="#d62728" stroke-width="1.3" />
<circle cx="653.5" cy="37" r="2.7" fill="#d62728"/>
<line x1="658.5" y1="31.1" x2="669.7" y2="31.1" stroke="#d62728" stroke-width="1.3" />
<circle cx="664.1" cy="31.1" r="2.7" fill="#d62728"/>
<line x1="670.1" y1="24.2" x2="681.3" y2="24.2" stroke="#d62728" stroke-width="1.3" />
<circle cx="675.7" cy="24.2" r="2.7" fill="#d62728"/>
<polyline points="516.76,138.85 676.15,16.1" fill="none" stroke="#000" stroke-width="1.5" stroke-linejoin="round" stroke-linecap="butt"/>
<rect x="509" y="10.4" width="174.5" height="134.9" fill="none" stroke="#000" stroke-width="1.0"/>
<line x1="505.5" y1="144.5" x2="509" y2="144.5" stroke="#000" stroke-width="0.9" />
<text x="500.9" y="148.5" font-size="10.0" text-anchor="end" textLength="6.18" lengthAdjust="spacingAndGlyphs" >1</text>
<line x1="505.5" y1="111.5" x2="509" y2="111.5" stroke="#000" stroke-width="0.9" />
<text x="500.9" y="115.56" font-size="10.0" text-anchor="end" textLength="6.18" lengthAdjust="spacingAndGlyphs" >2</text>
<line x1="505.5" y1="78.5" x2="509" y2="78.5" stroke="#000" stroke-width="0.9" />
<text x="500.9" y="82.62" font-size="10.0" text-anchor="end" textLength="6.18" lengthAdjust="spacingAndGlyphs" >3</text>
<line x1="505.5" y1="45.5" x2="509" y2="45.5" stroke="#000" stroke-width="0.9" />
<text x="500.9" y="49.68" font-size="10.0" text-anchor="end" textLength="6.18" lengthAdjust="spacingAndGlyphs" >4</text>
<line x1="505.5" y1="12.5" x2="509" y2="12.5" stroke="#000" stroke-width="0.9" />
<text x="500.9" y="16.74" font-size="10.0" text-anchor="end" textLength="6.18" lengthAdjust="spacingAndGlyphs" >5</text>
<line x1="525.5" y1="145.3" x2="525.5" y2="148.8" stroke="#000" stroke-width="0.9" />
<text x="525.9" y="161.2" font-size="10.0" text-anchor="middle" textLength="6.18" lengthAdjust="spacingAndGlyphs" >5</text>
<line x1="584.5" y1="145.3" x2="584.5" y2="148.8" stroke="#000" stroke-width="0.9" />
<text x="584.5" y="161.2" font-size="10.0" text-anchor="middle" textLength="12.37" lengthAdjust="spacingAndGlyphs" >10</text>
<line x1="643.5" y1="145.3" x2="643.5" y2="148.8" stroke="#000" stroke-width="0.9" />
<text x="643.1" y="161.2" font-size="10.0" text-anchor="middle" textLength="12.37" lengthAdjust="spacingAndGlyphs" >15</text>
<text x="596.2" y="174.5" font-size="10.0" text-anchor="middle" textLength="127.53" lengthAdjust="spacingAndGlyphs" >Microwave amplitude (mV)</text>
<text transform="translate(487.3,77.2) rotate(-90)" font-size="10" text-anchor="middle"><tspan font-style="italic">f</tspan><tspan font-size="6.5" dy="2.2">rabi</tspan><tspan dy="-2.2"> (MHz)</tspan></text>
<text x="0.3" y="186.2" font-size="12" font-weight="bold" textLength="7.95" lengthAdjust="spacingAndGlyphs">d</text>
<circle cx="48.3" cy="234.8" r="3.0" fill="#4081bf"/>
<circle cx="50.6" cy="262.7" r="3.0" fill="#4081bf"/>
<circle cx="52.6" cy="275.6" r="3.0" fill="#4081bf"/>
<circle cx="54.7" cy="294.3" r="3.0" fill="#4081bf"/>
<circle cx="56.9" cy="299.9" r="3.0" fill="#4081bf"/>
<circle cx="59" cy="307.7" r="3.0" fill="#4081bf"/>
<circle cx="60.7" cy="317.1" r="3.0" fill="#4081bf"/>
<circle cx="63.3" cy="305.7" r="3.0" fill="#4081bf"/>
<circle cx="65.3" cy="293.1" r="3.0" fill="#4081bf"/>
<circle cx="67" cy="269.9" r="3.0" fill="#4081bf"/>
<circle cx="68.3" cy="228.4" r="3.0" fill="#4081bf"/>
<circle cx="71.6" cy="227.2" r="3.0" fill="#4081bf"/>
<circle cx="72.9" cy="210.8" r="3.0" fill="#4081bf"/>
<circle cx="74.6" cy="194.3" r="3.0" fill="#4081bf"/>
<circle cx="77.4" cy="207.7" r="3.0" fill="#4081bf"/>
<circle cx="78.4" cy="231" r="3.0" fill="#4081bf"/>
<circle cx="80.2" cy="241.5" r="3.0" fill="#4081bf"/>
<circle cx="83" cy="246.2" r="3.0" fill="#4081bf"/>
<circle cx="84.2" cy="281.2" r="3.0" fill="#4081bf"/>
<circle cx="86.8" cy="288.5" r="3.0" fill="#4081bf"/>
<circle cx="90.6" cy="284.2" r="3.0" fill="#4081bf"/>
<circle cx="92.6" cy="283" r="3.0" fill="#4081bf"/>
<circle cx="94.3" cy="288.5" r="3.0" fill="#4081bf"/>
<circle cx="96.1" cy="264.4" r="3.0" fill="#4081bf"/>
<circle cx="98.6" cy="255.7" r="3.0" fill="#4081bf"/>
<circle cx="100.7" cy="244.8" r="3.0" fill="#4081bf"/>
<circle cx="102.3" cy="265.8" r="3.0" fill="#4081bf"/>
<circle cx="104.5" cy="223.4" r="3.0" fill="#4081bf"/>
<circle cx="106.2" cy="234" r="3.0" fill="#4081bf"/>
<circle cx="108.3" cy="225.4" r="3.0" fill="#4081bf"/>
<circle cx="110.5" cy="260.1" r="3.0" fill="#4081bf"/>
<circle cx="112.2" cy="257.6" r="3.0" fill="#4081bf"/>
<circle cx="113.8" cy="270.2" r="3.0" fill="#4081bf"/>
<circle cx="115.8" cy="274.3" r="3.0" fill="#4081bf"/>
<circle cx="120.4" cy="255.1" r="3.0" fill="#4081bf"/>
<circle cx="122.2" cy="273.4" r="3.0" fill="#4081bf"/>
<circle cx="124.3" cy="263.3" r="3.0" fill="#4081bf"/>
<circle cx="126.4" cy="238.2" r="3.0" fill="#4081bf"/>
<circle cx="128.6" cy="231.5" r="3.0" fill="#4081bf"/>
<circle cx="132.1" cy="229.1" r="3.0" fill="#4081bf"/>
<circle cx="134.6" cy="221" r="3.0" fill="#4081bf"/>
<circle cx="136.4" cy="226.5" r="3.0" fill="#4081bf"/>
<circle cx="138.9" cy="239.2" r="3.0" fill="#4081bf"/>
<circle cx="140.7" cy="244.2" r="3.0" fill="#4081bf"/>
<circle cx="142.2" cy="240" r="3.0" fill="#4081bf"/>
<circle cx="144" cy="260.7" r="3.0" fill="#4081bf"/>
<circle cx="146.5" cy="261.9" r="3.0" fill="#4081bf"/>
<circle cx="148.3" cy="256.9" r="3.0" fill="#4081bf"/>
<circle cx="150.3" cy="273.3" r="3.0" fill="#4081bf"/>
<circle cx="152" cy="265.7" r="3.0" fill="#4081bf"/>
<circle cx="154.1" cy="245" r="3.0" fill="#4081bf"/>
<circle cx="156.1" cy="248" r="3.0" fill="#4081bf"/>
<circle cx="158.4" cy="258.6" r="3.0" fill="#4081bf"/>
<circle cx="160.4" cy="255.1" r="3.0" fill="#4081bf"/>
<circle cx="164.2" cy="261.2" r="3.0" fill="#4081bf"/>
<circle cx="166" cy="247.5" r="3.0" fill="#4081bf"/>
<circle cx="170" cy="259.4" r="3.0" fill="#4081bf"/>
<circle cx="171.8" cy="246.3" r="3.0" fill="#4081bf"/>
<circle cx="173.5" cy="251.8" r="3.0" fill="#4081bf"/>
<circle cx="178.1" cy="247.5" r="3.0" fill="#4081bf"/>
<circle cx="179.3" cy="259.4" r="3.0" fill="#4081bf"/>
<circle cx="181.9" cy="253.1" r="3.0" fill="#4081bf"/>
<circle cx="185.2" cy="251.8" r="3.0" fill="#4081bf"/>
<circle cx="187" cy="256.9" r="3.0" fill="#4081bf"/>
<circle cx="189.5" cy="255.1" r="3.0" fill="#4081bf"/>
<circle cx="192" cy="245.5" r="3.0" fill="#4081bf"/>
<circle cx="193.3" cy="253.1" r="3.0" fill="#4081bf"/>
<circle cx="195.8" cy="246.3" r="3.0" fill="#4081bf"/>
<circle cx="200.1" cy="258.6" r="3.0" fill="#4081bf"/>
<circle cx="202.1" cy="245.5" r="3.0" fill="#4081bf"/>
<circle cx="203.9" cy="239.2" r="3.0" fill="#4081bf"/>
<circle cx="206.4" cy="245" r="3.0" fill="#4081bf"/>
<polyline points="47.75,213.8 47.95,215.43 48.15,217.13 48.35,218.89 48.55,220.71 48.75,222.59 48.95,224.51 49.15,226.49 49.35,228.51 49.55,230.57 49.75,232.68 49.95,234.81 50.15,236.98 50.35,239.17 50.55,241.39 50.75,243.63 50.94,245.89 51.14,248.15 51.34,250.43 51.54,252.71 51.74,254.99 51.94,257.27 52.14,259.54 52.34,261.81 52.54,264.05 52.74,266.28 52.94,268.49 53.14,270.67 53.34,272.82 53.54,274.94 53.74,277.02 53.94,279.06 54.14,281.06 54.34,283.01 54.54,284.91 54.74,286.76 54.94,288.55 55.14,290.28 55.34,291.95 55.54,293.56 55.74,295.09 55.94,296.56 56.14,297.95 56.34,299.27 56.54,300.52 56.74,301.68 56.94,302.76 57.13,303.76 57.33,304.68 57.53,305.51 57.73,306.25 57.93,306.91 58.13,307.47 58.33,307.95 58.53,308.33 58.73,308.63 58.93,308.83 59.13,308.95 59.33,308.97 59.53,308.9 59.73,308.73 59.93,308.48 60.13,308.14 60.33,307.71 60.53,307.19 60.73,306.58 60.93,305.89 61.13,305.11 61.33,304.24 61.53,303.3 61.73,302.28 61.93,301.17 62.13,300 62.33,298.74 62.53,297.42 62.73,296.03 62.93,294.57 63.13,293.05 63.32,291.46 63.52,289.82 63.72,288.12 63.92,286.37 64.12,284.57 64.32,282.72 64.52,280.83 64.72,278.9 64.92,276.94 65.12,274.94 65.32,272.91 65.52,270.86 65.72,268.78 65.92,266.69 66.12,264.58 66.32,262.45 66.52,260.32 66.72,258.19 66.92,256.06 67.12,253.92 67.32,251.8 67.52,249.68 67.72,247.58 67.92,245.5 68.12,243.44 68.32,241.4 68.52,239.38 68.72,237.4 68.92,235.46 69.12,233.55 69.32,231.68 69.51,229.85 69.71,228.07 69.91,226.35 70.11,224.67 70.31,223.04 70.51,221.48 70.71,219.97 70.91,218.53 71.11,217.15 71.31,215.84 71.51,214.59 71.71,213.42 71.91,212.31 72.11,211.28 72.31,210.33 72.51,209.45 72.71,208.65 72.91,207.93 73.11,207.29 73.31,206.73 73.51,206.25 73.71,205.85 73.91,205.53 74.11,205.3 74.31,205.14 74.51,205.07 74.71,205.08 74.91,205.17 75.11,205.35 75.31,205.6 75.51,205.93 75.7,206.34 75.9,206.83 76.1,207.4 76.3,208.04 76.5,208.75 76.7,209.54 76.9,210.4 77.1,211.32 77.3,212.32 77.5,213.38 77.7,214.5 77.9,215.68 78.1,216.92 78.3,218.21 78.5,219.56 78.7,220.96 78.9,222.41 79.1,223.9 79.3,225.44 79.5,227.01 79.7,228.63 79.9,230.28 80.1,231.96 80.3,233.66 80.5,235.4 80.7,237.15 80.9,238.92 81.1,240.71 81.3,242.52 81.5,244.33 81.7,246.15 81.89,247.97 82.09,249.79 82.29,251.61 82.49,253.43 82.69,255.23 82.89,257.03 83.09,258.8 83.29,260.56 83.49,262.3 83.69,264.02 83.89,265.71 84.09,267.37 84.29,269 84.49,270.59 84.69,272.15 84.89,273.67 85.09,275.15 85.29,276.58 85.49,277.97 85.69,279.31 85.89,280.59 86.09,281.83 86.29,283.01 86.49,284.14 86.69,285.21 86.89,286.22 87.09,287.17 87.29,288.06 87.49,288.89 87.69,289.66 87.89,290.36 88.08,290.99 88.28,291.56 88.48,292.07 88.68,292.5 88.88,292.87 89.08,293.17 89.28,293.41 89.48,293.58 89.68,293.68 89.88,293.71 90.08,293.68 90.28,293.58 90.48,293.41 90.68,293.18 90.88,292.89 91.08,292.54 91.28,292.12 91.48,291.64 91.68,291.1 91.88,290.51 92.08,289.85 92.28,289.14 92.48,288.38 92.68,287.57 92.88,286.7 93.08,285.79 93.28,284.83 93.48,283.83 93.68,282.78 93.88,281.69 94.08,280.57 94.27,279.41 94.47,278.21 94.67,276.99 94.87,275.73 95.07,274.45 95.27,273.14 95.47,271.81 95.67,270.46 95.87,269.09 96.07,267.71 96.27,266.32 96.47,264.91 96.67,263.5 96.87,262.08 97.07,260.66 97.27,259.25 97.47,257.83 97.67,256.42 97.87,255.01 98.07,253.62 98.27,252.23 98.47,250.87 98.67,249.51 98.87,248.18 99.07,246.86 99.27,245.57 99.47,244.31 99.67,243.07 99.87,241.85 100.07,240.67 100.27,239.52 100.46,238.41 100.66,237.33 100.86,236.29 101.06,235.28 101.26,234.32 101.46,233.39 101.66,232.51 101.86,231.68 102.06,230.88 102.26,230.14 102.46,229.44 102.66,228.78 102.86,228.18 103.06,227.62 103.26,227.11 103.46,226.66 103.66,226.25 103.86,225.89 104.06,225.58 104.26,225.33 104.46,225.12 104.66,224.96 104.86,224.86 105.06,224.8 105.26,224.79 105.46,224.84 105.66,224.93 105.86,225.07 106.06,225.25 106.26,225.48 106.46,225.76 106.65,226.09 106.85,226.45 107.05,226.86 107.25,227.32 107.45,227.81 107.65,228.34 107.85,228.91 108.05,229.52 108.25,230.16 108.45,230.83 108.65,231.54 108.85,232.28 109.05,233.05 109.25,233.85 109.45,234.67 109.65,235.52 109.85,236.39 110.05,237.28 110.25,238.19 110.45,239.12 110.65,240.06 110.85,241.02 111.05,241.99 111.25,242.97 111.45,243.96 111.65,244.95 111.85,245.95 112.05,246.96 112.25,247.97 112.45,248.97 112.65,249.98 112.84,250.98 113.04,251.97 113.24,252.96 113.44,253.94 113.64,254.91 113.84,255.87 114.04,256.81 114.24,257.75 114.44,258.66 114.64,259.56 114.84,260.44 115.04,261.29 115.24,262.13 115.44,262.94 115.64,263.73 115.84,264.5 116.04,265.24 116.24,265.95 116.44,266.64 116.64,267.29 116.84,267.92 117.04,268.51 117.24,269.08 117.44,269.61 117.64,270.11 117.84,270.58 118.04,271.02 118.24,271.42 118.44,271.79 118.64,272.12 118.84,272.42 119.03,272.69 119.23,272.92 119.43,273.11 119.63,273.28 119.83,273.4 120.03,273.5 120.23,273.56 120.43,273.58 120.63,273.57 120.83,273.53 121.03,273.46 121.23,273.36 121.43,273.22 121.63,273.05 121.83,272.85 122.03,272.63 122.23,272.37 122.43,272.09 122.63,271.78 122.83,271.44 123.03,271.08 123.23,270.69 123.43,270.28 123.63,269.85 123.83,269.39 124.03,268.92 124.23,268.42 124.43,267.91 124.63,267.38 124.83,266.83 125.03,266.27 125.22,265.7 125.42,265.11 125.62,264.51 125.82,263.9 126.02,263.28 126.22,262.66 126.42,262.02 126.62,261.38 126.82,260.74 127.02,260.09 127.22,259.44 127.42,258.79 127.62,258.14 127.82,257.5 128.02,256.85 128.22,256.21 128.42,255.57 128.62,254.94 128.82,254.31 129.02,253.69 129.22,253.08 129.42,252.48 129.62,251.89 129.82,251.32 130.02,250.75 130.22,250.2 130.42,249.66 130.62,249.13 130.82,248.62 131.02,248.13 131.22,247.65 131.41,247.19 131.61,246.75 131.81,246.33 132.01,245.92 132.21,245.53 132.41,245.17 132.61,244.82 132.81,244.49 133.01,244.19 133.21,243.9 133.41,243.64 133.61,243.4 133.81,243.18 134.01,242.98 134.21,242.8 134.41,242.64 134.61,242.51 134.81,242.4 135.01,242.3 135.21,242.23 135.41,242.18 135.61,242.15 135.81,242.15 136.01,242.16 136.21,242.19 136.41,242.24 136.61,242.31 136.81,242.4 137.01,242.51 137.21,242.64 137.41,242.78 137.6,242.94 137.8,243.12 138,243.32 138.2,243.53 138.4,243.75 138.6,243.99 138.8,244.24 139,244.51 139.2,244.78 139.4,245.07 139.6,245.37 139.8,245.68 140,246 140.2,246.33 140.4,246.67 140.6,247.02 140.8,247.37 141,247.73 141.2,248.09 141.4,248.46 141.6,248.83 141.8,249.21 142,249.58 142.2,249.96 142.4,250.35 142.6,250.73 142.8,251.11 143,251.49 143.2,251.87 143.4,252.25 143.6,252.62 143.79,252.99 143.99,253.36 144.19,253.72 144.39,254.08 144.59,254.43 144.79,254.78 144.99,255.12 145.19,255.45 145.39,255.78 145.59,256.09 145.79,256.4 145.99,256.7 146.19,256.99 146.39,257.27 146.59,257.54 146.79,257.8 146.99,258.05 147.19,258.29 147.39,258.51 147.59,258.73 147.79,258.93 147.99,259.13 148.19,259.31 148.39,259.48 148.59,259.63 148.79,259.78 148.99,259.91 149.19,260.03 149.39,260.14 149.59,260.24 149.78,260.32 149.98,260.39 150.18,260.45 150.38,260.5 150.58,260.53 150.78,260.56 150.98,260.57 151.18,260.57 151.38,260.56 151.58,260.54 151.78,260.5 151.98,260.46 152.18,260.41 152.38,260.34 152.58,260.27 152.78,260.19 152.98,260.09 153.18,259.99 153.38,259.88 153.58,259.77 153.78,259.64 153.98,259.51 154.18,259.37 154.38,259.22 154.58,259.06 154.78,258.9 154.98,258.74 155.18,258.57 155.38,258.39 155.58,258.21 155.78,258.03 155.97,257.84 156.17,257.65 156.37,257.45 156.57,257.26 156.77,257.06 156.97,256.86 157.17,256.65 157.37,256.45 157.57,256.25 157.77,256.04 157.97,255.84 158.17,255.64 158.37,255.43 158.57,255.23 158.77,255.03 158.97,254.83 159.17,254.64 159.37,254.44 159.57,254.25 159.77,254.07 159.97,253.88 160.17,253.7 160.37,253.52 160.57,253.35 160.77,253.18 160.97,253.02 161.17,252.86 161.37,252.7 161.57,252.55 161.77,252.41 161.97,252.27 162.16,252.14 162.36,252.01 162.56,251.89 162.76,251.77 162.96,251.66 163.16,251.56 163.36,251.46 163.56,251.37 163.76,251.28 163.96,251.2 164.16,251.13 164.36,251.07 164.56,251.01 164.76,250.95 164.96,250.91 165.16,250.87 165.36,250.83 165.56,250.8 165.76,250.78 165.96,250.77 166.16,250.76 166.36,250.75 166.56,250.75 166.76,250.76 166.96,250.78 167.16,250.79 167.36,250.82 167.56,250.85 167.76,250.88 167.96,250.92 168.16,250.96 168.35,251.01 168.55,251.06 168.75,251.12 168.95,251.18 169.15,251.24 169.35,251.31 169.55,251.38 169.75,251.45 169.95,251.53 170.15,251.61 170.35,251.69 170.55,251.78 170.75,251.87 170.95,251.96 171.15,252.05 171.35,252.14 171.55,252.24 171.75,252.33 171.95,252.43 172.15,252.53 172.35,252.62 172.55,252.72 172.75,252.82 172.95,252.92 173.15,253.02 173.35,253.12 173.55,253.22 173.75,253.32 173.95,253.41 174.15,253.51 174.35,253.6 174.54,253.7 174.74,253.79 174.94,253.88 175.14,253.97 175.34,254.06 175.54,254.15 175.74,254.23 175.94,254.31 176.14,254.39 176.34,254.47 176.54,254.54 176.74,254.62 176.94,254.69 177.14,254.75 177.34,254.82 177.54,254.88 177.74,254.94 177.94,255 178.14,255.05 178.34,255.1 178.54,255.15 178.74,255.19 178.94,255.23 179.14,255.27 179.34,255.31 179.54,255.34 179.74,255.37 179.94,255.4 180.14,255.42 180.34,255.44 180.54,255.46 180.73,255.48 180.93,255.49 181.13,255.5 181.33,255.5 181.53,255.51 181.73,255.51 181.93,255.51 182.13,255.5 182.33,255.49 182.53,255.49 182.73,255.47 182.93,255.46 183.13,255.44 183.33,255.43 183.53,255.4 183.73,255.38 183.93,255.36 184.13,255.33 184.33,255.3 184.53,255.27 184.73,255.24 184.93,255.21 185.13,255.18 185.33,255.14 185.53,255.11 185.73,255.07 185.93,255.03 186.13,254.99 186.33,254.95 186.53,254.91 186.73,254.87 186.92,254.82 187.12,254.78 187.32,254.74 187.52,254.7 187.72,254.65 187.92,254.61 188.12,254.56 188.32,254.52 188.52,254.48 188.72,254.43 188.92,254.39 189.12,254.35 189.32,254.3 189.52,254.26 189.72,254.22 189.92,254.18 190.12,254.14 190.32,254.1 190.52,254.06 190.72,254.02 190.92,253.99 191.12,253.95 191.32,253.92 191.52,253.88 191.72,253.85 191.92,253.82 192.12,253.78 192.32,253.75 192.52,253.73 192.72,253.7 192.92,253.67 193.11,253.65 193.31,253.62 193.51,253.6 193.71,253.58 193.91,253.56 194.11,253.54 194.31,253.52 194.51,253.51 194.71,253.49 194.91,253.48 195.11,253.47 195.31,253.46 195.51,253.45 195.71,253.44 195.91,253.43 196.11,253.43 196.31,253.42 196.51,253.42 196.71,253.42 196.91,253.42 197.11,253.42 197.31,253.42 197.51,253.42 197.71,253.42 197.91,253.43 198.11,253.43 198.31,253.44 198.51,253.44 198.71,253.45 198.91,253.46 199.11,253.47 199.3,253.48 199.5,253.49 199.7,253.5 199.9,253.52 200.1,253.53 200.3,253.54 200.5,253.56 200.7,253.57 200.9,253.59 201.1,253.6 201.3,253.62 201.5,253.63 201.7,253.65 201.9,253.67 202.1,253.68 202.3,253.7 202.5,253.72 202.7,253.73 202.9,253.75 203.1,253.77 203.3,253.79 203.5,253.81 203.7,253.82 203.9,253.84 204.1,253.86 204.3,253.87 204.5,253.89 204.7,253.91 204.9,253.93 205.1,253.94 205.3,253.96 205.49,253.97 205.69,253.99 205.89,254 206.09,254.02 206.29,254.03 206.49,254.05 206.69,254.06 206.89,254.07 207.09,254.09 207.29,254.1" fill="none" stroke="#000" stroke-width="1.7" stroke-linejoin="round" stroke-linecap="butt"/>
<rect x="40" y="188.7" width="174.5" height="134.4" fill="none" stroke="#000" stroke-width="1.0"/>
<line x1="36.5" y1="321.5" x2="40" y2="321.5" stroke="#000" stroke-width="0.9" />
<text x="31.9" y="326.02" font-size="10.0" text-anchor="end" textLength="15.46" lengthAdjust="spacingAndGlyphs" >0.2</text>
<line x1="36.5" y1="278.5" x2="40" y2="278.5" stroke="#000" stroke-width="0.9" />
<text x="31.9" y="282.68" font-size="10.0" text-anchor="end" textLength="15.46" lengthAdjust="spacingAndGlyphs" >0.4</text>
<line x1="36.5" y1="234.5" x2="40" y2="234.5" stroke="#000" stroke-width="0.9" />
<text x="31.9" y="239.34" font-size="10.0" text-anchor="end" textLength="15.46" lengthAdjust="spacingAndGlyphs" >0.6</text>
<line x1="36.5" y1="191.5" x2="40" y2="191.5" stroke="#000" stroke-width="0.9" />
<text x="31.9" y="196" font-size="10.0" text-anchor="end" textLength="15.46" lengthAdjust="spacingAndGlyphs" >0.8</text>
<line x1="47.5" y1="323.1" x2="47.5" y2="326.6" stroke="#000" stroke-width="0.9" />
<text x="47.75" y="339" font-size="10.0" text-anchor="middle" textLength="6.18" lengthAdjust="spacingAndGlyphs" >0</text>
<line x1="113.5" y1="323.1" x2="113.5" y2="326.6" stroke="#000" stroke-width="0.9" />
<text x="113.95" y="339" font-size="10.0" text-anchor="middle" textLength="6.18" lengthAdjust="spacingAndGlyphs" >1</text>
<line x1="180.5" y1="323.1" x2="180.5" y2="326.6" stroke="#000" stroke-width="0.9" />
<text x="180.15" y="339" font-size="10.0" text-anchor="middle" textLength="6.18" lengthAdjust="spacingAndGlyphs" >2</text>
<text x="127.4" y="352.5" font-size="10.0" text-anchor="middle" textLength="90.09" lengthAdjust="spacingAndGlyphs" >Waiting time τ (µs)</text>
<text transform="translate(10.6,255.4) rotate(-90)" font-size="10.0" text-anchor="middle" textLength="75.53" lengthAdjust="spacingAndGlyphs">Spin-up fraction</text>
<text x="109.6" y="316.4" font-size="10.0" font-style="italic" textLength="6.6" lengthAdjust="spacingAndGlyphs">T</text>
<text x="115.4" y="319.3" font-size="7.0" xml:space="preserve">2</text>
<text x="117.6" y="313.4" font-size="7.0" xml:space="preserve">*</text>
<text x="124.2" y="316.4" font-size="10.0" xml:space="preserve" textLength="7.6" lengthAdjust="spacingAndGlyphs">=</text>
<text x="134.2" y="316.4" font-size="10.0" xml:space="preserve" textLength="69.5" lengthAdjust="spacingAndGlyphs">1.05 ± 0.08 µs</text>
<text x="233.6" y="186.2" font-size="12" font-weight="bold" textLength="7.53" lengthAdjust="spacingAndGlyphs">e</text>
<circle cx="284.2" cy="317.2" r="3.0" fill="#4081bf"/>
<circle cx="287.4" cy="307.1" r="3.0" fill="#4081bf"/>
<circle cx="290.7" cy="316.6" r="3.0" fill="#4081bf"/>
<circle cx="293.7" cy="314.7" r="3.0" fill="#4081bf"/>
<circle cx="297" cy="301.2" r="3.0" fill="#4081bf"/>
<circle cx="300" cy="281.3" r="3.0" fill="#4081bf"/>
<circle cx="302.9" cy="290.1" r="3.0" fill="#4081bf"/>
<circle cx="306.1" cy="287.8" r="3.0" fill="#4081bf"/>
<circle cx="309.9" cy="286.3" r="3.0" fill="#4081bf"/>
<circle cx="312.9" cy="274.2" r="3.0" fill="#4081bf"/>
<circle cx="316" cy="256.5" r="3.0" fill="#4081bf"/>
<circle cx="321" cy="259.8" r="3.0" fill="#4081bf"/>
<circle cx="323" cy="257.3" r="3.0" fill="#4081bf"/>
<circle cx="325.6" cy="254.8" r="3.0" fill="#4081bf"/>
<circle cx="328.8" cy="243" r="3.0" fill="#4081bf"/>
<circle cx="332" cy="232" r="3.0" fill="#4081bf"/>
<circle cx="335.4" cy="236.2" r="3.0" fill="#4081bf"/>
<circle cx="338.8" cy="233.6" r="3.0" fill="#4081bf"/>
<circle cx="341.8" cy="223.3" r="3.0" fill="#4081bf"/>
<circle cx="343.6" cy="238.4" r="3.0" fill="#4081bf"/>
<circle cx="345.2" cy="227.7" r="3.0" fill="#4081bf"/>
<circle cx="347.9" cy="215.5" r="3.0" fill="#4081bf"/>
<circle cx="351.3" cy="213.8" r="3.0" fill="#4081bf"/>
<circle cx="356.2" cy="215" r="3.0" fill="#4081bf"/>
<circle cx="361.8" cy="216.2" r="3.0" fill="#4081bf"/>
<circle cx="365.6" cy="215" r="3.0" fill="#4081bf"/>
<circle cx="368.7" cy="219" r="3.0" fill="#4081bf"/>
<circle cx="371.7" cy="224.2" r="3.0" fill="#4081bf"/>
<circle cx="374.8" cy="213.8" r="3.0" fill="#4081bf"/>
<circle cx="378" cy="226" r="3.0" fill="#4081bf"/>
<circle cx="381.3" cy="212.9" r="3.0" fill="#4081bf"/>
<circle cx="384.4" cy="212.4" r="3.0" fill="#4081bf"/>
<circle cx="388.2" cy="214.6" r="3.0" fill="#4081bf"/>
<circle cx="387.5" cy="220.2" r="3.0" fill="#4081bf"/>
<circle cx="390.8" cy="230.9" r="3.0" fill="#4081bf"/>
<circle cx="394" cy="222.3" r="3.0" fill="#4081bf"/>
<circle cx="397.3" cy="227.6" r="3.0" fill="#4081bf"/>
<circle cx="400.3" cy="208.9" r="3.0" fill="#4081bf"/>
<circle cx="403.5" cy="208" r="3.0" fill="#4081bf"/>
<circle cx="406.8" cy="222" r="3.0" fill="#4081bf"/>
<circle cx="410" cy="208.5" r="3.0" fill="#4081bf"/>
<circle cx="413.2" cy="204.2" r="3.0" fill="#4081bf"/>
<circle cx="416.3" cy="194.5" r="3.0" fill="#4081bf"/>
<circle cx="419.6" cy="208.9" r="3.0" fill="#4081bf"/>
<circle cx="422.6" cy="216" r="3.0" fill="#4081bf"/>
<circle cx="425.7" cy="213.9" r="3.0" fill="#4081bf"/>
<circle cx="429.1" cy="216.3" r="3.0" fill="#4081bf"/>
<circle cx="432.5" cy="216.7" r="3.0" fill="#4081bf"/>
<circle cx="435.6" cy="224.1" r="3.0" fill="#4081bf"/>
<circle cx="438.8" cy="219.7" r="3.0" fill="#4081bf"/>
<polyline points="282.4,314.31 282.67,314.31 282.93,314.3 283.2,314.28 283.46,314.26 283.73,314.23 283.99,314.19 284.26,314.14 284.53,314.09 284.79,314.03 285.06,313.96 285.32,313.88 285.59,313.8 285.86,313.7 286.12,313.6 286.39,313.5 286.65,313.38 286.92,313.26 287.18,313.13 287.45,312.99 287.72,312.84 287.98,312.69 288.25,312.53 288.51,312.36 288.78,312.18 289.04,311.99 289.31,311.8 289.58,311.6 289.84,311.39 290.11,311.18 290.37,310.96 290.64,310.73 290.9,310.49 291.17,310.24 291.44,309.99 291.7,309.73 291.97,309.46 292.23,309.19 292.5,308.91 292.77,308.62 293.03,308.32 293.3,308.02 293.56,307.71 293.83,307.4 294.09,307.07 294.36,306.74 294.63,306.41 294.89,306.07 295.16,305.72 295.42,305.36 295.69,305 295.95,304.63 296.22,304.26 296.49,303.88 296.75,303.49 297.02,303.1 297.28,302.7 297.55,302.3 297.82,301.89 298.08,301.47 298.35,301.05 298.61,300.63 298.88,300.19 299.14,299.76 299.41,299.32 299.68,298.87 299.94,298.42 300.21,297.96 300.47,297.5 300.74,297.04 301,296.57 301.27,296.09 301.54,295.61 301.8,295.13 302.07,294.64 302.33,294.15 302.6,293.66 302.86,293.16 303.13,292.66 303.4,292.15 303.66,291.64 303.93,291.13 304.19,290.62 304.46,290.1 304.73,289.57 304.99,289.05 305.26,288.52 305.52,287.99 305.79,287.46 306.05,286.92 306.32,286.39 306.59,285.85 306.85,285.31 307.12,284.76 307.38,284.22 307.65,283.67 307.91,283.12 308.18,282.57 308.45,282.02 308.71,281.46 308.98,280.91 309.24,280.35 309.51,279.79 309.77,279.24 310.04,278.68 310.31,278.12 310.57,277.56 310.84,277 311.1,276.43 311.37,275.87 311.64,275.31 311.9,274.75 312.17,274.19 312.43,273.63 312.7,273.06 312.96,272.5 313.23,271.94 313.5,271.38 313.76,270.82 314.03,270.26 314.29,269.7 314.56,269.15 314.82,268.59 315.09,268.03 315.36,267.48 315.62,266.93 315.89,266.37 316.15,265.82 316.42,265.27 316.69,264.73 316.95,264.18 317.22,263.63 317.48,263.09 317.75,262.55 318.01,262.01 318.28,261.48 318.55,260.94 318.81,260.41 319.08,259.88 319.34,259.35 319.61,258.82 319.87,258.3 320.14,257.78 320.41,257.26 320.67,256.74 320.94,256.23 321.2,255.72 321.47,255.21 321.73,254.71 322,254.21 322.27,253.71 322.53,253.21 322.8,252.72 323.06,252.23 323.33,251.74 323.6,251.26 323.86,250.78 324.13,250.3 324.39,249.83 324.66,249.36 324.92,248.89 325.19,248.43 325.46,247.97 325.72,247.51 325.99,247.06 326.25,246.61 326.52,246.16 326.78,245.72 327.05,245.28 327.32,244.85 327.58,244.42 327.85,243.99 328.11,243.57 328.38,243.15 328.65,242.73 328.91,242.32 329.18,241.91 329.44,241.51 329.71,241.11 329.97,240.71 330.24,240.32 330.51,239.93 330.77,239.54 331.04,239.16 331.3,238.79 331.57,238.41 331.83,238.04 332.1,237.68 332.37,237.32 332.63,236.96 332.9,236.61 333.16,236.26 333.43,235.91 333.69,235.57 333.96,235.23 334.23,234.9 334.49,234.57 334.76,234.25 335.02,233.92 335.29,233.61 335.56,233.29 335.82,232.98 336.09,232.68 336.35,232.37 336.62,232.07 336.88,231.78 337.15,231.49 337.42,231.2 337.68,230.92 337.95,230.64 338.21,230.36 338.48,230.09 338.74,229.82 339.01,229.56 339.28,229.3 339.54,229.04 339.81,228.79 340.07,228.54 340.34,228.29 340.61,228.05 340.87,227.81 341.14,227.58 341.4,227.34 341.67,227.11 341.93,226.89 342.2,226.67 342.47,226.45 342.73,226.23 343,226.02 343.26,225.81 343.53,225.61 343.79,225.41 344.06,225.21 344.33,225.01 344.59,224.82 344.86,224.63 345.12,224.45 345.39,224.26 345.65,224.08 345.92,223.91 346.19,223.73 346.45,223.56 346.72,223.39 346.98,223.23 347.25,223.07 347.52,222.91 347.78,222.75 348.05,222.6 348.31,222.45 348.58,222.3 348.84,222.15 349.11,222.01 349.38,221.87 349.64,221.73 349.91,221.6 350.17,221.46 350.44,221.33 350.7,221.2 350.97,221.08 351.24,220.96 351.5,220.83 351.77,220.72 352.03,220.6 352.3,220.49 352.56,220.37 352.83,220.27 353.1,220.16 353.36,220.05 353.63,219.95 353.89,219.85 354.16,219.75 354.43,219.65 354.69,219.56 354.96,219.46 355.22,219.37 355.49,219.28 355.75,219.2 356.02,219.11 356.29,219.03 356.55,218.95 356.82,218.87 357.08,218.79 357.35,218.71 357.61,218.63 357.88,218.56 358.15,218.49 358.41,218.42 358.68,218.35 358.94,218.28 359.21,218.22 359.48,218.15 359.74,218.09 360.01,218.03 360.27,217.97 360.54,217.91 360.8,217.85 361.07,217.8 361.34,217.74 361.6,217.69 361.87,217.64 362.13,217.59 362.4,217.54 362.66,217.49 362.93,217.44 363.2,217.39 363.46,217.35 363.73,217.3 363.99,217.26 364.26,217.22 364.52,217.18 364.79,217.14 365.06,217.1 365.32,217.06 365.59,217.02 365.85,216.99 366.12,216.95 366.39,216.92 366.65,216.88 366.92,216.85 367.18,216.82 367.45,216.79 367.71,216.76 367.98,216.73 368.25,216.7 368.51,216.67 368.78,216.64 369.04,216.62 369.31,216.59 369.57,216.57 369.84,216.54 370.11,216.52 370.37,216.5 370.64,216.47 370.9,216.45 371.17,216.43 371.44,216.41 371.7,216.39 371.97,216.37 372.23,216.35 372.5,216.33 372.76,216.31 373.03,216.29 373.3,216.28 373.56,216.26 373.83,216.25 374.09,216.23 374.36,216.21 374.62,216.2 374.89,216.18 375.16,216.17 375.42,216.16 375.69,216.14 375.95,216.13 376.22,216.12 376.48,216.11 376.75,216.09 377.02,216.08 377.28,216.07 377.55,216.06 377.81,216.05 378.08,216.04 378.35,216.03 378.61,216.02 378.88,216.01 379.14,216 379.41,215.99 379.67,215.99 379.94,215.98 380.21,215.97 380.47,215.96 380.74,215.95 381,215.95 381.27,215.94 381.53,215.93 381.8,215.93 382.07,215.92 382.33,215.91 382.6,215.91 382.86,215.9 383.13,215.9 383.39,215.89 383.66,215.89 383.93,215.88 384.19,215.88 384.46,215.87 384.72,215.87 384.99,215.86 385.26,215.86 385.52,215.85 385.79,215.85 386.05,215.85 386.32,215.84 386.58,215.84 386.85,215.84 387.12,215.83 387.38,215.83 387.65,215.83 387.91,215.82 388.18,215.82 388.44,215.82 388.71,215.81 388.98,215.81 389.24,215.81 389.51,215.81 389.77,215.8 390.04,215.8 390.31,215.8 390.57,215.8 390.84,215.79 391.1,215.79 391.37,215.79 391.63,215.79 391.9,215.79 392.17,215.79 392.43,215.78 392.7,215.78 392.96,215.78 393.23,215.78 393.49,215.78 393.76,215.78 394.03,215.77 394.29,215.77 394.56,215.77 394.82,215.77 395.09,215.77 395.35,215.77 395.62,215.77 395.89,215.77 396.15,215.77 396.42,215.76 396.68,215.76 396.95,215.76 397.22,215.76 397.48,215.76 397.75,215.76 398.01,215.76 398.28,215.76 398.54,215.76 398.81,215.76 399.08,215.76 399.34,215.76 399.61,215.75 399.87,215.75 400.14,215.75 400.4,215.75 400.67,215.75 400.94,215.75 401.2,215.75 401.47,215.75 401.73,215.75 402,215.75 402.27,215.75 402.53,215.75 402.8,215.75 403.06,215.75 403.33,215.75 403.59,215.75 403.86,215.75 404.13,215.75 404.39,215.75 404.66,215.75 404.92,215.75 405.19,215.75 405.45,215.75 405.72,215.75 405.99,215.75 406.25,215.75 406.52,215.74 406.78,215.74 407.05,215.74 407.31,215.74 407.58,215.74 407.85,215.74 408.11,215.74 408.38,215.74 408.64,215.74 408.91,215.74 409.18,215.74 409.44,215.74 409.71,215.74 409.97,215.74 410.24,215.74 410.5,215.74 410.77,215.74 411.04,215.74 411.3,215.74 411.57,215.74 411.83,215.74 412.1,215.74 412.36,215.74 412.63,215.74 412.9,215.74 413.16,215.74 413.43,215.74 413.69,215.74 413.96,215.74 414.23,215.74 414.49,215.74 414.76,215.74 415.02,215.74 415.29,215.74 415.55,215.74 415.82,215.74 416.09,215.74 416.35,215.74 416.62,215.74 416.88,215.74 417.15,215.74 417.41,215.74 417.68,215.74 417.95,215.74 418.21,215.74 418.48,215.74 418.74,215.74 419.01,215.74 419.27,215.74 419.54,215.74 419.81,215.74 420.07,215.74 420.34,215.74 420.6,215.74 420.87,215.74 421.14,215.74 421.4,215.74 421.67,215.74 421.93,215.74 422.2,215.74 422.46,215.74 422.73,215.74 423,215.74 423.26,215.74 423.53,215.74 423.79,215.74 424.06,215.74 424.32,215.74 424.59,215.74 424.86,215.74 425.12,215.74 425.39,215.74 425.65,215.74 425.92,215.74 426.18,215.74 426.45,215.74 426.72,215.74 426.98,215.74 427.25,215.74 427.51,215.74 427.78,215.74 428.05,215.74 428.31,215.74 428.58,215.74 428.84,215.74 429.11,215.74 429.37,215.74 429.64,215.74 429.91,215.74 430.17,215.74 430.44,215.74 430.7,215.74 430.97,215.74 431.23,215.74 431.5,215.74 431.77,215.74 432.03,215.74 432.3,215.74 432.56,215.74 432.83,215.74 433.1,215.74 433.36,215.74 433.63,215.74 433.89,215.74 434.16,215.74 434.42,215.74 434.69,215.74 434.96,215.74 435.22,215.74 435.49,215.74 435.75,215.74 436.02,215.74 436.28,215.74 436.55,215.74 436.82,215.74 437.08,215.74 437.35,215.74 437.61,215.74 437.88,215.74 438.14,215.74 438.41,215.74 438.68,215.74 438.94,215.74 439.21,215.74 439.47,215.74 439.74,215.74 440.01,215.74 440.27,215.74 440.54,215.74 440.8,215.74 441.07,215.74 441.33,215.74 441.6,215.74" fill="none" stroke="#000" stroke-width="1.7" stroke-linejoin="round" stroke-linecap="butt"/>
<rect x="274.6" y="188.7" width="174.9" height="134.7" fill="none" stroke="#000" stroke-width="1.0"/>
<line x1="271.1" y1="303.5" x2="274.6" y2="303.5" stroke="#000" stroke-width="0.9" />
<text x="266.5" y="307.6" font-size="10.0" text-anchor="end" textLength="15.46" lengthAdjust="spacingAndGlyphs" >0.3</text>
<line x1="271.1" y1="254.5" x2="274.6" y2="254.5" stroke="#000" stroke-width="0.9" />
<text x="266.5" y="258.85" font-size="10.0" text-anchor="end" textLength="15.46" lengthAdjust="spacingAndGlyphs" >0.4</text>
<line x1="271.1" y1="205.5" x2="274.6" y2="205.5" stroke="#000" stroke-width="0.9" />
<text x="266.5" y="210.1" font-size="10.0" text-anchor="end" textLength="15.46" lengthAdjust="spacingAndGlyphs" >0.5</text>
<line x1="282.5" y1="323.4" x2="282.5" y2="326.9" stroke="#000" stroke-width="0.9" />
<text x="282.4" y="339.3" font-size="10.0" text-anchor="middle" textLength="6.18" lengthAdjust="spacingAndGlyphs" >0</text>
<line x1="362.5" y1="323.4" x2="362.5" y2="326.9" stroke="#000" stroke-width="0.9" />
<text x="362" y="339.3" font-size="10.0" text-anchor="middle" textLength="18.55" lengthAdjust="spacingAndGlyphs" >100</text>
<line x1="441.5" y1="323.4" x2="441.5" y2="326.9" stroke="#000" stroke-width="0.9" />
<text x="441.6" y="339.3" font-size="10.0" text-anchor="middle" textLength="18.55" lengthAdjust="spacingAndGlyphs" >200</text>
<text x="362.1" y="352.5" font-size="10.0" text-anchor="middle" textLength="90.09" lengthAdjust="spacingAndGlyphs" >Waiting time τ (µs)</text>
<text transform="translate(245,256.1) rotate(-90)" font-size="10.0" text-anchor="middle" textLength="75.53" lengthAdjust="spacingAndGlyphs">Spin-up fraction</text>
<text x="344.2" y="308.6" font-size="10.0" font-style="italic" textLength="6.6" lengthAdjust="spacingAndGlyphs">T</text>
<text x="350" y="311.5" font-size="7.0" xml:space="preserve">2</text>
<text x="350.4" y="305.1" font-size="7.0" xml:space="preserve">H</text>
<rect x="358.8" y="304.4" width="6.1" height="3.0" fill="#9a9a9a"/>
<text x="367.9" y="308.6" font-size="10.0" xml:space="preserve" textLength="74.6" lengthAdjust="spacingAndGlyphs">51.24 ± 1.49 µs</text>
<text x="348.6" y="320.5" font-size="10.0" font-style="italic" textLength="5.8" lengthAdjust="spacingAndGlyphs">α</text>
<text x="358.1" y="320.5" font-size="10.0" xml:space="preserve" textLength="7.6" lengthAdjust="spacingAndGlyphs">=</text>
<text x="368.6" y="320.5" font-size="10.0" xml:space="preserve" textLength="58.8" lengthAdjust="spacingAndGlyphs">2.06  ± 0.17</text>
<text x="466.6" y="186.2" font-size="12" font-weight="bold" textLength="4.83" lengthAdjust="spacingAndGlyphs">f</text>
<line x1="516.66" y1="193.24" x2="516.66" y2="198.85" stroke="#4081bf" stroke-width="1.3" />
<line x1="513.16" y1="193.24" x2="520.16" y2="193.24" stroke="#4081bf" stroke-width="1.3" />
<line x1="513.16" y1="198.85" x2="520.16" y2="198.85" stroke="#4081bf" stroke-width="1.3" />
<circle cx="516.66" cy="196.05" r="2.8" fill="#4081bf"/>
<line x1="518.13" y1="198.18" x2="518.13" y2="203.78" stroke="#4081bf" stroke-width="1.3" />
<line x1="514.63" y1="198.18" x2="521.63" y2="198.18" stroke="#4081bf" stroke-width="1.3" />
<line x1="514.63" y1="203.78" x2="521.63" y2="203.78" stroke="#4081bf" stroke-width="1.3" />
<circle cx="518.13" cy="200.98" r="2.8" fill="#4081bf"/>
<line x1="521.05" y1="206.81" x2="521.05" y2="212.64" stroke="#4081bf" stroke-width="1.3" />
<line x1="517.55" y1="206.81" x2="524.55" y2="206.81" stroke="#4081bf" stroke-width="1.3" />
<line x1="517.55" y1="212.64" x2="524.55" y2="212.64" stroke="#4081bf" stroke-width="1.3" />
<circle cx="521.05" cy="209.73" r="2.8" fill="#4081bf"/>
<line x1="523.98" y1="206.81" x2="523.98" y2="212.64" stroke="#4081bf" stroke-width="1.3" />
<line x1="520.48" y1="206.81" x2="527.48" y2="206.81" stroke="#4081bf" stroke-width="1.3" />
<line x1="520.48" y1="212.64" x2="527.48" y2="212.64" stroke="#4081bf" stroke-width="1.3" />
<circle cx="523.98" cy="209.73" r="2.8" fill="#4081bf"/>
<line x1="526.9" y1="206.81" x2="526.9" y2="212.64" stroke="#4081bf" stroke-width="1.3" />
<line x1="523.4" y1="206.81" x2="530.4" y2="206.81" stroke="#4081bf" stroke-width="1.3" />
<line x1="523.4" y1="212.64" x2="530.4" y2="212.64" stroke="#4081bf" stroke-width="1.3" />
<circle cx="526.9" cy="209.73" r="2.8" fill="#4081bf"/>
<line x1="531.29" y1="207.93" x2="531.29" y2="215.11" stroke="#4081bf" stroke-width="1.3" />
<line x1="527.79" y1="207.93" x2="534.79" y2="207.93" stroke="#4081bf" stroke-width="1.3" />
<line x1="527.79" y1="215.11" x2="534.79" y2="215.11" stroke="#4081bf" stroke-width="1.3" />
<circle cx="531.29" cy="211.52" r="2.8" fill="#4081bf"/>
<line x1="534.22" y1="207.93" x2="534.22" y2="215.11" stroke="#4081bf" stroke-width="1.3" />
<line x1="530.72" y1="207.93" x2="537.72" y2="207.93" stroke="#4081bf" stroke-width="1.3" />
<line x1="530.72" y1="215.11" x2="537.72" y2="215.11" stroke="#4081bf" stroke-width="1.3" />
<circle cx="534.22" cy="211.52" r="2.8" fill="#4081bf"/>
<line x1="537.15" y1="207.93" x2="537.15" y2="215.11" stroke="#4081bf" stroke-width="1.3" />
<line x1="533.65" y1="207.93" x2="540.65" y2="207.93" stroke="#4081bf" stroke-width="1.3" />
<line x1="533.65" y1="215.11" x2="540.65" y2="215.11" stroke="#4081bf" stroke-width="1.3" />
<circle cx="537.15" cy="211.52" r="2.8" fill="#4081bf"/>
<line x1="547.39" y1="222.96" x2="547.39" y2="233.28" stroke="#4081bf" stroke-width="1.3" />
<line x1="543.89" y1="222.96" x2="550.89" y2="222.96" stroke="#4081bf" stroke-width="1.3" />
<line x1="543.89" y1="233.28" x2="550.89" y2="233.28" stroke="#4081bf" stroke-width="1.3" />
<circle cx="547.39" cy="228.12" r="2.8" fill="#4081bf"/>
<line x1="573.72" y1="253.24" x2="573.72" y2="265.8" stroke="#4081bf" stroke-width="1.3" />
<line x1="570.22" y1="253.24" x2="577.22" y2="253.24" stroke="#4081bf" stroke-width="1.3" />
<line x1="570.22" y1="265.8" x2="577.22" y2="265.8" stroke="#4081bf" stroke-width="1.3" />
<circle cx="573.72" cy="259.52" r="2.8" fill="#4081bf"/>
<line x1="600.05" y1="268.27" x2="600.05" y2="285.32" stroke="#4081bf" stroke-width="1.3" />
<line x1="596.55" y1="268.27" x2="603.55" y2="268.27" stroke="#4081bf" stroke-width="1.3" />
<line x1="596.55" y1="285.32" x2="603.55" y2="285.32" stroke="#4081bf" stroke-width="1.3" />
<circle cx="600.05" cy="276.79" r="2.8" fill="#4081bf"/>
<line x1="617.61" y1="274.33" x2="617.61" y2="289.13" stroke="#4081bf" stroke-width="1.3" />
<line x1="614.11" y1="274.33" x2="621.11" y2="274.33" stroke="#4081bf" stroke-width="1.3" />
<line x1="614.11" y1="289.13" x2="621.11" y2="289.13" stroke="#4081bf" stroke-width="1.3" />
<circle cx="617.61" cy="281.73" r="2.8" fill="#4081bf"/>
<line x1="639.56" y1="281.28" x2="639.56" y2="293.84" stroke="#4081bf" stroke-width="1.3" />
<line x1="636.06" y1="281.28" x2="643.06" y2="281.28" stroke="#4081bf" stroke-width="1.3" />
<line x1="636.06" y1="293.84" x2="643.06" y2="293.84" stroke="#4081bf" stroke-width="1.3" />
<circle cx="639.56" cy="287.56" r="2.8" fill="#4081bf"/>
<line x1="676.13" y1="300.12" x2="676.13" y2="312.23" stroke="#4081bf" stroke-width="1.3" />
<line x1="672.63" y1="300.12" x2="679.63" y2="300.12" stroke="#4081bf" stroke-width="1.3" />
<line x1="672.63" y1="312.23" x2="679.63" y2="312.23" stroke="#4081bf" stroke-width="1.3" />
<circle cx="676.13" cy="306.18" r="2.8" fill="#4081bf"/>
<polyline points="515.2,193.35 515.74,194.12 516.28,194.88 516.81,195.64 517.35,196.4 517.89,197.14 518.43,197.89 518.97,198.63 519.51,199.37 520.04,200.1 520.58,200.82 521.12,201.55 521.66,202.27 522.2,202.98 522.74,203.69 523.27,204.4 523.81,205.1 524.35,205.79 524.89,206.49 525.43,207.18 525.96,207.86 526.5,208.54 527.04,209.22 527.58,209.89 528.12,210.56 528.66,211.23 529.19,211.89 529.73,212.55 530.27,213.2 530.81,213.85 531.35,214.5 531.89,215.14 532.42,215.78 532.96,216.41 533.5,217.04 534.04,217.67 534.58,218.29 535.11,218.91 535.65,219.53 536.19,220.14 536.73,220.75 537.27,221.35 537.81,221.95 538.34,222.55 538.88,223.15 539.42,223.74 539.96,224.32 540.5,224.91 541.03,225.49 541.57,226.06 542.11,226.64 542.65,227.21 543.19,227.78 543.73,228.34 544.26,228.9 544.8,229.46 545.34,230.01 545.88,230.56 546.42,231.11 546.96,231.65 547.49,232.19 548.03,232.73 548.57,233.26 549.11,233.79 549.65,234.32 550.18,234.84 550.72,235.37 551.26,235.88 551.8,236.4 552.34,236.91 552.88,237.42 553.41,237.93 553.95,238.43 554.49,238.93 555.03,239.43 555.57,239.92 556.11,240.42 556.64,240.9 557.18,241.39 557.72,241.87 558.26,242.35 558.8,242.83 559.33,243.3 559.87,243.78 560.41,244.24 560.95,244.71 561.49,245.17 562.03,245.63 562.56,246.09 563.1,246.55 563.64,247 564.18,247.45 564.72,247.9 565.26,248.34 565.79,248.78 566.33,249.22 566.87,249.66 567.41,250.09 567.95,250.52 568.48,250.95 569.02,251.38 569.56,251.8 570.1,252.22 570.64,252.64 571.18,253.06 571.71,253.47 572.25,253.88 572.79,254.29 573.33,254.7 573.87,255.1 574.41,255.5 574.94,255.9 575.48,256.3 576.02,256.69 576.56,257.09 577.1,257.48 577.63,257.86 578.17,258.25 578.71,258.63 579.25,259.01 579.79,259.39 580.33,259.77 580.86,260.14 581.4,260.51 581.94,260.88 582.48,261.25 583.02,261.62 583.55,261.98 584.09,262.34 584.63,262.7 585.17,263.06 585.71,263.41 586.25,263.76 586.78,264.11 587.32,264.46 587.86,264.81 588.4,265.15 588.94,265.5 589.48,265.84 590.01,266.17 590.55,266.51 591.09,266.84 591.63,267.18 592.17,267.51 592.7,267.84 593.24,268.16 593.78,268.49 594.32,268.81 594.86,269.13 595.4,269.45 595.93,269.76 596.47,270.08 597.01,270.39 597.55,270.7 598.09,271.01 598.63,271.32 599.16,271.63 599.7,271.93 600.24,272.23 600.78,272.53 601.32,272.83 601.85,273.13 602.39,273.42 602.93,273.72 603.47,274.01 604.01,274.3 604.55,274.59 605.08,274.87 605.62,275.16 606.16,275.44 606.7,275.72 607.24,276 607.78,276.28 608.31,276.56 608.85,276.83 609.39,277.1 609.93,277.38 610.47,277.65 611,277.91 611.54,278.18 612.08,278.45 612.62,278.71 613.16,278.97 613.7,279.23 614.23,279.49 614.77,279.75 615.31,280 615.85,280.26 616.39,280.51 616.92,280.76 617.46,281.01 618,281.26 618.54,281.51 619.08,281.75 619.62,282 620.15,282.24 620.69,282.48 621.23,282.72 621.77,282.96 622.31,283.2 622.85,283.43 623.38,283.67 623.92,283.9 624.46,284.13 625,284.36 625.54,284.59 626.07,284.82 626.61,285.04 627.15,285.27 627.69,285.49 628.23,285.71 628.77,285.93 629.3,286.15 629.84,286.37 630.38,286.59 630.92,286.8 631.46,287.02 632,287.23 632.53,287.44 633.07,287.65 633.61,287.86 634.15,288.07 634.69,288.27 635.22,288.48 635.76,288.68 636.3,288.89 636.84,289.09 637.38,289.29 637.92,289.49 638.45,289.69 638.99,289.88 639.53,290.08 640.07,290.27 640.61,290.47 641.15,290.66 641.68,290.85 642.22,291.04 642.76,291.23 643.3,291.42 643.84,291.61 644.37,291.79 644.91,291.98 645.45,292.16 645.99,292.34 646.53,292.52 647.07,292.7 647.6,292.88 648.14,293.06 648.68,293.24 649.22,293.42 649.76,293.59 650.3,293.76 650.83,293.94 651.37,294.11 651.91,294.28 652.45,294.45 652.99,294.62 653.52,294.79 654.06,294.95 654.6,295.12 655.14,295.28 655.68,295.45 656.22,295.61 656.75,295.77 657.29,295.93 657.83,296.09 658.37,296.25 658.91,296.41 659.44,296.57 659.98,296.73 660.52,296.88 661.06,297.04 661.6,297.19 662.14,297.34 662.67,297.49 663.21,297.64 663.75,297.79 664.29,297.94 664.83,298.09 665.37,298.24 665.9,298.39 666.44,298.53 666.98,298.68 667.52,298.82 668.06,298.96 668.59,299.11 669.13,299.25 669.67,299.39 670.21,299.53 670.75,299.67 671.29,299.8 671.82,299.94 672.36,300.08 672.9,300.21 673.44,300.35 673.98,300.48 674.52,300.62 675.05,300.75 675.59,300.88 676.13,301.01" fill="none" stroke="#000" stroke-width="1.7" stroke-linejoin="round" stroke-linecap="butt"/>
<rect x="509" y="188.6" width="174.5" height="134.7" fill="none" stroke="#000" stroke-width="1.0"/>
<line x1="505.5" y1="323.5" x2="509" y2="323.5" stroke="#000" stroke-width="0.9" />
<text x="500.9" y="327.5" font-size="10.0" text-anchor="end" textLength="15.46" lengthAdjust="spacingAndGlyphs" >0.0</text>
<line x1="505.5" y1="278.5" x2="509" y2="278.5" stroke="#000" stroke-width="0.9" />
<text x="500.9" y="282.64" font-size="10.0" text-anchor="end" textLength="15.46" lengthAdjust="spacingAndGlyphs" >0.2</text>
<line x1="505.5" y1="233.5" x2="509" y2="233.5" stroke="#000" stroke-width="0.9" />
<text x="500.9" y="237.78" font-size="10.0" text-anchor="end" textLength="15.46" lengthAdjust="spacingAndGlyphs" >0.4</text>
<line x1="505.5" y1="188.5" x2="509" y2="188.5" stroke="#000" stroke-width="0.9" />
<text x="500.9" y="192.92" font-size="10.0" text-anchor="end" textLength="15.46" lengthAdjust="spacingAndGlyphs" >0.6</text>
<line x1="515.5" y1="323.3" x2="515.5" y2="326.8" stroke="#000" stroke-width="0.9" />
<text x="515.2" y="339.2" font-size="10.0" text-anchor="middle" textLength="6.18" lengthAdjust="spacingAndGlyphs" >0</text>
<line x1="588.5" y1="323.3" x2="588.5" y2="326.8" stroke="#000" stroke-width="0.9" />
<text x="588.35" y="339.2" font-size="10.0" text-anchor="middle" textLength="12.37" lengthAdjust="spacingAndGlyphs" >50</text>
<line x1="661.5" y1="323.3" x2="661.5" y2="326.8" stroke="#000" stroke-width="0.9" />
<text x="661.5" y="339.2" font-size="10.0" text-anchor="middle" textLength="18.55" lengthAdjust="spacingAndGlyphs" >100</text>
<text x="596.2" y="352.5" font-size="10.0" text-anchor="middle" textLength="79.54" lengthAdjust="spacingAndGlyphs" >Number of gates</text>
<text transform="translate(478.3,255.5) rotate(-90)" font-size="10" text-anchor="middle"><tspan font-style="italic">P</tspan><tspan font-size="7" dy="1.8">up</tspan><tspan dy="-1.8"> − </tspan><tspan font-style="italic">P</tspan><tspan font-size="7" dy="1.8">down</tspan></text>
<text x="587" y="201.9" font-size="10.0" font-style="italic" textLength="6.6" lengthAdjust="spacingAndGlyphs">F</text>
<text x="596.2" y="201.9" font-size="10.0" xml:space="preserve" textLength="7.6" lengthAdjust="spacingAndGlyphs">=</text>
<text x="606.6" y="201.9" font-size="10.0" xml:space="preserve" textLength="60.3" lengthAdjust="spacingAndGlyphs">99.2 ± 0.1 %</text>
</svg>
</body></html>
